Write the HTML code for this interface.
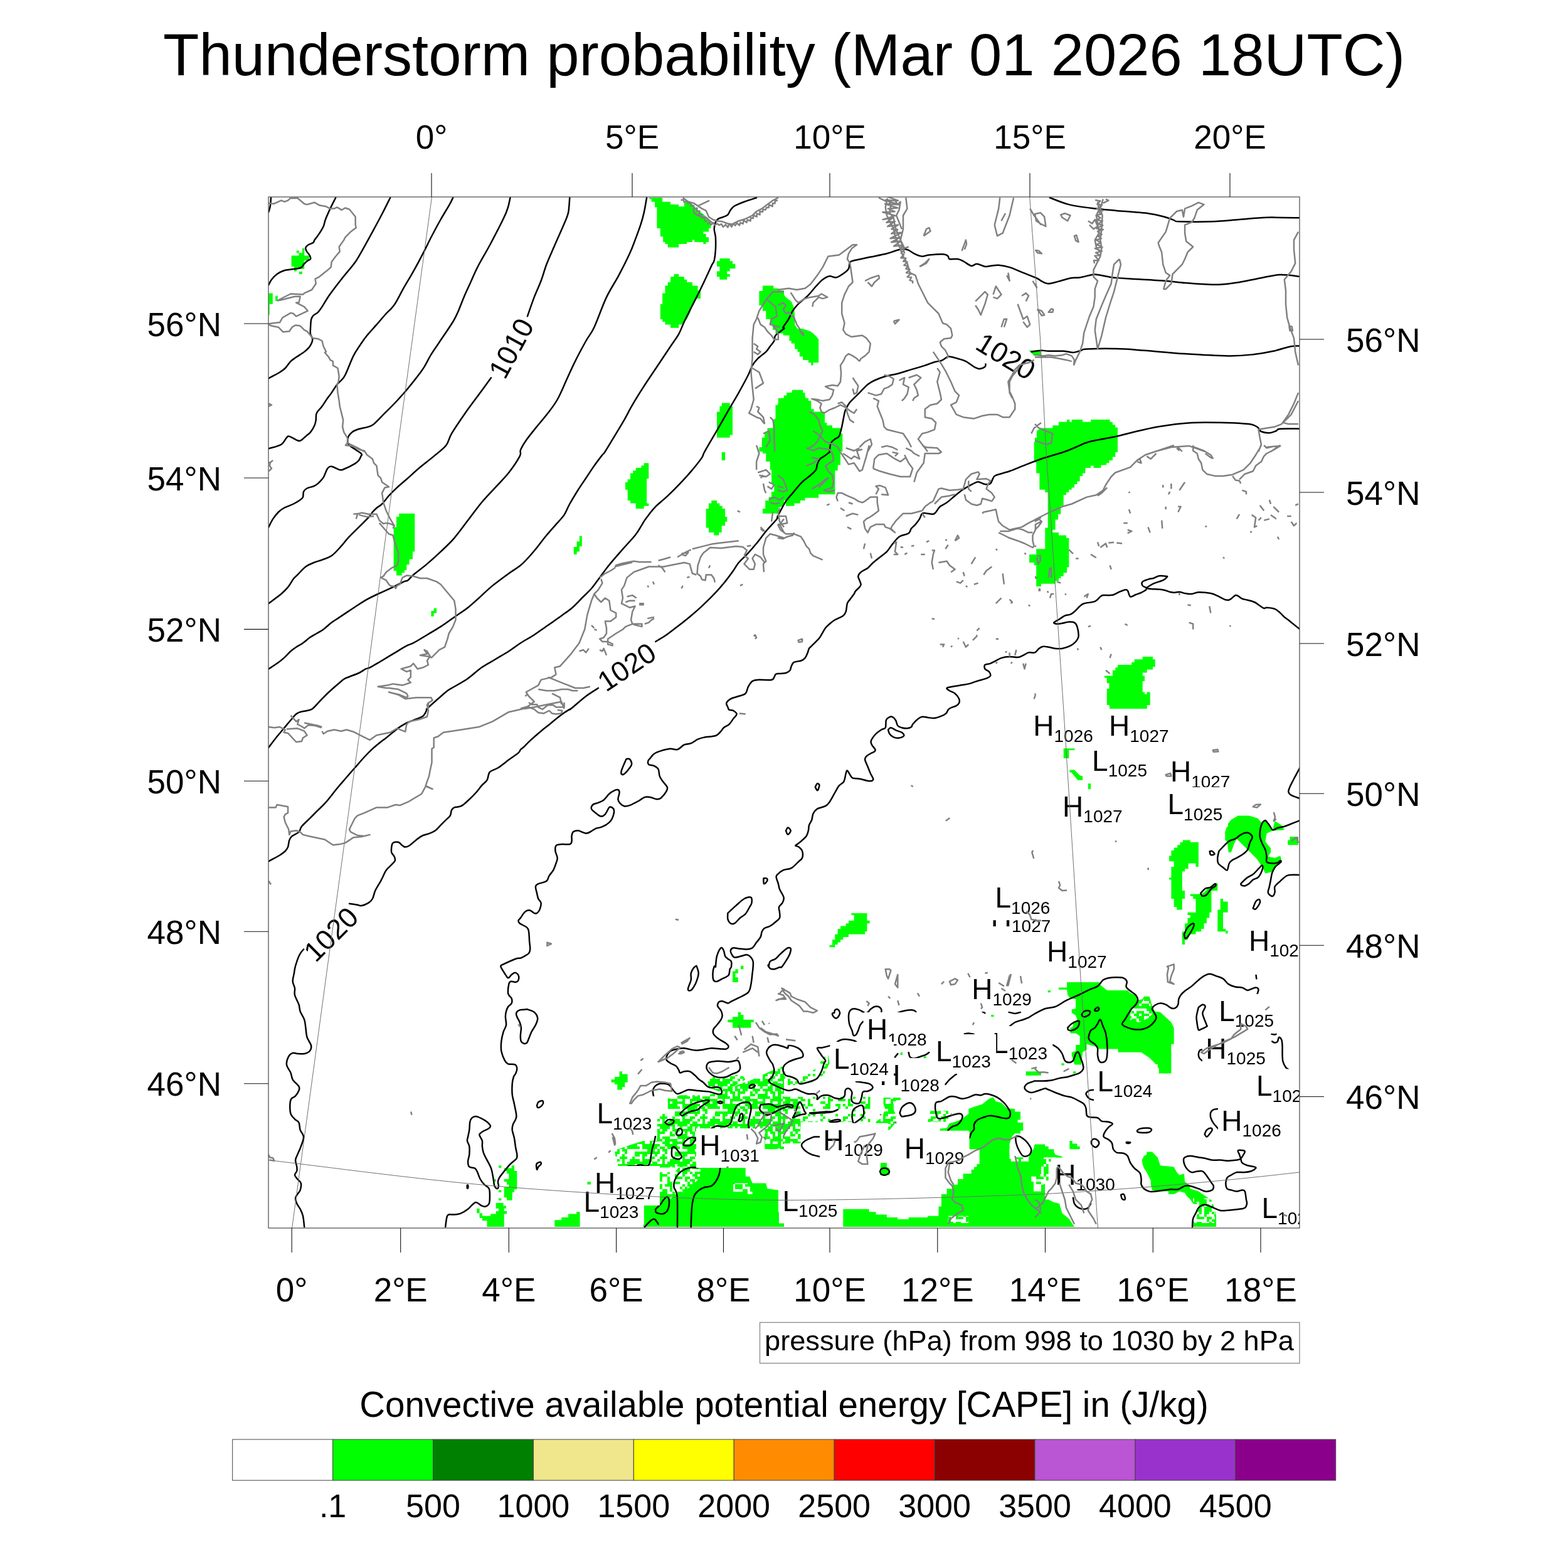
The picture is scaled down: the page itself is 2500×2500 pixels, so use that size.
<!DOCTYPE html>
<html><head><meta charset="utf-8">
<style>
html,body{margin:0;padding:0;background:#fff;}
body{width:2500px;height:2500px;overflow:hidden;}
svg{display:block;}
text{font-family:"Liberation Sans",Arial,sans-serif;fill:#000;}
</style></head><body>
<svg width="2500" height="2500" viewBox="0 0 2500 2500" xmlns="http://www.w3.org/2000/svg">
<rect width="2500" height="2500" fill="#fff"/>
<text x="1250" y="119.5" font-size="94" text-anchor="middle">Thunderstorm probability (Mar 01 2026 18UTC)</text>
<defs><pattern id="spk" width="64" height="64" patternUnits="userSpaceOnUse"><path fill="#00ff00" d="M0,0h8v4h-8zM12,0h40v4h-40zM56,0h8v4h-8zM8,4h8v4h-8zM20,4h4v4h-4zM28,4h16v4h-16zM48,4h4v4h-4zM60,4h4v4h-4zM0,8h16v4h-16zM20,8h8v4h-8zM32,8h8v4h-8zM48,8h12v4h-12zM4,12h4v4h-4zM12,12h8v4h-8zM24,12h12v4h-12zM44,12h4v4h-4zM52,12h4v4h-4zM0,16h8v4h-8zM16,16h4v4h-4zM24,16h4v4h-4zM44,16h8v4h-8zM56,16h8v4h-8zM0,20h12v4h-12zM16,20h12v4h-12zM32,20h12v4h-12zM56,20h8v4h-8zM0,24h4v4h-4zM12,24h20v4h-20zM36,24h20v4h-20zM0,28h4v4h-4zM12,28h4v4h-4zM32,28h12v4h-12zM48,28h16v4h-16zM0,32h28v4h-28zM36,32h20v4h-20zM0,36h24v4h-24zM28,36h8v4h-8zM40,36h20v4h-20zM8,40h12v4h-12zM24,40h4v4h-4zM32,40h8v4h-8zM0,44h28v4h-28zM36,44h4v4h-4zM52,44h12v4h-12zM0,48h8v4h-8zM20,48h4v4h-4zM32,48h4v4h-4zM52,48h8v4h-8zM0,52h4v4h-4zM12,52h8v4h-8zM28,52h12v4h-12zM48,52h4v4h-4zM0,56h16v4h-16zM24,56h4v4h-4zM32,56h4v4h-4zM44,56h16v4h-16zM0,60h12v4h-12zM16,60h8v4h-8zM32,60h4v4h-4zM40,60h24v4h-24z"/></pattern><pattern id="spw" width="64" height="64" patternUnits="userSpaceOnUse"><path fill="#fff" d="M0,0h4v4h-4zM8,0h4v4h-4zM24,0h4v4h-4zM40,0h4v4h-4zM48,0h8v4h-8zM12,4h4v4h-4zM60,4h4v4h-4zM12,8h24v4h-24zM48,8h4v4h-4zM60,8h4v4h-4zM8,12h4v4h-4zM16,12h4v4h-4zM32,12h8v4h-8zM44,12h12v4h-12zM60,12h4v4h-4zM4,16h12v4h-12zM24,16h4v4h-4zM40,16h12v4h-12zM56,16h8v4h-8zM0,20h4v4h-4zM12,20h8v4h-8zM32,20h8v4h-8zM44,20h8v4h-8zM0,24h4v4h-4zM8,24h4v4h-4zM20,24h4v4h-4zM32,24h8v4h-8zM44,24h20v4h-20zM0,28h8v4h-8zM12,28h4v4h-4zM20,28h20v4h-20zM48,28h4v4h-4zM60,28h4v4h-4zM4,32h4v4h-4zM16,32h4v4h-4zM32,32h4v4h-4zM48,32h16v4h-16zM0,36h4v4h-4zM8,36h12v4h-12zM32,36h12v4h-12zM48,36h12v4h-12zM8,40h4v4h-4zM16,40h16v4h-16zM40,40h4v4h-4zM48,40h16v4h-16zM0,44h16v4h-16zM40,44h8v4h-8zM52,44h4v4h-4zM0,48h4v4h-4zM24,48h4v4h-4zM0,52h20v4h-20zM44,52h4v4h-4zM4,56h4v4h-4zM12,56h12v4h-12zM28,56h4v4h-4zM44,56h4v4h-4zM4,60h12v4h-12zM20,60h4v4h-4zM28,60h12v4h-12zM52,60h4v4h-4z"/></pattern><pattern id="sps" width="64" height="64" patternUnits="userSpaceOnUse"><path fill="#00ff00" d="M24,0h4v4h-4zM40,0h4v4h-4zM48,0h4v4h-4zM60,0h4v4h-4zM16,4h8v4h-8zM28,4h16v4h-16zM36,8h4v4h-4zM44,8h4v4h-4zM8,12h8v4h-8zM32,12h4v4h-4zM48,12h4v4h-4zM0,16h16v4h-16zM20,16h4v4h-4zM32,16h4v4h-4zM40,16h4v4h-4zM48,16h4v4h-4zM56,16h4v4h-4zM16,20h4v4h-4zM32,20h4v4h-4zM40,20h4v4h-4zM60,20h4v4h-4zM0,24h4v4h-4zM8,24h4v4h-4zM40,24h8v4h-8zM56,24h8v4h-8zM8,28h4v4h-4zM28,28h8v4h-8zM40,28h4v4h-4zM0,32h4v4h-4zM8,32h8v4h-8zM36,32h8v4h-8zM52,32h8v4h-8zM4,36h4v4h-4zM32,36h12v4h-12zM56,36h4v4h-4zM16,40h4v4h-4zM32,44h4v4h-4zM8,48h4v4h-4zM16,48h4v4h-4zM28,48h4v4h-4zM52,48h4v4h-4zM0,52h8v4h-8zM32,52h4v4h-4zM0,56h4v4h-4zM28,56h4v4h-4zM40,56h4v4h-4zM8,60h8v4h-8zM20,60h4v4h-4zM40,60h8v4h-8zM52,60h4v4h-4zM60,60h4v4h-4z"/></pattern><clipPath id="fr"><rect x="428" y="314" width="1644" height="1644"/></clipPath></defs>
<g clip-path="url(#fr)">
<path fill="url(#spk)" d="M1064.8,1751.7 1084.3,1746.3 1121.3,1746.3 1151.7,1742 1169.1,1732.2 1199.6,1721.3 1227.8,1708.3 1250,1699.6 1250,1832.2 1214.8,1832.2 1214.8,1800.7 1110.4,1800.7 1110.4,1861.5 1047.4,1861.5 1047.4,1775.7 1064.8,1775.7Z M980,1834.3 1003.9,1825.7 1025.7,1819.1 1047.4,1819.1 1047.4,1861.5 986.5,1861.5 982.2,1849.6Z M1127.8,1721.3 1134.3,1717 1145.2,1717 1156.1,1719.1 1169.1,1714.8 1182.2,1712.6 1188.7,1721.3 1169.1,1732.2 1151.7,1742 1130,1734.3Z M1245.4,1748.7 1276.5,1748.7 1276.5,1823 1245.4,1823Z M1408.5,1749.6 1435.7,1749.6 1435.7,1753.9 1429.1,1753.9 1424.8,1760.4 1424.8,1769.1 1429.1,1780 1429.1,1788.7 1418.3,1801.7 1396.5,1801.7 1396.5,1788.7 1405.2,1782.2 1411.7,1769.1 1408.5,1760.4Z M1483.5,1771.3 1511.7,1771.3 1518.3,1780 1511.7,1788.7 1479.1,1788.7Z"/>
<path fill="url(#sps)" d="M1240,1703.9 1246.5,1701.7 1250.9,1708.3 1261.7,1714.8 1274.8,1719.1 1283.5,1712.6 1294.3,1708.3 1303,1701.7 1311.7,1686.5 1320.4,1682.2 1322.6,1695.2 1313.9,1712.6 1303,1723.5 1283.5,1727.8 1274.8,1730 1240,1730Z M1276.5,1748.7 1387.4,1748.7 1387.4,1788.9 1276.5,1788.9Z"/>
<path fill="#00ff00" d="M464.6,407.6h20.7v17.4h-20.7z M468.9,425h16.3v3.7h-16.3z M472.8,399.6h3.9v3.9h-3.9z M482,395.7h3.3v12h-3.3z M476.5,403.3h5.4v4.3h-5.4z M485.2,407.6h7.6v7.6h-7.6z M477,433h4.8v3.9h-4.8z M468.9,428.7h3.9v3.9h-3.9z M428.3,467.4h6.5v17.4h-6.5z M428.3,484.8h1.5v17.4h-1.5z M439.1,471.7h3.7v8.3h-3.7z M1035.4,315.2 1056.1,315.2 1056.1,321.7 1069.1,321.7 1069.1,326.1 1082.2,326.1 1082.2,329.3 1090.9,329.3 1090.9,320.7 1099.6,320.7 1106.1,328.3 1110.4,332.6 1114.8,337 1121.3,341.3 1130,350 1133.3,356.5 1133.3,364.1 1130,364.1 1130,369.6 1121.3,369.6 1121.3,372.8 1125.7,372.8 1125.7,378.3 1130,378.3 1130,385.9 1125.7,385.9 1125.7,389.1 1121.3,389.1 1121.3,385.9 1107.2,385.9 1107.2,382.6 1103.9,382.6 1103.9,385.9 1095.2,385.9 1095.2,389.1 1082.2,389.1 1082.2,394.6 1064.8,394.6 1064.8,389.1 1060.4,389.1 1060.4,385.9 1057.2,385.9 1057.2,377.2 1052.8,377.2 1052.8,364.1 1047.4,364.1 1047.4,330.4 1044.1,330.4 1044.1,321.7 1038.7,321.7 1038.7,317.4 1035.4,317.4Z M1147.4,412 1163.7,412 1163.7,416.3 1168,416.3 1168,420.7 1172.4,420.7 1172.4,428.3 1163.7,428.3 1163.7,432.6 1159.3,432.6 1159.3,437 1163.7,437 1163.7,441.3 1159.3,441.3 1159.3,445.7 1147.4,445.7 1147.4,441.3 1143,441.3 1143,432.6 1147.4,432.6 1147.4,425 1143,425 1143,416.3 1147.4,416.3Z M1074.6,437 1082.2,437 1082.2,441.3 1090.9,441.3 1090.9,445.7 1095.2,445.7 1095.2,450 1103.9,450 1103.9,455.4 1112.6,455.4 1112.6,463 1117,463 1117,476.1 1110.4,476.1 1103.9,487 1099.6,500 1095.2,508.7 1090.9,513 1086.5,517.4 1082.2,517.4 1082.2,522.8 1069.1,522.8 1069.1,517.4 1060.4,517.4 1060.4,513 1056.1,513 1056.1,508.7 1052.8,508.7 1052.8,484.8 1056.1,484.8 1056.1,467.4 1060.4,467.4 1060.4,455.4 1064.8,455.4 1064.8,450 1069.1,450 1069.1,441.3 1074.6,441.3Z M1150.7,642.4 1163.7,642.4 1163.7,647.8 1168,647.8 1168,693.5 1163.7,693.5 1163.7,697.8 1143,697.8 1143,656.5 1147.4,656.5 1147.4,647.8 1150.7,647.8Z M1210.4,464.1 1215.9,464.1 1215.9,455.4 1233.3,455.4 1233.3,459.8 1240.9,459.8 1240.9,463 1250,463 1250,531.5 1236.5,531.5 1236.5,526.1 1232.2,526.1 1232.2,517.4 1227.8,517.4 1227.8,508.7 1221.3,508.7 1221.3,495.7 1215.9,495.7 1215.9,487 1210.4,487Z M1240.9,634.8 1250,634.8 1250,720 1210.4,720 1210.4,713 1214.8,713 1214.8,697.8 1219.1,697.8 1219.1,689.1 1223.5,689.1 1223.5,682.6 1232.2,682.6 1232.2,669.6 1236.5,667.4 1236.5,645.7 1240.9,645.7Z M1240,459.8 1246.5,465.2 1253,473.9 1261.7,480.4 1266.1,491.3 1267.2,504.3 1267.2,517.4 1271.5,523.9 1279.1,523.9 1292.2,528.3 1297.6,532.6 1302,537 1305.2,541.3 1305.2,578.3 1296.5,578.3 1296.5,582.6 1293.3,582.6 1293.3,578.3 1288.9,578.3 1288.9,573.9 1280.2,573.9 1280.2,568.5 1274.8,568.5 1274.8,560.9 1271.5,560.9 1271.5,556.5 1267.2,556.5 1267.2,547.8 1261.7,547.8 1261.7,543.5 1258.5,543.5 1258.5,534.8 1248.7,534.8 1248.7,530.4 1240,530.4Z M1240,643.5 1245.4,643.5 1245.4,634.8 1249.8,634.8 1249.8,630.4 1254.1,630.4 1254.1,626.1 1262.8,626.1 1262.8,621.7 1280.2,621.7 1280.2,626.1 1283.5,626.1 1283.5,630.4 1284.6,634.8 1288.9,634.8 1288.9,639.1 1293.3,639.1 1293.3,652.2 1297.6,652.2 1297.6,656.5 1315,656.5 1315,673.9 1318.3,673.9 1318.3,678.3 1327,678.3 1327,682.6 1340,682.6 1340,691.3 1343.3,691.3 1343.3,720 1240,720Z M1653,687 1660,682.6 1660,720 1648.7,720 1648.7,704.3 1653,704.3Z M1640,558.7 1660,558.7 1660,567.4 1648.7,567.4 1644.3,562Z M1650,720 1650,697.8 1653.3,697.8 1653.3,687 1658.7,687 1658.7,682.6 1678.3,682.6 1678.3,678.3 1688,678.3 1688,672.8 1701.1,672.8 1701.1,669.1 1705.4,669.1 1705.4,672.8 1708.7,672.8 1708.7,669.1 1726.1,669.1 1726.1,672.8 1739.1,672.8 1739.1,669.1 1769.6,669.1 1769.6,672.8 1773.9,672.8 1773.9,677.2 1778.3,677.2 1778.3,681.5 1782,681.5 1782,720Z M1650,558.7 1657.6,558.7 1657.6,567.4 1650,567.4Z M636.3,818.7 661.3,818.7 661.3,879.6 658,879.6 658,891.5 652.6,891.5 652.6,900.2 648.3,900.2 648.3,908.9 645,908.9 645,913.3 640.7,913.3 640.7,917.6 632,917.6 632,910 627.6,910 627.6,840.4 632,840.4 632,824.1 636.3,824.1Z M691.7,969.8 696.1,969.8 696.1,977.4 691.7,977.4 691.7,982.8 687.4,982.8 687.4,974.1 691.7,974.1Z M1026.7,738.3 1034.3,738.3 1034.3,763.3 1031.1,763.3 1031.1,802.4 1034.3,802.4 1034.3,806.7 1026.7,806.7 1026.7,811.1 1013.7,811.1 1013.7,802.4 1005,802.4 1005,798 1000.7,798 1000.7,780.7 997,780.7 997,768.7 1000.7,768.7 1000.7,764.3 1005,764.3 1005,754.6 1009.3,754.6 1009.3,750.2 1013.7,750.2 1013.7,745.9 1022.4,745.9 1022.4,742.2 1026.7,742.2Z M923.9,854.6 927.8,854.6 927.8,870.9 923.9,870.9 923.9,879.6 919.6,879.6 919.6,883.9 914.8,883.9 914.8,872 919.6,872 919.6,863.3 923.9,863.3Z M1134.3,798 1143,798 1143,802.4 1147.4,802.4 1147.4,806.7 1151.7,806.7 1151.7,811.1 1156.1,811.1 1156.1,824.1 1159.3,824.1 1159.3,831.7 1156.1,831.7 1156.1,838.3 1150.7,838.3 1150.7,849.1 1146.3,849.1 1146.3,853.5 1138.3,853.5 1138.3,849.1 1130,849.1 1130,841.5 1125.7,841.5 1125.7,811.1 1130,811.1 1130,802.4 1134.3,802.4Z M1150.7,720.9h5.4v13h-5.4z M1215.9,710 1250,710 1250,805.7 1240.9,810 1240.9,818.7 1215.9,818.7 1215.9,811.1 1220.2,811.1 1220.2,798 1225.7,798 1225.7,792.6 1230,792.6 1230,783.9 1234.3,783.9 1234.3,770.9 1230,770.9 1230,749.1 1227.8,749.1 1227.8,736.1 1221.3,736.1 1221.3,723 1215.9,723Z M1240,710 1340,710 1340,741.5 1335.7,741.5 1335.7,750.2 1331.3,750.2 1331.3,788.3 1305.2,788.3 1305.2,793.7 1283.5,793.7 1283.5,798 1275.9,798 1275.9,802.4 1266.5,802.4 1266.5,806.7 1253,806.7 1253,798 1240,798Z M1648.7,710 1660,710 1660,780.7 1657.4,780.7 1657.4,754.6 1653,754.6 1653,733.9 1648.7,733.9Z M1653,875.2 1660,875.2 1660,935 1653,935 1653,914.3 1657.4,914.3 1657.4,910 1653,910 1653,905.7 1657.4,905.7 1657.4,901.3 1648.7,901.3 1648.7,897 1641.1,897 1641.1,883.9 1653,883.9Z M1650,710 1782,710 1782,720.9 1778.3,720.9 1778.3,728.5 1773.9,728.5 1773.9,733.9 1768.5,733.9 1768.5,738.3 1764.1,738.3 1764.1,741.5 1755.4,741.5 1755.4,745.9 1743.5,745.9 1743.5,742.6 1739.1,742.6 1739.1,745.9 1730.4,745.9 1730.4,754.6 1726.1,754.6 1726.1,758.9 1721.7,758.9 1721.7,767.6 1717.4,767.6 1717.4,772 1713,772 1713,777.4 1708.7,777.4 1708.7,780.7 1704.3,780.7 1704.3,785 1700,785 1700,789.3 1695.7,789.3 1695.7,806.7 1691.3,806.7 1691.3,819.8 1687,819.8 1687,828.5 1682.6,828.5 1682.6,844.8 1678.3,844.8 1678.3,849.1 1688,849.1 1688,853.5 1700,853.5 1700,857.8 1704.3,857.8 1704.3,904.6 1701.1,904.6 1701.1,913.3 1695.7,913.3 1695.7,918.7 1691.3,918.7 1691.3,922 1688,922 1688,926.3 1682.6,926.3 1682.6,930.7 1659.8,930.7 1659.8,935 1652.2,935 1652.2,875.2 1666.3,875.2 1666.3,841.5 1670.7,841.5 1670.7,785 1666.3,785 1666.3,780.7 1658.7,780.7 1658.7,754.6 1652.2,754.6 1652.2,737.2 1650,737.2Z M1821.7,1047 1838,1047 1838,1051.3 1841.7,1051.3 1841.7,1063.3 1838,1063.3 1838,1067.6 1828.7,1067.6 1828.7,1072.6 1821.7,1072.6 1821.7,1077.4 1825,1077.4 1825,1086.1 1821.7,1086.1 1821.7,1103.5 1825,1103.5 1825,1106.7 1828.7,1106.7 1828.7,1103.5 1833.7,1103.5 1833.7,1124.1 1828.7,1124.1 1828.7,1130 1769.1,1130 1769.1,1124.1 1764.8,1124.1 1764.8,1098 1768.5,1098 1768.5,1089.3 1764.8,1089.3 1764.8,1080.7 1760.9,1080.7 1760.9,1077.4 1773.9,1077.4 1773.9,1068.7 1778.3,1068.7 1778.3,1064.3 1782,1064.3 1782,1060 1804.3,1060 1804.3,1055.7 1808.7,1055.7 1808.7,1051.3 1821.7,1051.3Z M1357.4,1455.9 1382.4,1455.9 1382.4,1467.8 1386.7,1467.8 1386.7,1472.2 1382.4,1472.2 1382.4,1485.2 1379.1,1485.2 1379.1,1489.6 1353,1489.6 1353,1493.9 1344.3,1493.9 1344.3,1498.3 1340,1498.3 1340,1502.6 1335.7,1502.6 1335.7,1505.9 1331.3,1505.9 1331.3,1510.2 1322.6,1510.2 1322.6,1507 1327,1507 1327,1498.3 1331.3,1498.3 1331.3,1489.6 1335.7,1489.6 1335.7,1480.9 1340,1480.9 1340,1476.5 1348.7,1476.5 1348.7,1472.2 1353,1472.2 1353,1467.8 1361.7,1467.8 1361.7,1459.1 1357.4,1459.1Z M1768.5,1120 1833.7,1120 1833.7,1124.3 1828.7,1124.3 1828.7,1129.8 1773.9,1129.8 1773.9,1125.4 1768.5,1125.4Z M1695.7,1192.8 1713.5,1192.8 1713.5,1196.1 1704.3,1196.1 1704.3,1209.1 1695.7,1209.1Z M1705.4,1227.6 1713,1227.6 1717.4,1232 1721.7,1236.3 1726.1,1237.4 1726.1,1243.9 1718.5,1243.9 1713,1237.4 1708.7,1232 1705.4,1230.9Z M1734.8,1249.3h4.3v9.3h-4.3z M1885.9,1339.6 1897.8,1339.6 1897.8,1342.8 1910.9,1342.8 1910.9,1382 1906.5,1382 1906.5,1376.5 1894.6,1376.5 1894.6,1385.2 1889.1,1385.2 1889.1,1389.6 1884.8,1389.6 1884.8,1420 1889.1,1420 1889.1,1433 1884.8,1433 1884.8,1450.4 1876.1,1450.4 1876.1,1446.1 1871.7,1446.1 1871.7,1433 1867.4,1433 1867.4,1402.6 1864.1,1402.6 1864.1,1399.3 1867.4,1399.3 1867.4,1382 1871.7,1382 1871.7,1373.3 1864.1,1373.3 1864.1,1364.6 1867.4,1364.6 1867.4,1355.9 1871.7,1355.9 1871.7,1351.5 1877.2,1351.5 1877.2,1347.2 1881.5,1347.2 1881.5,1342.8 1885.9,1342.8Z M1897.8,1425.4 1914.1,1425.4 1919.6,1423.3 1926.1,1415.7 1932.6,1411.3 1937,1408 1941.3,1408 1941.3,1420 1931.5,1420 1931.5,1454.8 1928.3,1454.8 1928.3,1463.5 1923.9,1463.5 1923.9,1472.2 1919.6,1472.2 1919.6,1480.9 1915.2,1480.9 1915.2,1485.2 1906.5,1485.2 1906.5,1489.6 1897.8,1489.6 1893.5,1498.3 1889.1,1498.3 1889.1,1505.9 1884.8,1505.9 1884.8,1485.2 1889.1,1485.2 1889.1,1472.2 1893.5,1472.2 1893.5,1463.5 1897.8,1463.5 1897.8,1459.1 1893.5,1459.1 1893.5,1454.8 1906.5,1454.8 1906.5,1433 1902.2,1433 1902.2,1428.7 1897.8,1428.7Z M1945.7,1433 1950,1433 1950,1437.4 1957.6,1437.4 1957.6,1454.8 1950,1454.8 1950,1480.9 1954.3,1480.9 1954.3,1484.1 1957.6,1484.1 1957.6,1488.5 1954.3,1488.5 1954.3,1485.2 1941.3,1485.2 1941.3,1450.4 1945.7,1450.4Z M1963,1307 1973.9,1300.4 1991.3,1300.4 2005.4,1304.8 2010.9,1311.3 2017.4,1308 2023.9,1315.7 2029.3,1322.2 2032.6,1309.1 2043.5,1315.7 2047.8,1323.3 2029.3,1324.3 2019.6,1328.7 2017.4,1341.7 2026.1,1352.6 2026.1,1359.1 2021.7,1365.7 2032.6,1367.8 2041.3,1364.6 2043.5,1372.2 2032.6,1384.1 2030.4,1389.6 2017.4,1392.8 2013,1383 2004.3,1370 1995.7,1361.3 1989.1,1354.8 1982.6,1348.3 1976.1,1341.7 1971.7,1337.4 1967.4,1346.1 1963,1359.1 1958.7,1359.1 1956.5,1341.7 1953.3,1339.6 1953.3,1326.5 1957.6,1313.5Z M2056.5,1334.1 2070,1334.1 2070,1347.2 2053.3,1347.2 2053.3,1339.6 2056.5,1339.6Z M803.7,1862.6 815.7,1862.6 815.7,1858.3 820,1858.3 820,1867 824.3,1867 824.3,1896.3 820,1896.3 820,1900.7 816.7,1900.7 816.7,1913.7 808,1913.7 808,1909.3 803.7,1909.3 803.7,1893 811.3,1893 811.3,1888.7 808,1888.7 808,1884.3 803.7,1884.3 803.7,1880 811.3,1880 811.3,1871.3 808,1871.3 808,1867 803.7,1867Z M795,1858.3h4.3v3.7h-4.3z M795,1897.4h4.3v3.7h-4.3z M795,1910.4h4.3v3.7h-4.3z M787.4,1880h3.3v4.3h-3.3z M790.7,1918 802.6,1918 802.6,1922.4 807,1922.4 807,1926.7 803.7,1926.7 803.7,1931.1 808,1931.1 808,1935.4 803.7,1935.4 803.7,1956.1 776.5,1956.1 776.5,1946.3 768.9,1946.3 768.9,1942 764.6,1942 764.6,1934.3 760.2,1934.3 760.2,1926.7 764.6,1926.7 764.6,1934.3 768.9,1934.3 768.9,1938.7 782,1938.7 782,1935.4 790.7,1935.4 790.7,1931.1 795,1931.1 795,1926.7 790.7,1926.7Z M1181.1,1539.8 1185.4,1539.8 1185.4,1545.2 1176.7,1545.2 1176.7,1551.7 1172.4,1551.7 1172.4,1558.3 1176.7,1558.3 1176.7,1565.9 1168,1565.9 1168,1548.5 1172.4,1548.5 1172.4,1545.2 1181.1,1545.2Z M1176.7,1613.7 1181.1,1613.7 1181.1,1618 1185.4,1618 1185.4,1625.7 1201.7,1625.7 1201.7,1630 1197.4,1630 1197.4,1638.7 1168,1638.7 1168,1630 1160.4,1630 1160.4,1625.7 1168,1625.7 1168,1621.3 1176.7,1621.3Z M987.6,1708.3 992,1708.3 992,1712.6 1000.7,1712.6 1000.7,1725.7 996.3,1725.7 996.3,1733.3 992,1733.3 992,1737.6 984.3,1737.6 984.3,1728.9 980,1728.9 980,1725.7 974.6,1725.7 974.6,1721.3 980,1721.3 980,1717 987.6,1717Z M1051.7,1869.1 1075.7,1869.1 1082.2,1861.5 1112.6,1861.5 1188.7,1861.5 1188.7,1875.7 1195.2,1875.7 1199.6,1886.5 1221.3,1886.5 1223.5,1895.2 1240.9,1897.4 1240.9,1932.2 1250,1936.5 1250,1956.1 1025.7,1956.1 1025.7,1921.3 1050.7,1921.3 1050.7,1873.5Z M884.3,1956.1 884.3,1945.2 895.2,1945.2 895.2,1940.9 906.1,1940.9 906.1,1935.4 919.1,1935.4 919.1,1932.2 924.6,1932.2 924.6,1956.1Z M936.5,1884.3h5.4v4.3h-5.4z M1544.3,1832.2 1544.3,1802.8 1498.7,1802.8 1498.7,1799.6 1509.6,1798.5 1513.9,1790.9 1522.6,1788.7 1533.5,1784.3 1544.3,1775.7 1544.3,1768 1553,1764.8 1566.1,1760.4 1577,1751.7 1583.5,1749.6 1587.8,1756.1 1596.5,1758.3 1600.9,1762.6 1605.2,1767 1618.3,1768 1618.3,1772.4 1627,1772.4 1627,1785.4 1622.6,1785.4 1622.6,1789.8 1631.3,1789.8 1631.3,1802.8 1627,1802.8 1627,1807.2 1618.3,1807.2 1613.9,1811.5 1609.6,1823.5 1609.6,1845.2 1631.3,1845.2 1631.3,1851.7 1640,1851.7 1640,1845.2 1648.7,1830 1648.7,1825.7 1666.1,1824.6 1666.1,1956.1 1496.5,1956.1 1496.5,1923.5 1500.9,1923.5 1500.9,1903.9 1509.6,1903.9 1509.6,1895.2 1518.3,1895.2 1518.3,1888.7 1527,1888.7 1527,1880 1535.7,1880 1535.7,1871.3 1548.7,1871.3 1548.7,1864.8 1553,1864.8 1553,1860.4 1557.4,1860.4 1557.4,1856.1 1561.7,1856.1 1561.7,1832.2Z M1344.3,1927.8 1385.7,1927.8 1385.7,1932.2 1396.5,1932.2 1396.5,1936.5 1413.9,1936.5 1413.9,1940.9 1431.3,1940.9 1431.3,1944.1 1448.7,1944.1 1448.7,1940.9 1479.1,1940.9 1479.1,1938.7 1496.5,1938.7 1496.5,1956.1 1344.3,1956.1Z M1240,1727 1245.4,1727 1245.4,1831.1 1240,1831.1Z M1404.1,1853.9 1413.9,1853.9 1413.9,1860.4 1418.3,1862.6 1418.3,1873.5 1403,1873.5Z M1580.2,1618h4.3v3.3h-4.3z M1635.7,1708.3h24.3v6.5h-24.3z M1435.7,1677.8h3.3v4.3h-3.3z M1472.6,1684.3h4.3v3.3h-4.3z M1701.1,1565.9 1752.2,1565.9 1754.3,1570.2 1765.2,1578.9 1797.8,1578.9 1802.2,1583.3 1812,1587.6 1813,1595.2 1821.7,1593 1823.9,1588.7 1832.6,1588.7 1837,1603.9 1841.3,1612.6 1850,1613.7 1867.4,1630 1871.7,1638.7 1871.7,1664.8 1867.4,1664.8 1867.4,1711.5 1847.8,1711.5 1847.8,1703.9 1841.3,1695.2 1832.6,1686.5 1819.6,1677.8 1782.6,1677.8 1782.6,1672.4 1752.2,1672.4 1747.8,1669.1 1732.6,1664.8 1732.6,1673.5 1726.1,1677.8 1723.9,1697.4 1713,1697.4 1708.7,1682.2 1708.7,1677.8 1715.2,1675.7 1715.2,1665.9 1721.7,1665.9 1721.7,1651.7 1715.2,1647.4 1706.5,1647.4 1706.5,1638.7 1710.9,1636.5 1710.9,1630 1717.4,1625.7 1715.2,1619.1 1708.7,1614.8 1708.7,1609.3 1715.2,1608.3 1715.2,1593 1706.5,1592 1702.2,1586.5 1701.1,1577.8 1688,1577.8 1688,1574.6 1701.1,1574.6Z M1670.7,1578.9h4.3v3.3h-4.3z M1692.4,1695.2h4.3v3.3h-4.3z M1710.9,1708.3h4.3v3.3h-4.3z M1650,1708.3h8.7v6.5h-8.7z M1650,1824.6 1665.2,1824.6 1665.2,1827.8 1671.7,1827.8 1671.7,1832.2 1680.4,1832.2 1680.4,1836.5 1682.6,1840.9 1693.5,1844.1 1693.5,1847.4 1676.1,1847.4 1676.1,1853.9 1671.7,1853.9 1671.7,1882.2 1667.4,1882.2 1663,1895.2 1658.7,1897.4 1658.7,1912.6 1671.7,1912.6 1680.4,1917 1689.1,1919.1 1693.5,1934.3 1704.3,1943 1713,1956.1 1650,1956.1Z M1705.4,1819.1 1709.8,1819.1 1709.8,1823.5 1717.4,1823.5 1717.4,1827.8 1721.7,1827.8 1721.7,1832.2 1705.4,1832.2Z M1828.3,1836.5 1837,1836.5 1845.7,1845.2 1850,1858.3 1871.7,1860.4 1876.1,1869.1 1880.4,1873.5 1888,1871.3 1889.1,1884.3 1895.7,1888.7 1897.8,1895.2 1910.9,1899.6 1917.4,1903.9 1923.9,1908.3 1932.6,1914.8 1934.8,1921.3 1937,1930 1939.1,1938.7 1939.1,1956.1 1902.2,1956.1 1902.2,1943 1906.5,1934.3 1910.9,1927.8 1908.7,1921.3 1902.2,1919.1 1897.8,1912.6 1891.3,1906.1 1889.1,1901.7 1880.4,1899.6 1871.7,1903.9 1863,1903.9 1863,1899.6 1845.7,1899.6 1837,1897.4 1834.8,1888.7 1834.8,1882.2 1832.6,1877.8 1828.3,1869.1 1823.9,1862.6 1821.7,1856.1 1820.7,1849.6 1823.9,1843 1828.3,1840.9Z"/>
<path fill="url(#spw)" d="M1050,1861.1 1117,1861.1 1117,1877.8 1090.9,1899.6 1069.1,1911.1 1050,1911.1Z M1169.1,1886.5 1199.6,1886.5 1199.6,1903.9 1169.1,1903.9Z M1609.6,1830 1631.3,1830 1631.3,1851.7 1609.6,1851.7Z M1644.3,1875.7 1660,1875.7 1660,1899.6 1644.3,1899.6Z M1511.7,1938.7 1544.3,1938.7 1544.3,1950 1511.7,1950Z M1806.5,1601.7 1819.6,1599.6 1823.9,1593 1832.6,1593 1834.8,1603.9 1837,1617 1830.4,1623.5 1815.2,1630 1802.2,1625.7 1802.2,1617Z M1658.7,1845.2 1693.5,1845.2 1693.5,1888.7 1658.7,1888.7Z M1902.2,1910.4 1937,1910.4 1937,1950 1902.2,1950Z"/>
<path fill="none" stroke="#000" stroke-width="2.5" stroke-linejoin="round" stroke-linecap="round" d="M998.5,1210.2 C999.4,1210.2 1002.5,1208.9 1003.9,1210.2 C1005.4,1211.5 1007.2,1215.5 1007.2,1217.8 C1007.2,1220.2 1005.9,1221.6 1003.9,1224.3 C1001.9,1227.1 997.4,1232.5 995.2,1234.1 C993,1235.8 991.6,1235 990.9,1234.1 C990.1,1233.2 990.1,1231.4 990.9,1228.7 C991.6,1226 993.9,1220.9 995.2,1217.8 C996.5,1214.7 997.9,1211.5 998.5,1210.2Z M1217.4,1400.4 C1218.2,1400.4 1221.4,1399.7 1222.4,1400.4 C1223.3,1401.2 1223.8,1403.3 1223,1404.8 C1222.3,1406.2 1219,1409.9 1218,1409.1 C1217.1,1408.4 1217.5,1401.9 1217.4,1400.4Z M1160.4,1455.9 C1162.6,1453.9 1169.1,1447.7 1173.5,1443.9 C1177.8,1440.1 1182.5,1435.2 1186.5,1433 C1190.5,1430.9 1195.4,1429.8 1197.4,1430.9 C1199.4,1432 1198.8,1437 1198.5,1439.6 C1198.1,1442.1 1196.8,1443.2 1195.2,1446.1 C1193.6,1449 1191.2,1454.1 1188.7,1457 C1186.2,1459.9 1182.9,1460.9 1180,1463.5 C1177.1,1466 1173.8,1470.7 1171.3,1472.2 C1168.8,1473.6 1166.6,1473.3 1164.8,1472.2 C1163,1471.1 1161.2,1468.4 1160.4,1465.7 C1159.7,1462.9 1160.4,1457.5 1160.4,1455.9Z M1416.1,1163.5 C1416.8,1162.9 1418.3,1160 1420.4,1160.2 C1422.6,1160.4 1426.2,1163.3 1429.1,1164.6 C1432,1165.8 1435.8,1166.4 1437.8,1167.8 C1439.8,1169.3 1441.8,1171.8 1441.1,1173.3 C1440.4,1174.7 1436.2,1176.2 1433.5,1176.5 C1430.8,1176.9 1427.3,1176.5 1424.8,1175.4 C1422.2,1174.3 1419.7,1172 1418.3,1170 C1416.8,1168 1416.4,1164.6 1416.1,1163.5Z M1299.8,1254.8 C1300.3,1253.9 1302,1249.9 1303,1249.3 C1304.1,1248.8 1305.9,1250.3 1306.3,1251.5 C1306.7,1252.8 1305.8,1255.5 1305.2,1257 C1304.7,1258.4 1303.9,1260.6 1303,1260.2 C1302.1,1259.9 1300.3,1255.7 1299.8,1254.8Z M1253,1324.3 C1253.6,1323.6 1255,1319.6 1256.3,1319.6 C1257.6,1319.6 1260.5,1322.6 1260.7,1324.3 C1260.8,1326.1 1258.3,1328.9 1257.4,1329.8 C1256.5,1330.7 1255.9,1330.7 1255.2,1329.8 C1254.5,1328.9 1253.4,1325.3 1253,1324.3Z M1943.5,1357 C1946,1354.4 1954.3,1345 1958.7,1341.7 C1963,1338.5 1966.3,1339.2 1969.6,1337.4 C1972.8,1335.6 1975.4,1332.5 1978.3,1330.9 C1981.2,1329.2 1984.4,1327.8 1987,1327.6 C1989.5,1327.4 1991.8,1328.5 1993.5,1329.8 C1995.1,1331.1 1996.7,1333.2 1996.7,1335.2 C1996.7,1337.2 1994.4,1339.6 1993.5,1341.7 C1992.6,1343.9 1992,1346.1 1991.3,1348.3 C1990.6,1350.4 1990.6,1352.6 1989.1,1354.8 C1987.7,1357 1985.1,1359.3 1982.6,1361.3 C1980.1,1363.3 1976.8,1365.1 1973.9,1366.7 C1971,1368.4 1967.6,1369.5 1965.2,1371.1 C1962.9,1372.7 1961.2,1373.8 1959.8,1376.5 C1958.3,1379.2 1958.2,1386.3 1956.5,1387.4 C1954.9,1388.5 1952.4,1384.9 1950,1383 C1947.6,1381.2 1943.8,1379.1 1942.4,1376.5 C1940.9,1374 1941.1,1371.1 1941.3,1367.8 C1941.5,1364.6 1943.1,1358.8 1943.5,1357Z M1928.7,1357.4 C1929.3,1357.3 1931.3,1356.2 1932.6,1357 C1933.9,1357.7 1936.9,1360.7 1936.5,1361.7 C1936.2,1362.8 1931.7,1363.8 1930.4,1363 C1929.1,1362.3 1929,1358.3 1928.7,1357.4Z M1978.3,1409.1 C1979.7,1407.7 1983.7,1403 1987,1400.4 C1990.2,1397.9 1994.6,1396.4 1997.8,1393.9 C2001.1,1391.4 2004.2,1387.6 2006.5,1385.2 C2008.9,1382.9 2010.9,1379.8 2012,1379.8 C2013,1379.8 2013.9,1382.1 2013,1385.2 C2012.1,1388.3 2009.1,1395.4 2006.5,1398.3 C2004,1401.2 2000.4,1400.8 1997.8,1402.6 C1995.3,1404.4 1993.5,1407.5 1991.3,1409.1 C1989.1,1410.8 1986.8,1412 1984.8,1412.4 C1982.8,1412.8 1980.4,1411.8 1979.3,1411.3 C1978.3,1410.8 1978.4,1409.5 1978.3,1409.1Z M1914.1,1424.3 C1915.4,1423.1 1919,1418.4 1921.7,1416.7 C1924.5,1415.1 1927.9,1415.8 1930.4,1414.6 C1933,1413.3 1935.7,1409.5 1937,1409.1 C1938.2,1408.8 1939.1,1410.9 1938,1412.4 C1937,1413.8 1932.8,1415.5 1930.4,1417.8 C1928.1,1420.2 1926.1,1424.7 1923.9,1426.5 C1921.7,1428.3 1919,1429.1 1917.4,1428.7 C1915.8,1428.3 1914.7,1425.1 1914.1,1424.3Z M1997.8,1448.3 C1998.6,1446.4 2000.5,1439.7 2002.2,1437.4 C2003.8,1435 2006.5,1433.8 2007.6,1434.1 C2008.7,1434.5 2009.6,1437 2008.7,1439.6 C2007.8,1442.1 2004,1447.9 2002.2,1449.3 C2000.4,1450.8 1998.6,1448.4 1997.8,1448.3Z M1888,1489.6 C1888.9,1487.8 1891.1,1481.6 1893.5,1478.7 C1895.8,1475.8 1900.5,1472.5 1902.2,1472.2 C1903.8,1471.8 1904,1474 1903.3,1476.5 C1902.5,1479.1 1899.8,1484.1 1897.8,1487.4 C1895.8,1490.7 1892.8,1494.8 1891.3,1496.1 C1889.9,1497.4 1889.7,1496.1 1889.1,1495 C1888.6,1493.9 1888.2,1490.5 1888,1489.6Z M744.8,1889.8 C745,1889.8 745.9,1889.1 746.1,1889.8 C746.3,1890.5 746.3,1893.4 746.1,1894.1 C745.9,1894.9 745,1894.9 744.8,1894.1 C744.6,1893.4 744.8,1890.5 744.8,1889.8Z M856.1,1762.6 C856.4,1761.7 856.8,1758.4 858.3,1757.2 C859.7,1755.9 863.5,1754.6 864.8,1755 C866.1,1755.4 866.4,1757.7 865.9,1759.3 C865.3,1761 863,1763.7 861.5,1764.8 C860.1,1765.9 858.1,1766.2 857.2,1765.9 C856.3,1765.5 856.3,1763.2 856.1,1762.6Z M855,1858.3 C855.2,1857.7 855,1855.9 856.1,1855 C857.2,1854.1 860.4,1852.6 861.5,1852.8 C862.6,1853 863.2,1854.8 862.6,1856.1 C862.1,1857.4 859.3,1859 858.3,1860.4 C857.2,1861.9 856.6,1865.1 856.1,1864.8 C855.5,1864.4 855.2,1859.3 855,1858.3Z M1110.4,1539.8 C1111,1541.8 1113.7,1547.6 1113.7,1551.7 C1113.7,1555.9 1111.7,1561.2 1110.4,1564.8 C1109.2,1568.4 1107.5,1571.1 1106.1,1573.5 C1104.6,1575.8 1103.2,1578 1101.7,1578.9 C1100.3,1579.8 1098.1,1579.6 1097.4,1578.9 C1096.7,1578.2 1096.7,1577.3 1097.4,1574.6 C1098.1,1571.8 1101,1566.4 1101.7,1562.6 C1102.5,1558.8 1101,1555 1101.7,1551.7 C1102.5,1548.5 1104.6,1545 1106.1,1543 C1107.5,1541.1 1109.7,1540.3 1110.4,1539.8Z M1126.7,1698.5 C1127.3,1697.8 1127.6,1695.2 1130,1694.1 C1132.4,1693 1137.6,1692.3 1140.9,1692 C1144.1,1691.6 1145.9,1691.8 1149.6,1692 C1153.2,1692.1 1158.3,1693.2 1162.6,1693 C1167,1692.9 1172.9,1690.5 1175.7,1690.9 C1178.4,1691.2 1178.2,1693 1178.9,1695.2 C1179.6,1697.4 1180.5,1701.6 1180,1703.9 C1179.5,1706.3 1177.8,1707.9 1175.7,1709.3 C1173.5,1710.8 1169.9,1711.3 1167,1712.6 C1164.1,1713.9 1161.5,1716.1 1158.3,1717 C1155,1717.9 1150.7,1718.2 1147.4,1718 C1144.1,1717.9 1141.4,1717.1 1138.7,1715.9 C1136,1714.6 1133.1,1712.4 1131.1,1710.4 C1129.1,1708.4 1127.5,1705.9 1126.7,1703.9 C1126,1701.9 1126.7,1699.4 1126.7,1698.5Z M1084.3,1775.7 C1085.4,1774.6 1088,1771.5 1090.9,1769.1 C1093.8,1766.8 1098.1,1763.5 1101.7,1761.5 C1105.4,1759.5 1108.3,1758.4 1112.6,1757.2 C1117,1755.9 1124.9,1754.1 1127.8,1753.9 C1130.7,1753.7 1130.7,1755 1130,1756.1 C1129.3,1757.2 1125.7,1759 1123.5,1760.4 C1121.3,1761.9 1118.8,1763.3 1117,1764.8 C1115.1,1766.2 1114.8,1768 1112.6,1769.1 C1110.4,1770.2 1106.8,1770.4 1103.9,1771.3 C1101,1772.2 1097.9,1773.3 1095.2,1774.6 C1092.5,1775.8 1089.4,1778.7 1087.6,1778.9 C1085.8,1779.1 1084.9,1776.2 1084.3,1775.7Z M1144.1,1757.2 C1144.9,1756.9 1147.1,1755.5 1148.5,1755.7 C1149.8,1755.8 1152.3,1757.2 1152.2,1757.8 C1152.1,1758.4 1149.2,1759.5 1147.8,1759.3 C1146.5,1759.2 1144.7,1757.5 1144.1,1757.2Z M1195.2,1731.1 C1195.9,1730.7 1198.1,1728.9 1199.6,1728.9 C1201,1728.9 1203.9,1730.2 1203.9,1731.1 C1203.9,1732 1201,1733.8 1199.6,1734.3 C1198.1,1734.9 1195.9,1734.9 1195.2,1734.3 C1194.5,1733.8 1195.2,1731.6 1195.2,1731.1Z M1060.4,1789.8 C1061.2,1789.1 1063,1786.2 1064.8,1785.4 C1066.6,1784.7 1069.7,1785.1 1071.3,1785.4 C1072.9,1785.8 1074.6,1786.5 1074.6,1787.6 C1074.6,1788.7 1072.9,1791.1 1071.3,1792 C1069.7,1792.9 1066.6,1793.4 1064.8,1793 C1063,1792.7 1061.2,1790.3 1060.4,1789.8Z M1078.9,1806.1 C1079.5,1805 1080.9,1800.5 1082.2,1799.6 C1083.4,1798.7 1085.6,1799.6 1086.5,1800.7 C1087.4,1801.7 1088.2,1804.5 1087.6,1806.1 C1087.1,1807.7 1084.7,1809.9 1083.3,1810.4 C1081.8,1811 1079.6,1810.1 1078.9,1809.3 C1078.2,1808.6 1078.9,1806.6 1078.9,1806.1Z M1071.3,1830 C1072,1829.8 1073.8,1827.8 1075.7,1828.9 C1077.5,1830 1080.4,1834.2 1082.2,1836.5 C1084,1838.9 1086.2,1841.2 1086.5,1843 C1086.9,1844.9 1085.8,1846.7 1084.3,1847.4 C1082.9,1848.1 1080,1848.1 1077.8,1847.4 C1075.7,1846.7 1072.4,1845.9 1071.3,1843 C1070.2,1840.1 1071.3,1832.2 1071.3,1830Z M1177.8,1787.6 C1178.2,1786 1179.1,1779.8 1180,1777.8 C1180.9,1775.8 1182.5,1774.9 1183.3,1775.7 C1184,1776.4 1184.7,1780.2 1184.3,1782.2 C1184,1784.2 1182.2,1786.7 1181.1,1787.6 C1180,1788.5 1178.4,1787.6 1177.8,1787.6Z M1212.6,1761.5 C1215.1,1761.3 1223.5,1759.9 1227.8,1760.4 C1232.2,1761 1235.4,1764.4 1238.7,1764.8 C1242,1765.1 1244.5,1763.3 1247.4,1762.6 C1250.3,1762 1253.4,1760.9 1256.1,1760.9 C1258.8,1760.9 1262.6,1761.8 1263.7,1762.6 C1264.8,1763.4 1263.9,1765.6 1262.6,1765.9 C1261.3,1766.2 1259.3,1763.8 1256.1,1764.3 C1252.8,1764.9 1247,1767.4 1243,1769.1 C1239.1,1770.8 1235.4,1773.1 1232.2,1774.6 C1228.9,1776 1226,1777.8 1223.5,1777.8 C1220.9,1777.8 1218.9,1776 1217,1774.6 C1215,1773.1 1212.2,1771.3 1211.5,1769.1 C1210.8,1767 1212.4,1762.8 1212.6,1761.5Z M1045.2,1927.8 C1046.7,1926.4 1051.7,1921.7 1053.9,1919.1 C1056.1,1916.6 1056.6,1914.4 1058.3,1912.6 C1059.9,1910.8 1062.2,1907.9 1063.7,1908.3 C1065.1,1908.6 1066.6,1911.9 1067,1914.8 C1067.3,1917.7 1066.6,1922.8 1065.9,1925.7 C1065.1,1928.6 1064.2,1930.5 1062.6,1932.2 C1061,1933.8 1058.8,1935.3 1056.1,1935.4 C1053.4,1935.6 1048.1,1934.5 1046.3,1933.3 C1044.5,1932 1045.4,1928.7 1045.2,1927.8Z M1330.2,1614.8 C1330.4,1614.1 1330.4,1611.3 1331.3,1610.4 C1332.2,1609.5 1334.4,1608.8 1335.7,1609.3 C1336.9,1609.9 1338.6,1612.1 1338.9,1613.7 C1339.3,1615.3 1338.7,1617.5 1337.8,1619.1 C1336.9,1620.8 1334.9,1623.1 1333.5,1623.5 C1332,1623.8 1330.2,1622.6 1329.1,1621.3 C1328,1620 1326.8,1617 1327,1615.9 C1327.1,1614.8 1329.7,1615 1330.2,1614.8Z M1263.9,1782.2 C1264.6,1780.7 1266.8,1777.1 1268.3,1773.5 C1269.7,1769.9 1271.3,1763.2 1272.6,1760.4 C1273.9,1757.7 1274.8,1756.8 1275.9,1757.2 C1277,1757.5 1278,1760.3 1279.1,1762.6 C1280.2,1765 1281.5,1769.1 1282.4,1771.3 C1283.3,1773.5 1285.8,1774.6 1284.6,1775.7 C1283.3,1776.7 1278.2,1776.7 1274.8,1777.8 C1271.3,1778.9 1265.7,1781.4 1263.9,1782.2Z M1291.1,1774.6 C1293.4,1774.4 1301.1,1773.8 1305.2,1773.5 C1309.4,1773.1 1312.5,1772.6 1316.1,1772.4 C1319.7,1772.2 1323.7,1772.9 1327,1772.4 C1330.2,1771.8 1334.9,1769.3 1335.7,1769.1 C1336.4,1768.9 1333.5,1770.6 1331.3,1771.3 C1329.1,1772 1327,1772.9 1322.6,1773.5 C1318.3,1774 1309.9,1774.2 1305.2,1774.6 C1300.5,1774.9 1296.7,1775.7 1294.3,1775.7 C1292,1775.7 1291.6,1774.7 1291.1,1774.6Z M1323.7,1787.6 C1325,1787.2 1328.8,1785.8 1331.3,1785.4 C1333.8,1785.1 1337.6,1785.1 1338.9,1785.4 C1340.2,1785.8 1340.2,1787.1 1338.9,1787.6 C1337.6,1788.2 1333.8,1788.5 1331.3,1788.7 C1328.8,1788.9 1325,1788.9 1323.7,1788.7 C1322.4,1788.5 1323.7,1787.8 1323.7,1787.6Z M1434.6,1774.6 C1435.1,1773.1 1436.2,1768.2 1437.8,1765.9 C1439.5,1763.5 1442.2,1761.7 1444.3,1760.4 C1446.5,1759.2 1448.7,1757.9 1450.9,1758.3 C1453,1758.6 1455.9,1760.4 1457.4,1762.6 C1458.8,1764.8 1459.9,1768.9 1459.6,1771.3 C1459.2,1773.7 1457.4,1775.5 1455.2,1776.7 C1453,1778 1449.4,1778.4 1446.5,1778.9 C1443.6,1779.5 1439.8,1780.7 1437.8,1780 C1435.8,1779.3 1435.1,1775.5 1434.6,1774.6Z M1620.4,1811.5 C1621.5,1811.7 1624.4,1811.3 1627,1812.6 C1629.5,1813.9 1633.1,1816.6 1635.7,1819.1 C1638.2,1821.7 1640.7,1825.3 1642.2,1827.8 C1643.6,1830.4 1644.7,1832 1644.3,1834.3 C1644,1836.7 1642.2,1840.5 1640,1842 C1637.8,1843.4 1633.8,1844.3 1631.3,1843 C1628.8,1841.8 1626.6,1837.6 1624.8,1834.3 C1623,1831.1 1621.3,1826.7 1620.4,1823.5 C1619.5,1820.2 1619.3,1816.8 1619.3,1814.8 C1619.3,1812.8 1620.3,1812.1 1620.4,1811.5Z M1403,1868 C1403.4,1867.3 1403.8,1864.6 1405.2,1863.7 C1406.7,1862.8 1409.7,1862.2 1411.7,1862.6 C1413.7,1863 1416.3,1864.6 1417.2,1865.9 C1418.1,1867.1 1418.1,1868.9 1417.2,1870.2 C1416.3,1871.5 1413.7,1873.1 1411.7,1873.5 C1409.7,1873.8 1406.7,1873.3 1405.2,1872.4 C1403.8,1871.5 1403.4,1868.8 1403,1868Z M1725,1617 C1725.5,1616.2 1726.4,1613.5 1728.3,1612.6 C1730.1,1611.7 1734.2,1611.2 1735.9,1611.5 C1737.5,1611.9 1738.2,1613.5 1738,1614.8 C1737.9,1616.1 1736.4,1618 1734.8,1619.1 C1733.2,1620.2 1729.9,1621.3 1728.3,1621.3 C1726.6,1621.3 1725.5,1619.9 1725,1619.1 C1724.5,1618.4 1725,1617.3 1725,1617Z M1745.7,1609.3 C1746.4,1608.8 1748.9,1606.3 1750,1606.1 C1751.1,1605.9 1752.2,1607.4 1752.2,1608.3 C1752.2,1609.2 1751.1,1611 1750,1611.5 C1748.9,1612.1 1746.4,1611.9 1745.7,1611.5 C1744.9,1611.2 1745.7,1609.7 1745.7,1609.3Z M1702.2,1638.7 C1703.3,1637.6 1705.8,1634 1708.7,1632.2 C1711.6,1630.4 1717.6,1627.8 1719.6,1627.8 C1721.6,1627.8 1721,1630.4 1720.7,1632.2 C1720.3,1634 1719.4,1636.9 1717.4,1638.7 C1715.4,1640.5 1711.1,1642.5 1708.7,1643 C1706.3,1643.6 1704.3,1642.7 1703.3,1642 C1702.2,1641.2 1702.4,1639.2 1702.2,1638.7Z M1735.9,1651.7 C1736.4,1650.3 1737.5,1645.2 1739.1,1643 C1740.8,1640.9 1743.8,1640.5 1745.7,1638.7 C1747.5,1636.9 1748.6,1634.3 1750,1632.2 C1751.4,1630 1752.9,1624.9 1754.3,1625.7 C1755.8,1626.4 1757.2,1632.9 1758.7,1636.5 C1760.1,1640.1 1762,1642.7 1763,1647.4 C1764.1,1652.1 1764.9,1659 1765.2,1664.8 C1765.6,1670.6 1765.6,1677.8 1765.2,1682.2 C1764.9,1686.5 1764.5,1688.9 1763,1690.9 C1761.6,1692.9 1758.3,1694.1 1756.5,1694.1 C1754.7,1694.1 1753.3,1692.9 1752.2,1690.9 C1751.1,1688.9 1750.4,1685.4 1750,1682.2 C1749.6,1678.9 1750.7,1674.2 1750,1671.3 C1749.3,1668.4 1747.5,1666.6 1745.7,1664.8 C1743.8,1663 1740.8,1661.9 1739.1,1660.4 C1737.5,1659 1736.4,1657.5 1735.9,1656.1 C1735.3,1654.6 1735.9,1652.5 1735.9,1651.7Z M1813,1802.8 C1813.8,1802.3 1814.5,1800.3 1817.4,1799.6 C1820.3,1798.8 1827.4,1798.3 1830.4,1798.5 C1833.5,1798.7 1835.5,1799.6 1835.9,1800.7 C1836.2,1801.7 1835,1804.1 1832.6,1805 C1830.3,1805.9 1824.8,1806.1 1821.7,1806.1 C1818.7,1806.1 1815.6,1805.5 1814.1,1805 C1812.7,1804.5 1813.2,1803.2 1813,1802.8Z M1796.1,1820.9 C1797.1,1820.9 1801.5,1821 1802.2,1821.3 C1802.8,1821.6 1801,1822.6 1800,1822.8 C1799,1823 1796.7,1822.7 1796.1,1822.4 C1795.4,1822.1 1796.1,1821.1 1796.1,1820.9Z M1740.2,1819.1 C1740.8,1818.6 1741.8,1816.1 1743.5,1815.9 C1745.1,1815.7 1748.6,1816.8 1750,1818 C1751.4,1819.3 1752.5,1821.7 1752.2,1823.5 C1751.8,1825.3 1749.3,1828.2 1747.8,1828.9 C1746.4,1829.6 1744.7,1828.7 1743.5,1827.8 C1742.2,1826.9 1740.8,1824.9 1740.2,1823.5 C1739.7,1822 1740.2,1819.9 1740.2,1819.1Z M1787,1905 C1787.7,1904.8 1790.2,1903.4 1791.3,1903.9 C1792.4,1904.5 1793.1,1906.8 1793.5,1908.3 C1793.8,1909.7 1794.2,1912.1 1793.5,1912.6 C1792.8,1913.2 1790.2,1912.8 1789.1,1911.5 C1788,1910.3 1787.3,1906.1 1787,1905Z M1920.7,1808.3 C1921.2,1807.2 1922.3,1803.4 1923.9,1801.7 C1925.5,1800.1 1929,1798.5 1930.4,1798.5 C1931.9,1798.5 1933,1800.1 1932.6,1801.7 C1932.2,1803.4 1929.7,1806.4 1928.3,1808.3 C1926.8,1810.1 1925.2,1812.6 1923.9,1812.6 C1922.6,1812.6 1921.2,1809 1920.7,1808.3Z M1910.9,1606.1 C1912,1605.4 1915.6,1601.9 1917.4,1601.7 C1919.2,1601.6 1921.7,1602.8 1921.7,1605 C1921.7,1607.2 1917.8,1611.7 1917.4,1614.8 C1917,1617.9 1918.5,1620.2 1919.6,1623.5 C1920.7,1626.7 1923.2,1632.2 1923.9,1634.3 C1924.6,1636.5 1925.4,1635.4 1923.9,1636.5 C1922.5,1637.6 1917.4,1640 1915.2,1640.9 C1913,1641.8 1912,1643.4 1910.9,1642 C1909.8,1640.5 1909.2,1635.6 1908.7,1632.2 C1908.2,1628.7 1907.4,1624.9 1907.6,1621.3 C1907.8,1617.7 1909.2,1613 1909.8,1610.4 C1910.3,1607.9 1910.7,1606.8 1910.9,1606.1Z M432,315.2 C431.8,317.4 431.5,324.5 430.9,328.3 C430.3,332.1 428.7,336.4 428.3,338 M535.2,315.2 C533.8,318.1 529.2,326.8 526.5,332.6 C523.8,338.4 520.7,345.3 518.9,350 C517.1,354.7 517.5,356.9 515.7,360.9 C513.8,364.9 510.4,370.3 508,373.9 C505.7,377.5 503,380.4 501.5,382.6 C500.1,384.8 501,385.7 499.3,387 C497.7,388.2 493.7,388.9 491.7,390.2 C489.7,391.5 487.9,392.9 487.4,394.6 C486.8,396.2 487.4,397.8 488.5,400 C489.6,402.2 492.8,405.4 493.9,407.6 C495,409.8 495.7,411.6 495,413 C494.3,414.5 491.4,414.9 489.6,416.3 C487.8,417.8 485.6,420.1 484.1,421.7 C482.7,423.4 482.5,425 480.9,426.1 C479.2,427.2 476.9,427.7 474.3,428.3 C471.8,428.8 469.3,428.8 465.7,429.3 C462,429.9 456.6,430.3 452.6,431.5 C448.6,432.8 445,434.6 441.7,437 C438.5,439.3 435.3,442.8 433,445.7 C430.8,448.6 429.1,452.9 428.3,454.3 M622.2,315.2 C620,319.6 613.8,332.2 609.1,341.3 C604.4,350.4 600.1,358.3 593.9,369.6 C587.8,380.8 577.2,400 572.2,408.7 C567.1,417.4 568.2,415.6 563.5,421.7 C558.8,427.9 550.4,437.3 543.9,445.7 C537.4,454 529.4,464.5 524.3,471.7 C519.3,479 516.4,484.8 513.5,489.1 C510.6,493.5 509.3,495.5 507,497.8 C504.6,500.2 501.2,501.3 499.3,503.3 C497.5,505.3 496.8,506.3 496.1,509.8 C495.4,513.2 495.2,520.1 495,523.9 C494.8,527.7 494.5,529.7 495,532.6 C495.5,535.5 498.4,538 498.3,541.3 C498.1,544.6 496.1,548.9 493.9,552.2 C491.7,555.4 488.8,558 485.2,560.9 C481.6,563.8 475.8,567 472.2,569.6 C468.6,572.1 466.4,573.2 463.5,576.1 C460.6,579 457.7,584.1 454.8,587 C451.9,589.9 450.5,590.8 446.1,593.5 C441.7,596.2 431.2,601.6 428.3,603.3 M722.2,315.2 C721.3,317 720,320.3 716.7,326.1 C713.5,331.9 707.5,341.3 702.6,350 C697.7,358.7 692.1,369.2 687.4,378.3 C682.7,387.3 679.1,395.3 674.3,404.3 C669.6,413.4 664.2,423.6 659.1,432.6 C654.1,441.7 648.6,450.4 643.9,458.7 C639.2,467 634.1,477.2 630.9,482.6 C627.6,488 626.9,488.4 624.3,491.3 C621.8,494.2 619.3,496 615.7,500 C612,504 607.7,509.4 602.6,515.2 C597.5,521 589.9,529 585.2,534.8 C580.5,540.6 578,544.6 574.3,550 C570.7,555.4 567.5,559.4 563.5,567.4 C559.5,575.4 553.7,591.3 550.4,597.8 C547.2,604.3 546.1,604 543.9,606.5 C541.7,609.1 539.9,609.8 537.4,613 C534.9,616.3 531.2,622.5 528.7,626.1 C526.2,629.7 524.7,631.2 522.2,634.8 C519.6,638.4 516.4,643.8 513.5,647.8 C510.6,651.8 506.4,655.1 504.8,658.7 C503.2,662.3 504.2,666.3 503.7,669.6 C503.2,672.8 503,675 501.5,678.3 C500.1,681.5 497.4,686.2 495,689.1 C492.6,692 489.9,693.5 487.4,695.7 C484.9,697.8 482,701.1 479.8,702.2 C477.6,703.3 477.4,703.3 474.3,702.2 C471.3,701.1 464.2,696.4 461.3,695.7 C458.4,694.9 459.1,695.7 457,697.8 C454.8,700 453,705.8 448.3,708.7 C443.5,711.6 431.6,714.1 428.3,715.2 M813.5,315.2 C812.4,319.2 812,327.2 807,339.1 C801.9,351.1 790.7,372.5 783,387 C775.4,401.4 766.7,415.6 761.3,426.1 C755.9,436.6 754.1,442 750.4,450 C746.8,458 742.8,466.3 739.6,473.9 C736.3,481.5 733.8,489.1 730.9,495.7 C728,502.2 727.2,504.7 722.2,513 C717.1,521.4 706.2,537 700.4,545.7 C694.6,554.3 691.4,558.7 687.4,565.2 C683.4,571.7 680.1,579 676.5,584.8 C672.9,590.6 670.4,593.8 665.7,600 C660.9,606.2 654.4,614.5 648.3,621.7 C642.1,629 634.5,637.3 628.7,643.5 C622.9,649.6 618.9,653.3 613.5,658.7 C608,664.1 600.4,672.5 596.1,676.1 C591.7,679.7 591.7,679 587.4,680.4 C583,681.9 574.3,683.3 570,684.8 C565.7,686.2 563.8,687 561.3,689.1 C558.8,691.3 555.7,694.6 554.8,697.8 C553.9,701.1 553.7,705.4 555.9,708.7 C558,712 564.4,714.9 567.8,717.4 C571.3,719.9 575.3,722.2 576.5,723.9 C577.8,725.6 576.2,725.7 575.4,727.4 C574.7,729.1 573.8,731.9 572.2,733.9 C570.5,735.9 569.6,737 565.7,739.3 C561.7,741.7 552.2,746.4 548.3,748 C544.3,749.7 545,749.9 541.7,749.1 C538.5,748.4 532,744.1 528.7,743.7 C525.4,743.3 524.3,744.1 522.2,747 C520,749.9 518.2,757.1 515.7,761.1 C513.1,765.1 509.5,768.5 507,770.9 C504.4,773.2 503.3,773.9 500.4,775.2 C497.5,776.5 492.3,777 489.6,778.5 C486.8,779.9 485.2,781.6 484.1,783.9 C483,786.3 483.9,790.4 483,792.6 C482.1,794.8 481.2,795.1 478.7,797 C476.2,798.8 472.2,801.3 467.8,803.5 C463.5,805.7 456.6,807.8 452.6,810 C448.6,812.2 446.8,813.6 443.9,816.5 C441,819.4 437.8,823.4 435.2,827.4 C432.6,831.4 429.4,838.3 428.3,840.4 M783,602.2 C780.1,606.2 772.5,616.7 765.7,626.1 C758.8,635.5 749.3,647.8 741.7,658.7 C734.1,669.6 725.1,682.8 720,691.3 C714.9,699.9 716,704 711.3,710 C706.6,716 698.6,721.6 691.7,727.4 C684.9,733.2 676.9,739 670,744.8 C663.1,750.6 656.6,756.7 650.4,762.2 C644.3,767.6 638.1,772.7 633,777.4 C628,782.1 624,786.1 620,790.4 C616,794.8 612.4,800.2 609.1,803.5 C605.9,806.7 603,807.8 600.4,810 C597.9,812.2 596.1,814 593.9,816.5 C591.7,819.1 591,821.2 587.4,825.2 C583.8,829.2 577.6,835 572.2,840.4 C566.7,845.9 559.5,852.8 554.8,857.8 C550.1,862.9 548.3,866.2 543.9,870.9 C539.6,875.6 533.8,882.5 528.7,886.1 C523.6,889.7 518.2,890.8 513.5,892.6 C508.8,894.4 504.8,895.1 500.4,897 C496.1,898.8 491.7,900.2 487.4,903.5 C483,906.7 477.6,913.3 474.3,916.5 C471.1,919.8 470.4,919.8 467.8,923 C465.3,926.3 462.4,932.1 459.1,936.1 C455.9,940.1 453.4,942.6 448.3,947 C443.1,951.3 431.6,959.6 428.3,962.2 M908.3,315.2 C907.9,319.2 907.5,332.2 906.1,339.1 C904.6,346 903.2,347.8 899.6,356.5 C895.9,365.2 889.1,380.4 884.3,391.3 C879.6,402.2 874.9,412.3 871.3,421.7 C867.7,431.2 865.9,439.1 862.6,447.8 C859.3,456.5 855.4,464.5 851.7,473.9 C848.1,483.3 842.7,499.3 840.9,504.3 M1031.1,315.2 C1030.4,319.2 1028.4,331.9 1026.7,339.1 C1025.1,346.4 1023.7,351.4 1021.3,358.7 C1018.9,365.9 1015.5,375 1012.6,382.6 C1009.7,390.2 1008.3,394.9 1003.9,404.3 C999.6,413.8 992.7,427.5 986.5,439.1 C980.4,450.7 973.5,460.1 967,473.9 C960.4,487.7 952.8,510.1 947.4,521.7 C942,533.3 939.4,534.4 934.3,543.5 C929.3,552.5 922,565.9 917,576.1 C911.9,586.2 908.6,594.2 903.9,604.3 C899.2,614.5 893.8,627.9 888.7,637 C883.6,646 879.3,651.1 873.5,658.7 C867.7,666.3 859.7,675.4 853.9,682.6 C848.1,689.9 842.7,696.4 838.7,702.2 C834.7,708 831.7,713.2 830,717.4 C828.3,721.6 831.8,721.4 828.7,727.4 C825.6,733.4 817.8,745.1 811.3,753.5 C804.8,761.8 796.8,769.4 789.6,777.4 C782.3,785.4 775.1,792.6 767.8,801.3 C760.6,810 753.3,820.1 746.1,829.6 C738.8,839 731.6,849.5 724.3,857.8 C717.1,866.2 709.9,872.7 702.6,879.6 C695.4,886.4 688.1,893 680.9,899.1 C673.6,905.3 664.2,912.2 659.1,916.5 C654.1,920.9 653,923.4 650.4,925.2 C647.9,927 647.9,925.6 643.9,927.4 C639.9,929.2 633.4,932.8 626.5,936.1 C619.6,939.3 609.5,943.7 602.6,947 C595.7,950.2 591,952.4 585.2,955.7 C579.4,958.9 575.1,961.8 567.8,966.5 C560.6,971.2 548.3,979.6 541.7,983.9 C535.2,988.3 533,989.3 528.7,992.6 C524.3,995.9 519.6,1000.6 515.7,1003.5 C511.7,1006.4 508.4,1007.8 504.8,1010 C501.2,1012.2 497.5,1014 493.9,1016.5 C490.3,1019.1 486.7,1022.7 483,1025.2 C479.4,1027.8 475.4,1029.6 472.2,1031.7 C468.9,1033.9 466.7,1035.4 463.5,1038.3 C460.2,1041.2 456.2,1045.9 452.6,1049.1 C449,1052.4 445.8,1054.9 441.7,1057.8 C437.7,1060.7 430.5,1065.1 428.3,1066.5 M1206.1,315.2 C1202.8,316.3 1192.3,319.6 1186.5,321.7 C1180.7,323.9 1174.9,326.1 1171.3,328.3 C1167.7,330.4 1166.6,332.4 1164.8,334.8 C1163,337.1 1162.2,340.6 1160.4,342.4 C1158.6,344.2 1156.4,344.6 1153.9,345.7 C1151.4,346.7 1147.4,347.5 1145.2,348.9 C1143,350.4 1142,351.6 1140.9,354.3 C1139.8,357.1 1138.7,361.2 1138.7,365.2 C1138.7,369.2 1140.5,372.8 1140.9,378.3 C1141.2,383.7 1141.2,391.7 1140.9,397.8 C1140.5,404 1139.8,410.9 1138.7,415.2 C1137.6,419.6 1137.6,417 1134.3,423.9 C1131.1,430.8 1124.2,446 1119.1,456.5 C1114.1,467 1108.6,477.5 1103.9,487 C1099.2,496.4 1094.5,505.4 1090.9,513 C1087.2,520.7 1085.8,526.1 1082.2,532.6 C1078.6,539.1 1074.9,543.5 1069.1,552.2 C1063.3,560.9 1054.6,573.9 1047.4,584.8 C1040.1,595.7 1032.2,607.2 1025.7,617.4 C1019.1,627.5 1013.3,637 1008.3,645.7 C1003.2,654.3 999.6,662 995.2,669.6 C990.9,677.2 987.2,682.9 982.2,691.3 C977.1,699.7 968.4,714.3 964.8,720 C961.2,725.7 963.3,721.4 960.4,725.2 C957.5,729 951.7,736.4 947.4,742.6 C943,748.8 938.7,755.7 934.3,762.2 C930,768.7 925.7,774.9 921.3,781.7 C917,788.6 911.9,797 908.3,803.5 C904.6,810 903.2,815.4 899.6,820.9 C895.9,826.3 891.2,830.7 886.5,836.1 C881.8,841.5 876.4,847.3 871.3,853.5 C866.2,859.6 860.8,867.2 856.1,873 C851.4,878.8 847.4,883.6 843,888.3 C838.7,893 835.3,897 830,901.3 C824.7,905.7 818.8,908.9 811.3,914.3 C803.8,919.8 793.2,927.4 785.2,933.9 C777.2,940.4 770,947.7 763.5,953.5 C757,959.3 752.6,963.6 746.1,968.7 C739.6,973.8 731.6,978.8 724.3,983.9 C717.1,989 709.9,994.4 702.6,999.1 C695.4,1003.8 688.1,1007.8 680.9,1012.2 C673.6,1016.5 664.6,1022.3 659.1,1025.2 C653.7,1028.1 653.7,1026.7 648.3,1029.6 C642.8,1032.5 633.8,1038.3 626.5,1042.6 C619.3,1047 610.9,1052 604.8,1055.7 C598.6,1059.3 593.2,1062.5 589.6,1064.3 C585.9,1066.2 585.9,1065.1 583,1066.5 C580.1,1068 577.6,1070.5 572.2,1073 C566.7,1075.6 555.5,1079.2 550.4,1081.7 C545.4,1084.3 546.1,1084.6 541.7,1088.3 C537.4,1091.9 529.4,1098.8 524.3,1103.5 C519.3,1108.2 515.7,1112.1 511.3,1116.5 C507,1120.9 501.9,1127.2 498.3,1130 C494.6,1132.8 492.8,1132.2 489.6,1133 C486.3,1133.9 481.6,1134.3 478.7,1135.2 C475.8,1136.1 474.7,1136.3 472.2,1138.5 C469.6,1140.7 466.7,1144.5 463.5,1148.3 C460.2,1152.1 456.2,1157 452.6,1161.3 C449,1165.7 445.8,1169.3 441.7,1174.3 C437.7,1179.4 430.5,1188.8 428.3,1191.7 M2076.1,441.3 C2070.3,440.8 2052.5,437.7 2041.3,438 C2030.1,438.4 2019.6,441.5 2008.7,443.5 C1997.8,445.5 1987,448.3 1976.1,450 C1965.2,451.7 1952.5,453.2 1943.5,453.7 C1934.4,454.2 1930.8,453.7 1921.7,453.3 C1912.7,452.8 1900,452 1889.1,451.1 C1878.3,450.2 1871,448.9 1856.5,447.8 C1842,446.7 1815.9,445.5 1802.2,444.6 C1788.4,443.7 1782.6,443.5 1773.9,442.4 C1765.2,441.3 1755.4,438.8 1750,438 C1744.6,437.3 1746,437.3 1741.3,438 C1736.6,438.8 1727.5,441.5 1721.7,442.4 C1715.9,443.3 1712.3,442.4 1706.5,443.5 C1700.7,444.6 1692.9,447.5 1687,448.9 C1681,450.4 1675.1,452.4 1670.7,452.2 C1666.2,452 1662.9,449.3 1660,447.8 C1657.1,446.4 1657.8,445.7 1653,443.5 C1648.3,441.3 1638.6,437.7 1631.3,434.8 C1624.1,431.9 1616.1,428.1 1609.6,426.1 C1603,424.1 1597.2,423.2 1592.2,422.8 C1587.1,422.5 1582.8,423.6 1579.1,423.9 C1575.5,424.3 1574.1,425.5 1570.4,425 C1566.8,424.5 1561,420.8 1557.4,420.7 C1553.8,420.5 1552.3,424.6 1548.7,423.9 C1545.1,423.2 1539.3,418.1 1535.7,416.3 C1532,414.5 1530.6,413.6 1527,413 C1523.3,412.5 1516.4,413.8 1513.9,413 C1511.4,412.3 1513.2,410 1511.7,408.7 C1510.3,407.4 1510.3,405.8 1505.2,405.4 C1500.1,405.1 1487.1,406 1481.3,406.5 C1475.5,407.1 1474.1,408.9 1470.4,408.7 C1466.8,408.5 1463.2,407.1 1459.6,405.4 C1455.9,403.8 1452,400.4 1448.7,398.9 C1445.4,397.5 1443.6,396.6 1440,396.7 C1436.4,396.9 1431.3,398.7 1427,400 C1422.6,401.3 1420.4,402.7 1413.9,404.3 C1407.4,406 1396.5,408 1387.8,409.8 C1379.1,411.6 1367.2,413.8 1361.7,415.2 C1356.3,416.7 1356.7,416.3 1355.2,418.5 C1353.8,420.7 1354.5,425.5 1353,428.3 C1351.6,431 1349.8,432.4 1346.5,434.8 C1343.3,437.1 1337.5,441.5 1333.5,442.4 C1329.5,443.3 1326.2,439.7 1322.6,440.2 C1319,440.8 1315.4,442.9 1311.7,445.7 C1308.1,448.4 1304.9,452.2 1300.9,456.5 C1296.9,460.9 1292.5,467 1287.8,471.7 C1283.1,476.4 1276.6,480.8 1272.6,484.8 C1268.6,488.8 1266.4,491.7 1263.9,495.7 C1261.4,499.6 1259.9,504.3 1257.4,508.7 C1254.9,513 1249.9,519.2 1248.7,521.7 C1247.5,524.3 1252,521.7 1250,523.9 C1248,526.1 1239.1,531.5 1236.5,534.8 C1233.9,538 1235.8,540.6 1234.3,543.5 C1232.9,546.4 1230,549.3 1227.8,552.2 C1225.7,555.1 1224.6,557.6 1221.3,560.9 C1218,564.1 1211.9,568.1 1208.3,571.7 C1204.6,575.4 1202.1,578.3 1199.6,582.6 C1197,587 1196.7,590.6 1193,597.8 C1189.4,605.1 1182.9,617 1177.8,626.1 C1172.8,635.1 1168,642.8 1162.6,652.2 C1157.2,661.6 1151.7,671.3 1145.2,682.6 C1138.7,693.9 1127.8,712.2 1123.5,720 C1119.1,727.8 1122.4,724.7 1119.1,729.6 C1115.9,734.4 1109.7,742.2 1103.9,749.1 C1098.1,756 1090.9,764 1084.3,770.9 C1077.8,777.8 1071.3,784.3 1064.8,790.4 C1058.3,796.6 1050.3,802.8 1045.2,807.8 C1040.1,812.9 1037.2,817.2 1034.3,820.9 C1031.4,824.5 1030,826.3 1027.8,829.6 C1025.7,832.8 1023.8,836.4 1021.3,840.4 C1018.8,844.4 1017,848 1012.6,853.5 C1008.3,858.9 1000.7,866.9 995.2,873 C989.8,879.2 984.3,885.4 980,890.4 C975.7,895.5 973.1,898.4 969.1,903.5 C965.1,908.6 960.4,915.1 956.1,920.9 C951.7,926.7 947.8,932.8 943,938.3 C938.3,943.7 932.9,948.4 927.8,953.5 C922.8,958.6 918,964 912.6,968.7 C907.2,973.4 901.7,977 895.2,981.7 C888.7,986.4 880.7,991.9 873.5,997 C866.2,1002 859,1007.5 851.7,1012.2 C844.5,1016.9 836.7,1020.9 830,1025.2 C823.3,1029.6 818,1033.9 811.3,1038.3 C804.6,1042.6 796.8,1047 789.6,1051.3 C782.3,1055.7 775.1,1059.3 767.8,1064.3 C760.6,1069.4 753.3,1076.7 746.1,1081.7 C738.8,1086.8 729.8,1091.5 724.3,1094.8 C718.9,1098 717.8,1098 713.5,1101.3 C709.1,1104.6 703.7,1109.6 698.3,1114.3 C692.8,1119.1 683.8,1127.2 680.9,1130 C678,1132.8 682,1128.9 680.9,1130.9 C679.8,1132.8 678,1138.8 674.3,1141.7 C670.7,1144.6 663.5,1146.4 659.1,1148.3 C654.8,1150.1 651.9,1150.8 648.3,1152.6 C644.6,1154.4 640.7,1157 637.4,1159.1 C634.1,1161.3 632.3,1162.8 628.7,1165.7 C625.1,1168.6 619.3,1173.6 615.7,1176.5 C612,1179.4 610.6,1180.1 607,1183 C603.3,1185.9 598.3,1189.9 593.9,1193.9 C589.6,1197.9 585.6,1201.9 580.9,1207 C576.2,1212 570.7,1218.6 565.7,1224.3 C560.6,1230.1 555.1,1236.3 550.4,1241.7 C545.7,1247.2 542.5,1250.8 537.4,1257 C532.3,1263.1 525.1,1272.9 520,1278.7 C514.9,1284.5 511.3,1287.4 507,1291.7 C502.6,1296.1 498.3,1300.4 493.9,1304.8 C489.6,1309.1 483.8,1314.2 480.9,1317.8 C478,1321.4 479.1,1324 476.5,1326.5 C474,1329.1 468.2,1330.9 465.7,1333 C463.1,1335.2 462.4,1336.7 461.3,1339.6 C460.2,1342.5 460.2,1347.5 459.1,1350.4 C458,1353.3 457,1354.8 454.8,1357 C452.6,1359.1 450.5,1360.8 446.1,1363.5 C441.7,1366.2 431.2,1371.6 428.3,1373.3 M1571.5,580.4 C1571.3,581.2 1572.1,583.5 1570.4,584.8 C1568.8,586.1 1564.6,588 1561.7,588 C1558.8,588 1556.7,586.8 1553,584.8 C1549.4,582.8 1544.3,578.3 1540,576.1 C1535.7,573.9 1531.3,573 1527,571.7 C1522.6,570.5 1516.8,568.8 1513.9,568.5 C1511,568.1 1511.7,568.5 1509.6,569.6 C1507.4,570.7 1504.1,573.7 1500.9,575 C1497.6,576.3 1494.3,575.9 1490,577.2 C1485.7,578.4 1480.9,580.6 1474.8,582.6 C1468.6,584.6 1460.3,587 1453,589.1 C1445.8,591.3 1438.2,593.8 1431.3,595.7 C1424.4,597.5 1417.9,598.2 1411.7,600 C1405.6,601.8 1399.1,604.3 1394.3,606.5 C1389.6,608.7 1387.5,609.8 1383.5,613 C1379.5,616.3 1375.1,621.4 1370.4,626.1 C1365.7,630.8 1358.8,637 1355.2,641.3 C1351.6,645.7 1350.1,649.3 1348.7,652.2 C1347.2,655.1 1347.6,654 1346.5,658.7 C1345.4,663.4 1343.6,674.3 1342.2,680.4 C1340.7,686.6 1339.6,692.4 1337.8,695.7 C1336,698.9 1333.5,698.2 1331.3,700 C1329.1,701.8 1326.2,703.2 1324.8,706.5 C1323.3,709.9 1323,717.6 1322.6,720 C1322.2,722.4 1324.1,719.6 1322.6,720.9 C1321.2,722.1 1316.4,725.6 1313.9,727.4 C1311.4,729.2 1309.2,729.6 1307.4,731.7 C1305.6,733.9 1304.1,737.5 1303,740.4 C1302,743.3 1302.7,746.2 1300.9,749.1 C1299.1,752 1295.4,754.9 1292.2,757.8 C1288.9,760.7 1284.2,764 1281.3,766.5 C1278.4,769.1 1277.7,769.8 1274.8,773 C1271.9,776.3 1267.5,781.7 1263.9,786.1 C1260.3,790.4 1257,793 1253,799.1 C1249.1,805.3 1242.4,818.3 1240,823 C1237.6,827.8 1241.8,823.4 1238.7,827.4 C1235.6,831.4 1226.7,840.4 1221.3,847 C1215.9,853.5 1211.2,860.4 1206.1,866.5 C1201,872.7 1195.6,878.8 1190.9,883.9 C1186.2,889 1181.4,892.6 1177.8,897 C1174.2,901.3 1172.8,904.9 1169.1,910 C1165.5,915.1 1160.4,922 1156.1,927.4 C1151.7,932.8 1148.8,936.4 1143,942.6 C1137.2,948.8 1128.2,957.8 1121.3,964.3 C1114.4,970.9 1108.6,975.9 1101.7,981.7 C1094.9,987.5 1086.5,994.1 1080,999.1 C1073.5,1004.2 1068.4,1008.2 1062.6,1012.2 C1056.8,1016.2 1048.1,1021.2 1045.2,1023 M1644.3,560.9 C1647,560.5 1655.4,558.9 1660,558.7 C1664.6,558.5 1665.8,559.6 1671.7,559.8 C1677.7,560 1689.1,559.4 1695.7,559.8 C1702.2,560.1 1706.2,562.1 1710.9,562 C1715.6,561.8 1720.3,559.6 1723.9,558.7 C1727.5,557.8 1723.2,557 1732.6,556.5 C1742,556.1 1765.2,555.7 1780.4,556.1 C1795.7,556.4 1805.8,557.4 1823.9,558.7 C1842,560 1866.7,562.7 1889.1,564.1 C1911.6,565.6 1940.6,567.2 1958.7,567.4 C1976.8,567.6 1985.9,566.5 1997.8,565.2 C2009.8,563.9 2020.3,562 2030.4,559.8 C2040.6,557.6 2051.1,553.5 2058.7,552.2 C2066.3,550.8 2073.2,551.8 2076.1,551.7 M1673.9,315.2 C1679,317 1692.4,323.2 1704.3,326.1 C1716.3,329 1733,331 1745.7,332.6 C1758.3,334.2 1766.3,334.6 1780.4,335.9 C1794.6,337.1 1817.8,338.6 1830.4,340.2 C1843.1,341.8 1849.6,343.8 1856.5,345.7 C1863.4,347.5 1867.8,349.8 1871.7,351.1 C1875.7,352.4 1870.3,352.9 1880.4,353.3 C1890.6,353.6 1916.7,353.8 1932.6,353.3 C1948.6,352.7 1961.6,351.1 1976.1,350 C1990.6,348.9 2002.9,347.2 2019.6,346.7 C2036.2,346.3 2066.7,347.3 2076.1,347.4 M2076.1,683.7 C2070.3,683.7 2048.2,683.2 2041.3,683.7 C2034.4,684.2 2037.7,685.9 2034.8,687 C2031.9,688 2027.9,690 2023.9,690.2 C2019.9,690.4 2013.8,689.3 2010.9,688 C2008,686.8 2008,684.1 2006.5,682.6 C2005.1,681.2 2004.7,680.4 2002.2,679.3 C1999.6,678.3 1999.3,677 1991.3,676.1 C1983.3,675.2 1969.6,674.3 1954.3,673.9 C1939.1,673.6 1918.1,672.8 1900,673.9 C1881.9,675 1862,677.7 1845.7,680.4 C1829.3,683.2 1813,687.7 1802.2,690.2 C1791.3,692.8 1791.3,693.3 1780.4,695.7 C1769.6,698 1747.8,701.4 1737,704.3 C1726.1,707.2 1721.7,710.4 1715.2,713 C1708.7,715.7 1707,716.9 1697.8,720 C1688.6,723.1 1671.1,728 1660,731.7 C1648.9,735.5 1639.7,739.3 1631.3,742.6 C1622.9,745.9 1616.8,748.8 1609.6,751.3 C1602.3,753.8 1592.2,756 1587.8,757.8 C1583.5,759.6 1584.9,760 1583.5,762.2 C1582,764.3 1581.3,769.2 1579.1,770.9 C1577,772.5 1573.3,772.3 1570.4,772 C1567.5,771.6 1563.9,769.2 1561.7,768.7 C1559.6,768.2 1560.3,767.6 1557.4,768.7 C1554.5,769.8 1548.3,773 1544.3,775.2 C1540.4,777.4 1537.1,779.2 1533.5,781.7 C1529.9,784.3 1526.6,787.2 1522.6,790.4 C1518.6,793.7 1513.6,798.4 1509.6,801.3 C1505.6,804.2 1501.6,805.3 1498.7,807.8 C1495.8,810.4 1494,814.5 1492.2,816.5 C1490.4,818.5 1490,819.4 1487.8,819.8 C1485.7,820.1 1482,818.9 1479.1,818.7 C1476.2,818.5 1472.6,817.2 1470.4,818.7 C1468.3,820.1 1467.9,824.5 1466.1,827.4 C1464.3,830.3 1461.7,833.6 1459.6,836.1 C1457.4,838.6 1454.9,840.3 1453,842.6 C1451.2,845 1451.6,848.2 1448.7,850.2 C1445.8,852.2 1438.9,852.9 1435.7,854.6 C1432.4,856.2 1431.7,857.3 1429.1,860 C1426.6,862.7 1423,867.6 1420.4,870.9 C1417.9,874.1 1416.8,876.7 1413.9,879.6 C1411,882.5 1406.7,885.4 1403,888.3 C1399.4,891.2 1395.4,894.1 1392.2,897 C1388.9,899.9 1386.7,903.1 1383.5,905.7 C1380.2,908.2 1375.1,910 1372.6,912.2 C1370.1,914.3 1368.6,916.5 1368.3,918.7 C1367.9,920.9 1369.7,923 1370.4,925.2 C1371.2,927.4 1372.6,929.9 1372.6,931.7 C1372.6,933.6 1371.9,934.3 1370.4,936.1 C1369,937.9 1365.4,940.8 1363.9,942.6 C1362.5,944.4 1363.2,944.8 1361.7,947 C1360.3,949.1 1357,953.1 1355.2,955.7 C1353.4,958.2 1352,958.9 1350.9,962.2 C1349.8,965.4 1349.8,972 1348.7,975.2 C1347.6,978.5 1347.2,979.6 1344.3,981.7 C1341.4,983.9 1334.9,986.1 1331.3,988.3 C1327.7,990.4 1325.1,992.6 1322.6,994.8 C1320.1,997 1318.3,998.4 1316.1,1001.3 C1313.9,1004.2 1311.4,1009.3 1309.6,1012.2 C1307.8,1015.1 1307.8,1015.8 1305.2,1018.7 C1302.7,1021.6 1296.9,1027 1294.3,1029.6 C1291.8,1032.1 1291.1,1032.1 1290,1033.9 C1288.9,1035.7 1288.9,1037.9 1287.8,1040.4 C1286.7,1043 1285.3,1047 1283.5,1049.1 C1281.7,1051.3 1279.9,1052.4 1277,1053.5 C1274.1,1054.6 1268.6,1054.2 1266.1,1055.7 C1263.6,1057.1 1262.8,1060 1261.7,1062.2 C1260.7,1064.3 1261,1066.9 1259.6,1068.7 C1258.1,1070.5 1256.3,1072.1 1253,1073 C1249.8,1073.9 1242.8,1073.8 1240,1074.1 C1237.2,1074.5 1237.5,1074.3 1236.5,1075.2 C1235.6,1076.1 1235.4,1078.1 1234.3,1079.6 C1233.3,1081 1234.3,1083.2 1230,1083.9 C1225.7,1084.6 1213.3,1083.6 1208.3,1083.9 C1203.2,1084.3 1202.1,1084.3 1199.6,1086.1 C1197,1087.9 1194.9,1091.5 1193,1094.8 C1191.2,1098 1191.2,1103.1 1188.7,1105.7 C1186.2,1108.2 1181.8,1108.6 1177.8,1110 C1173.8,1111.4 1168,1112.5 1164.8,1114.3 C1161.5,1116.2 1159,1118.7 1158.3,1120.9 C1157.5,1123 1159.7,1125.6 1160.4,1127.4 C1161.2,1129.2 1161.2,1130.8 1162.6,1131.7 C1164.1,1132.7 1167.1,1131.9 1169.1,1133 C1171.1,1134.2 1174.6,1136.3 1174.6,1138.5 C1174.6,1140.7 1171.1,1143.4 1169.1,1146.1 C1167.1,1148.8 1165.1,1152.4 1162.6,1154.8 C1160.1,1157.1 1156.1,1158.4 1153.9,1160.2 C1151.7,1162 1151.4,1163.7 1149.6,1165.7 C1147.8,1167.6 1145.6,1170.7 1143,1172.2 C1140.5,1173.6 1137.6,1173.8 1134.3,1174.3 C1131.1,1174.9 1127.1,1174.7 1123.5,1175.4 C1119.9,1176.2 1116.2,1177.1 1112.6,1178.7 C1109,1180.3 1105.4,1183.8 1101.7,1185.2 C1098.1,1186.7 1094.5,1185.8 1090.9,1187.4 C1087.2,1189 1084,1193.9 1080,1195 C1076,1196.1 1072.4,1193.2 1067,1193.9 C1061.5,1194.6 1051.7,1197.7 1047.4,1199.3 C1043,1201 1042.7,1202.1 1040.9,1203.7 C1039.1,1205.3 1037.8,1207.5 1036.5,1209.1 C1035.3,1210.8 1033.6,1211.8 1033.3,1213.5 C1032.9,1215.1 1032.7,1217.6 1034.3,1218.9 C1036,1220.2 1040.5,1219.8 1043,1221.1 C1045.6,1222.4 1048.1,1223.8 1049.6,1226.5 C1051,1229.2 1050.7,1234.3 1051.7,1237.4 C1052.8,1240.5 1054.1,1242.1 1056.1,1245 C1058.1,1247.9 1062.6,1252.1 1063.7,1254.8 C1064.8,1257.5 1064.2,1258.4 1062.6,1261.3 C1061,1264.2 1056.4,1270 1053.9,1272.2 C1051.4,1274.3 1050.3,1274.5 1047.4,1274.3 C1044.5,1274.2 1039.8,1271.6 1036.5,1271.1 C1033.3,1270.5 1030.7,1270.2 1027.8,1271.1 C1024.9,1272 1021.7,1275.1 1019.1,1276.5 C1016.6,1278 1015.1,1278.5 1012.6,1279.8 C1010.1,1281.1 1006.8,1283.2 1003.9,1284.1 C1001,1285 997.8,1285.8 995.2,1285.2 C992.7,1284.7 990.3,1282.7 988.7,1280.9 C987.1,1279.1 985.6,1277.2 985.4,1274.3 C985.3,1271.4 987.6,1266 987.6,1263.5 C987.6,1260.9 986.7,1259.7 985.4,1259.1 C984.2,1258.6 982.4,1259.1 980,1260.2 C977.6,1261.3 974.2,1263.1 971.3,1265.7 C968.4,1268.2 965.5,1273.1 962.6,1275.4 C959.7,1277.8 956.8,1278.5 953.9,1279.8 C951,1281.1 947,1281.4 945.2,1283 C943.4,1284.7 942.3,1287.4 943,1289.6 C943.8,1291.7 947,1294.1 949.6,1296.1 C952.1,1298.1 955.7,1301.2 958.3,1301.5 C960.8,1301.9 962.6,1300.6 964.8,1298.3 C967,1295.9 969.5,1289.2 971.3,1287.4 C973.1,1285.6 974.4,1286.7 975.7,1287.4 C976.9,1288.1 978.6,1289.6 978.9,1291.7 C979.3,1293.9 978.7,1297.5 977.8,1300.4 C976.9,1303.3 975.3,1306.8 973.5,1309.1 C971.7,1311.5 969.5,1312.9 967,1314.6 C964.4,1316.2 961.2,1317.8 958.3,1318.9 C955.4,1320 952.5,1319.8 949.6,1321.1 C946.7,1322.4 943.4,1325.3 940.9,1326.5 C938.3,1327.8 936.5,1328.7 934.3,1328.7 C932.2,1328.7 930,1327.2 927.8,1326.5 C925.7,1325.8 923.7,1324.3 921.3,1324.3 C918.9,1324.3 915.3,1325.1 913.7,1326.5 C912.1,1328 911.9,1330.5 911.5,1333 C911.2,1335.6 912.1,1339.6 911.5,1341.7 C911,1343.9 911,1345.4 908.3,1346.1 C905.5,1346.8 898.8,1345.7 895.2,1346.1 C891.6,1346.4 888.2,1346.4 886.5,1348.3 C884.9,1350.1 885.1,1353.7 885.4,1357 C885.8,1360.2 888.5,1364.6 888.7,1367.8 C888.9,1371.1 887.6,1373.3 886.5,1376.5 C885.4,1379.8 884,1384.1 882.2,1387.4 C880.4,1390.7 877.5,1393.2 875.7,1396.1 C873.8,1399 874.2,1402.6 871.3,1404.8 C868.4,1407 861.2,1407.7 858.3,1409.1 C855.4,1410.6 854.3,1410.9 853.9,1413.5 C853.6,1416 855.4,1421.1 856.1,1424.3 C856.8,1427.6 857.2,1430.5 858.3,1433 C859.3,1435.6 862.2,1436.7 862.6,1439.6 C863,1442.5 861.5,1447.7 860.4,1450.4 C859.3,1453.2 857.5,1455 856.1,1455.9 C854.6,1456.8 853.6,1456.6 851.7,1455.9 C849.9,1455.1 847.4,1452.1 845.2,1451.5 C843,1451 840.5,1451.7 838.7,1452.6 C836.9,1453.5 835.8,1455.1 834.3,1457 C832.9,1458.8 831.3,1461.7 830,1463.5 C828.7,1465.3 826.7,1466.4 826.5,1467.8 C826.3,1469.3 826.4,1470.4 828.7,1472.2 C830.9,1474 837.6,1476.5 840,1478.7 C842.4,1480.9 842.4,1481.6 843,1485.2 C843.7,1488.8 843.8,1495.7 844.1,1500.4 C844.5,1505.1 845.4,1510.2 845.2,1513.5 C845,1516.7 844.5,1518.2 843,1520 C841.6,1521.8 838.7,1523.1 836.5,1524.3 C834.3,1525.6 832.4,1526.9 830,1527.6 C827.6,1528.3 826.7,1527.1 822.2,1528.7 C817.6,1530.3 806.6,1535.5 802.6,1537.4 C798.6,1539.3 798.6,1538.7 798.3,1540 C797.9,1541.3 799.2,1542.9 800.4,1545.2 C801.7,1547.5 804.2,1551.6 805.9,1553.9 C807.5,1556.3 808.6,1559.3 810.2,1559.3 C811.8,1559.3 813.8,1555.4 815.7,1553.9 C817.5,1552.5 819.3,1550.5 821.1,1550.7 C822.9,1550.8 825.6,1553 826.5,1555 C827.4,1557 827.2,1560.8 826.5,1562.6 C825.8,1564.4 824.2,1565.5 822.2,1565.9 C820.2,1566.2 816.4,1564.2 814.6,1564.8 C812.8,1565.3 812,1565.9 811.3,1569.1 C810.6,1572.4 809.5,1580.5 810.2,1584.3 C810.9,1588.2 814.7,1589.4 815.7,1592 C816.6,1594.5 816.6,1597.4 815.7,1599.6 C814.7,1601.7 811.7,1602.8 810.2,1605 C808.8,1607.2 807.7,1609.9 807,1612.6 C806.2,1615.3 805.9,1617.7 805.9,1621.3 C805.9,1624.9 807.5,1630.4 807,1634.3 C806.4,1638.3 803.9,1640.9 802.6,1645.2 C801.3,1649.6 799.9,1655.4 799.3,1660.4 C798.8,1665.5 798.4,1670.6 799.3,1675.7 C800.3,1680.7 803,1687.4 804.8,1690.9 C806.6,1694.3 807.5,1695.2 810.2,1696.3 C812.9,1697.4 818.7,1696.1 821.1,1697.4 C823.4,1698.7 824.2,1701.6 824.3,1703.9 C824.5,1706.3 823.1,1709.3 822.2,1711.5 C821.3,1713.7 819.8,1714.2 818.9,1717 C818,1719.7 817.1,1723.1 816.7,1727.8 C816.4,1732.5 816.2,1739.8 816.7,1745.2 C817.3,1750.7 818.9,1755 820,1760.4 C821.1,1765.9 822.9,1773.8 823.3,1777.8 C823.6,1781.8 823.1,1781.8 822.2,1784.3 C821.3,1786.9 818.7,1790.1 817.8,1793 C816.9,1795.9 816.4,1798.1 816.7,1801.7 C817.1,1805.4 819.1,1810.1 820,1814.8 C820.9,1819.5 821.4,1825.7 822.2,1830 C822.9,1834.3 824.2,1838 824.3,1840.9 C824.5,1843.8 825.1,1844.9 823.3,1847.4 C821.4,1849.9 816.9,1852.5 813.5,1856.1 C810,1859.7 805.5,1865.5 802.6,1869.1 C799.7,1872.8 797.5,1875.3 796.1,1877.8 C794.6,1880.4 794.1,1882.2 793.9,1884.3 C793.7,1886.5 795.2,1889.1 795,1890.9 C794.8,1892.7 793.9,1895.2 792.8,1895.2 C791.7,1895.2 789.6,1893.8 788.5,1890.9 C787.4,1888 787.2,1882.5 786.3,1877.8 C785.4,1873.1 784.7,1867.3 783,1862.6 C781.4,1857.9 778.5,1853.6 776.5,1849.6 C774.5,1845.6 772.4,1842.3 771.1,1838.7 C769.8,1835.1 769.3,1831.1 768.9,1827.8 C768.6,1824.6 769.5,1821.7 768.9,1819.1 C768.4,1816.6 766.4,1814.4 765.7,1812.6 C764.9,1810.8 763.8,1809.7 764.6,1808.3 C765.3,1806.8 767.6,1805.4 770,1803.9 C772.4,1802.5 776.7,1801 778.7,1799.6 C780.7,1798.1 782.3,1797 782,1795.2 C781.6,1793.4 778.9,1790.7 776.5,1788.7 C774.2,1786.7 770.7,1784.7 767.8,1783.3 C764.9,1781.8 761.7,1780.2 759.1,1780 C756.6,1779.8 754.2,1780.7 752.6,1782.2 C751,1783.6 750.1,1785.4 749.3,1788.7 C748.6,1792 748.8,1797.8 748.3,1801.7 C747.7,1805.7 746.6,1809.7 746.1,1812.6 C745.5,1815.5 744.6,1816.6 745,1819.1 C745.4,1821.7 747.7,1824.2 748.3,1827.8 C748.8,1831.4 748.6,1836.9 748.3,1840.9 C747.9,1844.9 746.1,1848.5 746.1,1851.7 C746.1,1855 746.4,1858.6 748.3,1860.4 C750.1,1862.2 754.8,1861.2 757,1862.6 C759.1,1864.1 759.9,1866.2 761.3,1869.1 C762.8,1872 763.8,1876.7 765.7,1880 C767.5,1883.3 769.8,1886.2 772.2,1888.7 C774.5,1891.2 778.3,1892 779.8,1895.2 C781.2,1898.5 780.9,1904.3 780.9,1908.3 C780.9,1912.2 780.9,1916.6 779.8,1919.1 C778.7,1921.7 776.3,1922.9 774.3,1923.5 C772.4,1924 770.4,1923.5 767.8,1922.4 C765.3,1921.3 761.7,1917.1 759.1,1917 C756.6,1916.8 754.8,1919.5 752.6,1921.3 C750.4,1923.1 749,1925.7 746.1,1927.8 C743.2,1930 738.8,1932.9 735.2,1934.3 C731.6,1935.8 727.6,1936.2 724.3,1936.5 C721.1,1936.9 717.6,1935.8 715.7,1936.5 C713.7,1937.2 713.3,1937.6 712.4,1940.9 C711.5,1944.1 710.6,1953.6 710.2,1956.1 M953.9,1097 C950.7,1099.1 941.6,1104.5 934.3,1110 C927.1,1115.5 914.8,1126.5 910.4,1130 C906.1,1133.5 910.8,1129.3 908.3,1130.9 C905.7,1132.5 901,1135.2 895.2,1139.6 C889.4,1143.9 878.9,1152.6 873.5,1157 C868,1161.3 867.3,1161.7 862.6,1165.7 C857.9,1169.6 849.9,1176.5 845.2,1180.9 C840.5,1185.2 836.9,1189.4 834.3,1191.7 C831.8,1194.1 831.3,1193.6 830,1195 C828.7,1196.4 829.6,1197.7 826.5,1200.4 C823.4,1203.2 816.7,1207.3 811.3,1211.3 C805.9,1215.3 799,1221.1 793.9,1224.3 C788.8,1227.6 783.8,1227.6 780.9,1230.9 C778,1234.1 778.7,1240.3 776.5,1243.9 C774.3,1247.5 770.7,1249.3 767.8,1252.6 C764.9,1255.9 762.8,1259.5 759.1,1263.5 C755.5,1267.5 750.1,1272.9 746.1,1276.5 C742.1,1280.1 738.8,1283.4 735.2,1285.2 C731.6,1287 726.9,1286.3 724.3,1287.4 C721.8,1288.5 721.1,1289.6 720,1291.7 C718.9,1293.9 719.3,1297.9 717.8,1300.4 C716.4,1303 713.8,1304.4 711.3,1307 C708.8,1309.5 705.5,1312.8 702.6,1315.7 C699.7,1318.6 696.8,1322.2 693.9,1324.3 C691,1326.5 688.5,1327.4 685.2,1328.7 C682,1330 677.6,1330.5 674.3,1332 C671.1,1333.4 669.3,1334.7 665.7,1337.4 C662,1340.1 655.9,1346.1 652.6,1348.3 C649.3,1350.4 647.9,1350.4 646.1,1350.4 C644.3,1350.4 643.6,1349.5 641.7,1348.3 C639.9,1347 637.8,1343.6 635.2,1342.8 C632.7,1342.1 628.3,1342.6 626.5,1343.9 C624.7,1345.2 624.7,1347.9 624.3,1350.4 C624,1353 623.6,1356.6 624.3,1359.1 C625.1,1361.7 627.8,1363.5 628.7,1365.7 C629.6,1367.8 630.5,1370 629.8,1372.2 C629.1,1374.3 626.7,1376.2 624.3,1378.7 C622,1381.2 617.8,1384.5 615.7,1387.4 C613.5,1390.3 612.8,1393.2 611.3,1396.1 C609.9,1399 609.1,1400.8 607,1404.8 C604.8,1408.8 600.4,1415.3 598.3,1420 C596.1,1424.7 595.7,1429.8 593.9,1433 C592.1,1436.3 590.3,1437.8 587.4,1439.6 C584.5,1441.4 579.4,1443.4 576.5,1443.9 C573.6,1444.5 573.3,1443.4 570,1442.8 C566.7,1442.3 559.1,1441 557,1440.7 M2076.1,1005.7 C2075.1,1004.9 2073.3,1003.8 2070,1001.3 C2066.7,998.8 2060.2,993.3 2056.5,990.4 C2052.8,987.5 2050.4,986.1 2047.8,983.9 C2045.3,981.7 2043.8,979.6 2041.3,977.4 C2038.8,975.2 2036.2,972.3 2032.6,970.9 C2029,969.4 2022.5,968.9 2019.6,968.7 C2016.7,968.5 2017.4,970.5 2015.2,969.8 C2013,969.1 2009.1,966 2006.5,964.3 C2004,962.7 2002.9,961.3 2000,960 C1997.1,958.7 1992.4,957.6 1989.1,956.7 C1985.9,955.8 1983,955.7 1980.4,954.6 C1977.9,953.5 1975.7,951.1 1973.9,950.2 C1972.1,949.3 1971.4,948.4 1969.6,949.1 C1967.8,949.9 1964.9,953.3 1963,954.6 C1961.2,955.8 1960.5,956.6 1958.7,956.7 C1956.9,956.9 1955.1,956.7 1952.2,955.7 C1949.3,954.6 1944.9,951.8 1941.3,950.2 C1937.7,948.6 1935.5,946.8 1930.4,945.9 C1925.4,944.9 1915.9,944.2 1910.9,944.3 C1905.8,944.5 1903.6,946.7 1900,947 C1896.4,947.2 1892.4,946.4 1889.1,945.9 C1885.9,945.3 1883.3,943.9 1880.4,943.7 C1877.5,943.5 1874.3,944.8 1871.7,944.8 C1869.2,944.8 1868.1,944.4 1865.2,943.7 C1862.3,943 1859.8,941.3 1854.3,940.4 C1848.9,939.6 1837,939.2 1832.6,938.7 C1828.3,938.2 1830.1,938 1828.3,937.2 C1826.4,936.4 1822.8,935.5 1821.7,933.9 C1820.7,932.3 1819.9,929.2 1821.7,927.4 C1823.6,925.6 1829.7,923.9 1832.6,923 C1835.5,922.1 1836.6,922.8 1839.1,922 C1841.7,921.2 1844.6,918.8 1847.8,918.3 C1851.1,917.7 1856.5,918.4 1858.7,918.7 C1860.9,918.9 1861.6,918.7 1860.9,919.8 C1860.1,920.9 1857.6,923.6 1854.3,925.2 C1851.1,926.8 1844.6,928.3 1841.3,929.6 C1838,930.8 1837,931.6 1834.8,932.8 C1832.6,934.1 1829.5,935.9 1828.3,937.2 C1827,938.4 1828.6,939.2 1827.2,940.4 C1825.7,941.7 1822.3,943.5 1819.6,944.8 C1816.8,946.1 1813.8,947 1810.9,948 C1808,949.1 1804.3,952.4 1802.2,951.3 C1800,950.2 1799.3,943.3 1797.8,941.5 C1796.4,939.7 1795.7,940.1 1793.5,940.4 C1791.3,940.8 1787.7,942.4 1784.8,943.7 C1781.9,945 1778.6,947.1 1776.1,948 C1773.6,948.9 1772.5,948.9 1769.6,949.1 C1766.7,949.3 1761.2,948.8 1758.7,949.1 C1756.2,949.5 1756.5,949.7 1754.3,951.3 C1752.2,952.9 1750,957.1 1745.7,958.9 C1741.3,960.7 1732.2,960.9 1728.3,962.2 C1724.3,963.4 1724.3,964.3 1721.7,966.5 C1719.2,968.7 1715.6,973 1713,975.2 C1710.5,977.4 1709.1,978.5 1706.5,979.6 C1704,980.7 1700.7,980.5 1697.8,981.7 C1694.9,983 1692,985.4 1689.1,987.2 C1686.2,989 1681.2,991.3 1680.4,992.6 C1679.7,993.9 1682.6,994.6 1684.8,994.8 C1687,995 1690.2,994.2 1693.5,993.7 C1696.7,993.2 1701.1,991.7 1704.3,991.5 C1707.6,991.3 1710.9,991.3 1713,992.6 C1715.2,993.9 1716.3,995.5 1717.4,999.1 C1718.5,1002.8 1719.9,1010.4 1719.6,1014.3 C1719.2,1018.3 1717.4,1020.5 1715.2,1023 C1713,1025.6 1710.1,1027.8 1706.5,1029.6 C1702.9,1031.4 1697.5,1033.2 1693.5,1033.9 C1689.5,1034.6 1686.2,1034.3 1682.6,1033.9 C1679,1033.6 1675,1032.3 1671.7,1031.7 C1668.5,1031.2 1665.6,1030.3 1663,1030.7 C1660.5,1031 1658.7,1032.3 1656.5,1033.9 C1654.3,1035.5 1652.8,1039.3 1650,1040.4 C1647.2,1041.5 1643.1,1039.7 1640,1040.4 C1636.9,1041.2 1634.2,1043.5 1631.3,1044.8 C1628.4,1046.1 1626.2,1047.7 1622.6,1048 C1619,1048.4 1613.9,1046.8 1609.6,1047 C1605.2,1047.1 1600.1,1048 1596.5,1049.1 C1592.9,1050.2 1590.7,1052 1587.8,1053.5 C1584.9,1054.9 1582,1056.7 1579.1,1057.8 C1576.2,1058.9 1571.9,1058.6 1570.4,1060 C1569,1061.4 1569.3,1064.7 1570.4,1066.5 C1571.5,1068.3 1575.5,1069.1 1577,1070.9 C1578.4,1072.7 1579.9,1075.6 1579.1,1077.4 C1578.4,1079.2 1576.2,1080.3 1572.6,1081.7 C1569,1083.2 1562.1,1084.6 1557.4,1086.1 C1552.7,1087.5 1548.7,1089.3 1544.3,1090.4 C1540,1091.5 1535.7,1091.9 1531.3,1092.6 C1527,1093.3 1521.9,1094.1 1518.3,1094.8 C1514.6,1095.5 1510.3,1095.9 1509.6,1097 C1508.8,1098 1511.7,1099.9 1513.9,1101.3 C1516.1,1102.8 1520.1,1103.5 1522.6,1105.7 C1525.1,1107.8 1528,1111.8 1529.1,1114.3 C1530.2,1116.9 1529.9,1119.1 1529.1,1120.9 C1528.4,1122.7 1527,1123.9 1524.8,1125.2 C1522.6,1126.5 1518.3,1127.4 1516.1,1128.5 C1513.9,1129.6 1513,1130.3 1511.7,1131.7 C1510.5,1133.2 1510.3,1135.7 1508.5,1137.4 C1506.7,1139.1 1503.9,1140.5 1500.9,1141.7 C1497.8,1143 1493.6,1144.6 1490,1145 C1486.4,1145.4 1482.4,1144.3 1479.1,1143.9 C1475.9,1143.6 1473,1142.5 1470.4,1142.8 C1467.9,1143.2 1466.4,1144.1 1463.9,1146.1 C1461.4,1148.1 1457,1152.6 1455.2,1154.8 C1453.4,1157 1454.5,1158 1453,1159.1 C1451.6,1160.2 1449.1,1161.1 1446.5,1161.3 C1444,1161.5 1440.4,1160.9 1437.8,1160.2 C1435.3,1159.5 1432.9,1158.9 1431.3,1157 C1429.7,1155 1429.5,1150.6 1428,1148.3 C1426.6,1145.9 1424.4,1143.6 1422.6,1142.8 C1420.8,1142.1 1418.8,1143 1417.2,1143.9 C1415.5,1144.8 1413.7,1145.5 1412.8,1148.3 C1411.9,1151 1413,1157.7 1411.7,1160.2 C1410.5,1162.8 1407.8,1161.8 1405.2,1163.5 C1402.7,1165.1 1399.2,1167.1 1396.5,1170 C1393.8,1172.9 1390,1178 1388.9,1180.9 C1387.8,1183.8 1388.9,1185 1390,1187.4 C1391.1,1189.7 1394.7,1193.2 1395.4,1195 C1396.2,1196.8 1395.6,1197.2 1394.3,1198.3 C1393.1,1199.3 1390,1200.3 1387.8,1201.5 C1385.7,1202.8 1382.8,1204.2 1381.3,1205.9 C1379.9,1207.5 1378.8,1208.6 1379.1,1211.3 C1379.5,1214 1382,1218.6 1383.5,1222.2 C1384.9,1225.8 1386.4,1229.8 1387.8,1233 C1389.3,1236.3 1391.8,1239.7 1392.2,1241.7 C1392.5,1243.7 1391.4,1244.5 1390,1245 C1388.6,1245.5 1386.7,1245.5 1383.5,1245 C1380.2,1244.5 1374.4,1242.5 1370.4,1241.7 C1366.4,1241 1362.1,1241.7 1359.6,1240.7 C1357,1239.6 1356.7,1237.2 1355.2,1235.2 C1353.8,1233.2 1352,1229.1 1350.9,1228.7 C1349.8,1228.3 1349.6,1230.1 1348.7,1233 C1347.8,1235.9 1347.2,1242.8 1345.4,1246.1 C1343.6,1249.3 1340.2,1249.7 1337.8,1252.6 C1335.5,1255.5 1333.8,1259.1 1331.3,1263.5 C1328.8,1267.8 1325.1,1275.1 1322.6,1278.7 C1320.1,1282.3 1319.3,1283.4 1316.1,1285.2 C1312.8,1287 1306.3,1287.6 1303,1289.6 C1299.8,1291.6 1298,1294.3 1296.5,1297.2 C1295.1,1300.1 1295.4,1303.9 1294.3,1307 C1293.3,1310 1290.9,1312.8 1290,1315.7 C1289.1,1318.6 1289.6,1321.4 1288.9,1324.3 C1288.2,1327.2 1287.3,1330.5 1285.7,1333 C1284,1335.6 1281.3,1337.6 1279.1,1339.6 C1277,1341.6 1274.4,1343.6 1272.6,1345 C1270.8,1346.4 1268.1,1347.4 1268.3,1348.3 C1268.4,1349.2 1271.9,1349 1273.7,1350.4 C1275.5,1351.9 1278.2,1354.1 1279.1,1357 C1280,1359.9 1280.2,1364.9 1279.1,1367.8 C1278,1370.7 1275.5,1371.6 1272.6,1374.3 C1269.7,1377.1 1265.7,1382 1261.7,1384.1 C1257.8,1386.3 1252.3,1385.8 1248.7,1387.4 C1245.1,1389 1241.8,1392.1 1240,1393.9 C1238.2,1395.7 1237.5,1395.7 1237.6,1398.3 C1237.8,1400.8 1240,1405.9 1240.9,1409.1 C1241.8,1412.4 1241.6,1414.2 1243,1417.8 C1244.5,1421.4 1248.8,1427.2 1249.6,1430.9 C1250.3,1434.5 1248.7,1437 1247.4,1439.6 C1246.1,1442.1 1242.7,1443.6 1242,1446.1 C1241.2,1448.6 1242.9,1451.9 1243,1454.8 C1243.2,1457.7 1244.1,1460.9 1243,1463.5 C1242,1466 1239.1,1467.8 1236.5,1470 C1234,1472.2 1230.7,1474.9 1227.8,1476.5 C1224.9,1478.2 1221.3,1478.3 1219.1,1479.8 C1217,1481.2 1215.9,1482.9 1214.8,1485.2 C1213.7,1487.6 1214.1,1491 1212.6,1493.9 C1211.2,1496.8 1208.3,1499.7 1206.1,1502.6 C1203.9,1505.5 1202.1,1509.5 1199.6,1511.3 C1197,1513.1 1194.5,1513.3 1190.9,1513.5 C1187.2,1513.7 1181.4,1512.8 1177.8,1512.4 C1174.2,1512 1171.3,1510.8 1169.1,1511.3 C1167,1511.8 1165.1,1513.8 1164.8,1515.7 C1164.4,1517.5 1165.9,1520.4 1167,1522.2 C1168,1524 1168.8,1526.2 1171.3,1526.5 C1173.8,1526.9 1178.9,1525.1 1182.2,1524.3 C1185.4,1523.6 1188.3,1521.8 1190.9,1522.2 C1193.4,1522.5 1195.8,1524.7 1197.4,1526.5 C1199,1528.3 1200.1,1530.5 1200.7,1533 C1201.2,1535.6 1200.8,1538.6 1200.7,1541.7 C1200.5,1544.9 1200.1,1547.2 1199.6,1551.7 C1199,1556.3 1198.5,1564.1 1197.4,1569.1 C1196.3,1574.2 1196.3,1578.6 1193,1582.2 C1189.8,1585.8 1182.5,1588.3 1177.8,1590.9 C1173.1,1593.4 1167.7,1595.9 1164.8,1597.4 C1161.9,1598.8 1162.6,1599.7 1160.4,1599.6 C1158.3,1599.4 1154.1,1596.7 1151.7,1596.3 C1149.4,1595.9 1147.6,1596.1 1146.3,1597.4 C1145,1598.7 1143.6,1601.6 1144.1,1603.9 C1144.7,1606.3 1148.3,1609 1149.6,1611.5 C1150.8,1614.1 1151.7,1616.8 1151.7,1619.1 C1151.7,1621.5 1151,1623.1 1149.6,1625.7 C1148.1,1628.2 1145,1631.8 1143,1634.3 C1141.1,1636.9 1138.5,1638.5 1137.6,1640.9 C1136.7,1643.2 1136.3,1645.9 1137.6,1648.5 C1138.9,1651 1142.1,1653.7 1145.2,1656.1 C1148.3,1658.4 1153.4,1660.6 1156.1,1662.6 C1158.8,1664.6 1161.2,1666.4 1161.5,1668 C1161.9,1669.7 1160.3,1671.7 1158.3,1672.4 C1156.3,1673.1 1153.6,1672.6 1149.6,1672.4 C1145.6,1672.2 1139.1,1671.1 1134.3,1671.3 C1129.6,1671.5 1125.7,1672.9 1121.3,1673.5 C1117,1674 1113.3,1674.9 1108.3,1674.6 C1103.2,1674.2 1095.6,1671.7 1090.9,1671.3 C1086.2,1670.9 1083.6,1671.7 1080,1672.4 C1076.4,1673.1 1071.8,1674 1069.1,1675.7 C1066.4,1677.3 1064.8,1679.8 1063.7,1682.2 C1062.6,1684.5 1061.7,1687.6 1062.6,1689.8 C1063.5,1692 1066.6,1693.6 1069.1,1695.2 C1071.7,1696.8 1075.7,1697.8 1077.8,1699.6 C1080,1701.4 1081.1,1704.3 1082.2,1706.1 C1083.3,1707.9 1082.9,1710.1 1084.3,1710.4 C1085.8,1710.8 1088.3,1708.6 1090.9,1708.3 C1093.4,1707.9 1096.7,1707.2 1099.6,1708.3 C1102.5,1709.3 1105.7,1712.6 1108.3,1714.8 C1110.8,1717 1112.6,1719.5 1114.8,1721.3 C1117,1723.1 1119.1,1723.8 1121.3,1725.7 C1123.5,1727.5 1125.7,1730.7 1127.8,1732.2 C1130,1733.6 1132.2,1734.2 1134.3,1734.3 C1136.5,1734.5 1138.7,1733.3 1140.9,1733.3 C1143,1733.3 1145.8,1733.3 1147.4,1734.3 C1149,1735.4 1150.3,1738.2 1150.7,1739.8 C1151,1741.4 1150.8,1743.4 1149.6,1744.1 C1148.3,1744.9 1145.9,1744.7 1143,1744.1 C1140.1,1743.6 1135.8,1741.6 1132.2,1740.9 C1128.6,1740.1 1124.9,1740.1 1121.3,1739.8 C1117.7,1739.4 1114.4,1739.1 1110.4,1738.7 C1106.4,1738.3 1101.4,1737.1 1097.4,1737.6 C1093.4,1738.2 1089.4,1740.9 1086.5,1742 C1083.6,1743 1081.8,1744.3 1080,1744.1 C1078.2,1743.9 1077.1,1742.3 1075.7,1740.9 C1074.2,1739.4 1072.8,1737.2 1071.3,1735.4 C1069.9,1733.6 1068.8,1731.3 1067,1730 C1065.1,1728.7 1063,1728.2 1060.4,1727.8 C1057.9,1727.5 1054.3,1727.3 1051.7,1727.8 C1049.2,1728.4 1046.8,1729.8 1045.2,1731.1 C1043.6,1732.4 1042.7,1733.8 1042,1735.4 C1041.2,1737.1 1040.9,1738.9 1040.9,1740.9 C1040.9,1742.9 1041.8,1746.3 1042,1747.4 M484.1,1513.5 C483,1514.9 479.8,1517.8 477.6,1522.2 C475.4,1526.6 472.5,1535.1 471.1,1540 C469.6,1544.9 469.6,1547.6 468.9,1551.7 C468.2,1555.9 466.6,1560.8 466.7,1564.8 C466.9,1568.8 469.5,1572 470,1575.7 C470.5,1579.3 468.9,1582.2 470,1586.5 C471.1,1590.9 475.1,1597.4 476.5,1601.7 C478,1606.1 477.2,1608.6 478.7,1612.6 C480.1,1616.6 483.8,1621.3 485.2,1625.7 C486.7,1630 486.7,1634 487.4,1638.7 C488.1,1643.4 488.1,1649.2 489.6,1653.9 C491,1658.6 495.4,1663.3 496.1,1667 C496.8,1670.6 495.7,1673.5 493.9,1675.7 C492.1,1677.8 488.5,1679.3 485.2,1680 C482,1680.7 477.4,1680.2 474.3,1680 C471.3,1679.8 469.1,1678.2 466.7,1678.9 C464.4,1679.6 461.8,1681.3 460.2,1684.3 C458.6,1687.4 456.4,1693 457,1697.4 C457.5,1701.7 461.8,1706.4 463.5,1710.4 C465.1,1714.4 464.6,1717.7 466.7,1721.3 C468.9,1724.9 474.9,1729.3 476.5,1732.2 C478.2,1735.1 477.4,1736.2 476.5,1738.7 C475.6,1741.2 473.1,1745.2 471.1,1747.4 C469.1,1749.6 466,1749.6 464.6,1751.7 C463.1,1753.9 462.6,1756.4 462.4,1760.4 C462.2,1764.4 462.2,1771.7 463.5,1775.7 C464.7,1779.6 467.8,1782 470,1784.3 C472.2,1786.7 475.1,1786.9 476.5,1789.8 C478,1792.7 477.4,1797.9 478.7,1801.7 C480,1805.5 483.9,1808.3 484.1,1812.6 C484.3,1817 481.4,1823.1 479.8,1827.8 C478.2,1832.5 475.8,1837.2 474.3,1840.9 C472.9,1844.5 471.3,1846.3 471.1,1849.6 C470.9,1852.8 472.9,1857.5 473.3,1860.4 C473.6,1863.3 473.8,1864.8 473.3,1867 C472.7,1869.1 469.8,1871.3 470,1873.5 C470.2,1875.7 472.7,1877.8 474.3,1880 C476,1882.2 479.1,1883.6 479.8,1886.5 C480.5,1889.4 479.6,1894.5 478.7,1897.4 C477.8,1900.3 475.6,1901.7 474.3,1903.9 C473.1,1906.1 471.3,1907.9 471.1,1910.4 C470.9,1913 472,1916.2 473.3,1919.1 C474.5,1922 477.1,1924.6 478.7,1927.8 C480.3,1931.1 482,1934 483,1938.7 C484.1,1943.4 484.9,1953.2 485.2,1956.1 M1140.9,1541.7 C1141.2,1538.8 1141.6,1529.4 1143,1524.3 C1144.5,1519.3 1147.8,1512.8 1149.6,1511.3 C1151.4,1509.9 1152.8,1513.5 1153.9,1515.7 C1155,1517.8 1155,1522.2 1156.1,1524.3 C1157.2,1526.5 1158.8,1527.2 1160.4,1528.7 C1162.1,1530.1 1165,1530.9 1165.9,1533 C1166.8,1535.2 1166.2,1539.7 1165.9,1541.7 C1165.5,1543.8 1164.4,1543 1163.7,1545.2 C1163,1547.4 1163.5,1552.5 1161.5,1555 C1159.5,1557.5 1154.8,1558.8 1151.7,1560.4 C1148.7,1562.1 1145.4,1564.4 1143,1564.8 C1140.7,1565.1 1138.7,1564.8 1137.6,1562.6 C1136.5,1560.4 1136.3,1555.4 1136.5,1551.7 C1136.7,1548.1 1138,1542.5 1138.7,1540.9 C1139.4,1539.2 1140.5,1541.6 1140.9,1541.7Z M1225.7,1541.7 C1226,1540.3 1226,1535.2 1227.8,1533 C1229.6,1530.9 1234,1530.5 1236.5,1528.7 C1239.1,1526.9 1240.8,1524.3 1243,1522.2 C1245.3,1520 1247.8,1517.5 1250,1515.7 C1252.2,1513.8 1254.5,1511.8 1256.3,1511.3 C1258.1,1510.8 1260.1,1510.9 1260.7,1512.4 C1261.2,1513.8 1260.5,1517.3 1259.6,1520 C1258.7,1522.7 1257.4,1525.1 1255.2,1528.7 C1253,1532.3 1248.6,1539.5 1246.5,1541.7 C1244.5,1543.9 1245.1,1541.4 1243,1542 C1241,1542.5 1236.9,1544.9 1234.3,1545.2 C1231.8,1545.6 1229.5,1545.2 1227.8,1544.1 C1226.2,1543 1224.9,1539.1 1224.6,1538.7 C1224.2,1538.3 1225.5,1541.2 1225.7,1541.7Z M2076.1,1217.8 C2075.1,1219.6 2072.2,1224.7 2070,1228.7 C2067.8,1232.7 2065.3,1237.4 2063,1241.7 C2060.8,1246.1 2058,1251.3 2056.5,1254.8 C2055.1,1258.2 2054,1260.2 2054.3,1262.4 C2054.7,1264.6 2055.1,1265.8 2058.7,1267.8 C2062.3,1269.8 2073.2,1273.3 2076.1,1274.3 M2076.1,1307 C2075.1,1307.3 2072.9,1308 2070,1309.1 C2067.1,1310.2 2062.4,1312 2058.7,1313.5 C2055,1314.9 2051.4,1316.7 2047.8,1317.8 C2044.2,1318.9 2040,1319.1 2037,1320 C2033.9,1320.9 2031.5,1324 2029.3,1323.3 C2027.2,1322.5 2025.5,1317.8 2023.9,1315.7 C2022.3,1313.5 2020.7,1311.5 2019.6,1310.2 C2018.5,1308.9 2018.5,1307.9 2017.4,1308 C2016.3,1308.2 2014.3,1309.3 2013,1311.3 C2011.8,1313.3 2010.5,1316.4 2009.8,1320 C2009.1,1323.6 2008.3,1329.1 2008.7,1333 C2009.1,1337 2010.5,1340.3 2012,1343.9 C2013.4,1347.5 2016.1,1351.2 2017.4,1354.8 C2018.7,1358.4 2019.2,1362.4 2019.6,1365.7 C2019.9,1368.9 2018.1,1372.5 2019.6,1374.3 C2021,1376.2 2025.4,1376.3 2028.3,1376.5 C2031.2,1376.7 2034.8,1376.2 2037,1375.4 C2039.1,1374.7 2040.4,1372.4 2041.3,1372.2 C2042.2,1372 2043.1,1373.3 2042.4,1374.3 C2041.7,1375.4 2038.6,1377.2 2037,1378.7 C2035.3,1380.1 2034.1,1380.9 2032.6,1383 C2031.2,1385.2 2029.3,1388.5 2028.3,1391.7 C2027.2,1395 2026.8,1399 2026.1,1402.6 C2025.4,1406.2 2024.6,1410.2 2023.9,1413.5 C2023.2,1416.7 2021.7,1420 2021.7,1422.2 C2021.7,1424.3 2022.6,1425.4 2023.9,1426.5 C2025.2,1427.6 2027.9,1429.4 2029.3,1428.7 C2030.8,1428 2032.1,1424.7 2032.6,1422.2 C2033.2,1419.6 2031.2,1416.4 2032.6,1413.5 C2034.1,1410.6 2038.4,1407.5 2041.3,1404.8 C2044.2,1402.1 2047.5,1398.8 2050,1397.2 C2052.5,1395.5 2052.2,1395.4 2056.5,1395 C2060.9,1394.6 2072.8,1395 2076.1,1395 M840,1609.3 C838.1,1609.5 831.5,1609.5 828.7,1610.4 C825.9,1611.3 824,1613 823.3,1614.8 C822.5,1616.6 823.4,1618.8 824.3,1621.3 C825.3,1623.8 827.6,1627.1 828.7,1630 C829.8,1632.9 830.7,1635.1 830.9,1638.7 C831.1,1642.3 829.8,1648.1 829.8,1651.7 C829.8,1655.4 830,1658.4 830.9,1660.4 C831.8,1662.4 833.7,1663.3 835.2,1663.7 C836.7,1664.1 838.7,1663.9 840,1662.6 C841.3,1661.3 841.8,1659 843,1656.1 C844.3,1653.2 845.6,1648.8 847.4,1645.2 C849.2,1641.6 852.3,1638 853.9,1634.3 C855.5,1630.7 857.5,1626.9 857.2,1623.5 C856.8,1620 854.5,1616.1 851.7,1613.7 C849,1611.3 842.8,1610.1 840.9,1609.3 C838.9,1608.6 840.1,1609.3 840,1609.3Z M1367.2,1662.6 C1366.3,1662.1 1364.5,1660.3 1361.7,1659.3 C1359,1658.4 1354.5,1657.4 1350.9,1657.2 C1347.2,1657 1344,1656.8 1340,1658.3 C1336,1659.7 1331.7,1663.9 1327,1665.9 C1322.2,1667.9 1315.7,1669.3 1311.7,1670.2 C1307.8,1671.1 1303.4,1669.3 1303,1671.3 C1302.7,1673.3 1307.4,1678.9 1309.6,1682.2 C1311.7,1685.4 1315.4,1688.7 1316.1,1690.9 C1316.8,1693 1315,1692.3 1313.9,1695.2 C1312.8,1698.1 1311.4,1704.3 1309.6,1708.3 C1307.8,1712.2 1305.6,1716.6 1303,1719.1 C1300.5,1721.7 1297.6,1722.2 1294.3,1723.5 C1291.1,1724.7 1286.7,1726 1283.5,1726.7 C1280.2,1727.5 1277,1728.7 1274.8,1727.8 C1272.6,1726.9 1272.6,1723.1 1270.4,1721.3 C1268.3,1719.5 1264.6,1718 1261.7,1717 C1258.8,1715.9 1255.2,1716.2 1253,1714.8 C1250.9,1713.3 1249.2,1710.8 1248.7,1708.3 C1248.2,1705.7 1248.3,1702.1 1249.8,1699.6 C1251.2,1697 1254.3,1694.9 1257.4,1693 C1260.5,1691.2 1264.6,1690 1268.3,1688.7 C1271.9,1687.4 1277.1,1686.9 1279.1,1685.4 C1281.1,1684 1280.8,1682 1280.2,1680 C1279.7,1678 1277.9,1675.3 1275.9,1673.5 C1273.9,1671.7 1271.3,1670.2 1268.3,1669.1 C1265.2,1668 1259.4,1666.6 1257.4,1667 C1255.4,1667.3 1257.3,1670.9 1256.1,1671.3 C1254.9,1671.7 1252.9,1670 1250,1669.1 C1247.1,1668.2 1242,1666.2 1238.7,1665.9 C1235.4,1665.5 1232.5,1665.7 1230,1667 C1227.5,1668.2 1224.7,1671.3 1223.5,1673.5 C1222.2,1675.7 1221.7,1677.1 1222.4,1680 C1223.1,1682.9 1226.2,1688 1227.8,1690.9 C1229.5,1693.8 1231.1,1694.5 1232.2,1697.4 C1233.3,1700.3 1234.5,1705 1234.3,1708.3 C1234.2,1711.5 1232.5,1714.4 1231.1,1717 C1229.6,1719.5 1225.1,1721.3 1225.7,1723.5 C1226.2,1725.7 1229.3,1727.5 1234.3,1730 C1239.4,1732.5 1250.4,1737.6 1256.1,1738.7 C1261.7,1739.8 1264.4,1736.2 1268.3,1736.5 C1272.1,1736.9 1275.9,1739.6 1279.1,1740.9 C1282.4,1742.1 1284.6,1743.6 1287.8,1744.1 C1291.1,1744.7 1296.2,1743.6 1298.7,1744.1 C1301.2,1744.7 1302.3,1745.9 1303,1747.4 C1303.8,1748.8 1302,1752.8 1303,1752.8 C1304.1,1752.8 1306.7,1748.5 1309.6,1747.4 C1312.5,1746.3 1316.8,1745.8 1320.4,1746.3 C1324.1,1746.8 1328,1749.7 1331.3,1750.7 C1334.6,1751.6 1337.5,1752.3 1340,1751.7 C1342.5,1751.2 1345.3,1749.6 1346.5,1747.4 C1347.8,1745.2 1346.9,1740.7 1347.6,1738.7 C1348.3,1736.7 1349.6,1735.8 1350.9,1735.4 C1352.1,1735.1 1353.9,1735.4 1355.2,1736.5 C1356.5,1737.6 1358.1,1739.8 1358.5,1742 C1358.8,1744.1 1357.4,1747.2 1357.4,1749.6 C1357.4,1751.9 1357.4,1754.5 1358.5,1756.1 C1359.6,1757.7 1361.9,1759 1363.9,1759.3 C1365.9,1759.7 1368.8,1759.9 1370.4,1758.3 C1372.1,1756.6 1372.8,1752.5 1373.7,1749.6 C1374.6,1746.7 1374.2,1742.5 1375.9,1740.9 C1377.5,1739.2 1381.1,1740.5 1383.5,1739.8 C1385.8,1739.1 1388.7,1737.8 1390,1736.5 C1391.3,1735.3 1391.8,1733.6 1391.1,1732.2 C1390.4,1730.7 1388.4,1728.9 1385.7,1727.8 C1382.9,1726.7 1378.2,1726.2 1374.8,1725.7 C1371.3,1725.1 1366.6,1724.7 1365,1724.6 M1110.4,1814.8 C1109,1814.6 1104.6,1813 1101.7,1813.7 C1098.8,1814.4 1095,1817.1 1093,1819.1 C1091.1,1821.1 1088.3,1824.6 1089.8,1825.7 C1091.2,1826.7 1098.3,1827.5 1101.7,1825.7 C1105.2,1823.8 1109,1816.6 1110.4,1814.8Z M1133.3,1799.6 C1134.9,1798.8 1139.2,1795.8 1143,1795.2 C1146.8,1794.7 1152.5,1797 1156.1,1796.3 C1159.7,1795.6 1162.8,1793.6 1164.8,1790.9 C1166.8,1788.2 1166.6,1784.3 1168,1780 C1169.5,1775.7 1171.5,1768.2 1173.5,1764.8 C1175.5,1761.3 1177.1,1760.6 1180,1759.3 C1182.9,1758.1 1188.2,1757 1190.9,1757.2 C1193.6,1757.4 1195.2,1758.4 1196.3,1760.4 C1197.4,1762.4 1197.6,1765.9 1197.4,1769.1 C1197.2,1772.4 1195.9,1776.4 1195.2,1780 C1194.5,1783.6 1193.2,1787.6 1193,1790.9 C1192.9,1794.1 1193.9,1798.1 1194.1,1799.6 M1045.2,1810.4 C1044.9,1812.2 1043.9,1817.7 1043,1821.3 C1042.1,1824.9 1040.7,1828.2 1039.8,1832.2 C1038.9,1836.2 1038.3,1841.2 1037.6,1845.2 C1036.9,1849.2 1036.7,1853.7 1035.4,1856.1 C1034.2,1858.4 1032.4,1859.2 1030,1859.3 C1027.6,1859.5 1024.2,1857.2 1021.3,1857.2 C1018.4,1857.2 1015.9,1859 1012.6,1859.3 C1009.3,1859.7 1003.6,1859.3 1001.7,1859.3 M1112.6,1861.5 C1110.8,1861.5 1105.4,1861 1101.7,1861.5 C1098.1,1862.1 1094.1,1863.2 1090.9,1864.8 C1087.6,1866.4 1084.7,1868.4 1082.2,1871.3 C1079.6,1874.2 1076.9,1878.6 1075.7,1882.2 C1074.4,1885.8 1074.2,1890.1 1074.6,1893 C1074.9,1895.9 1076.9,1896.3 1077.8,1899.6 C1078.7,1902.8 1079.6,1903.2 1080,1912.6 C1080.4,1922 1080,1948.8 1080,1956.1 M1148.5,1861.5 C1148.1,1863.5 1147.6,1869.7 1146.3,1873.5 C1145,1877.3 1142.9,1881.4 1140.9,1884.3 C1138.9,1887.2 1137.2,1889.4 1134.3,1890.9 C1131.4,1892.3 1126.7,1892 1123.5,1893 C1120.2,1894.1 1117.3,1895.6 1114.8,1897.4 C1112.2,1899.2 1109.9,1901.4 1108.3,1903.9 C1106.6,1906.4 1105.9,1908.6 1105,1912.6 C1104.1,1916.6 1103.4,1920.6 1102.8,1927.8 C1102.3,1935.1 1101.9,1951.4 1101.7,1956.1 M1027.8,1956.1 C1029.6,1954.3 1036,1947.2 1038.7,1945.2 C1041.4,1943.2 1042.3,1943 1044.1,1944.1 C1045.9,1945.2 1048.7,1950.5 1049.6,1951.7 M1375.9,1628.9 C1375.1,1629.8 1372.8,1632 1371.5,1634.3 C1370.3,1636.7 1369.3,1640.5 1368.3,1643 C1367.2,1645.6 1366.3,1648.3 1365,1649.6 C1363.7,1650.8 1361.7,1651.7 1360.7,1650.7 C1359.6,1649.6 1359.6,1646.1 1358.5,1643 C1357.4,1640 1355,1636.2 1354.1,1632.2 C1353.2,1628.2 1352.9,1622.6 1353,1619.1 C1353.2,1615.7 1353.8,1613.3 1355.2,1611.5 C1356.7,1609.7 1359.2,1608.4 1361.7,1608.3 C1364.3,1608.1 1367.2,1609.3 1370.4,1610.4 C1373.7,1611.6 1378.4,1615.5 1381.3,1615.3 C1384.2,1615.1 1385.7,1611.1 1387.8,1609.3 C1390,1607.6 1392.2,1605.7 1394.3,1605 C1396.5,1604.3 1399.1,1604.3 1400.9,1605 C1402.7,1605.7 1404.5,1607.7 1405.2,1609.3 C1405.9,1611 1405.2,1613.9 1405.2,1614.8 M1431.3,1614.8 C1433.1,1614.2 1438.2,1612.2 1442.2,1611.5 C1446.2,1610.8 1452.3,1610.3 1455.2,1610.4 C1458.1,1610.6 1458.5,1611.5 1459.6,1612.6 C1460.7,1613.7 1461,1615.5 1461.7,1617 C1462.5,1618.4 1463.6,1620.6 1463.9,1621.3 M1507.4,1728.9 C1508.5,1727.6 1511.7,1723.5 1513.9,1721.3 C1516.1,1719.1 1518.6,1717.3 1520.4,1715.9 C1522.2,1714.4 1524.1,1713.2 1524.8,1712.6 M1360.7,1792 C1360.3,1790 1358.5,1783.8 1358.5,1780 C1358.5,1776.2 1359,1771.8 1360.7,1769.1 C1362.3,1766.4 1365.9,1764.8 1368.3,1763.7 C1370.6,1762.6 1373.3,1761.7 1374.8,1762.6 C1376.2,1763.5 1376.8,1766.2 1377,1769.1 C1377.1,1772 1378.6,1776.2 1375.9,1780 C1373.2,1783.8 1363.2,1790 1360.7,1792Z M1545.4,1814.8 C1545.6,1814.4 1546,1814.1 1546.5,1812.6 C1547.1,1811.2 1547.6,1808.1 1548.7,1806.1 C1549.8,1804.1 1552.3,1802.8 1553,1800.7 C1553.8,1798.5 1552.3,1795.4 1553,1793 C1553.8,1790.7 1555.2,1788.3 1557.4,1786.5 C1559.6,1784.7 1562.8,1783.4 1566.1,1782.2 C1569.3,1780.9 1573.3,1779.3 1577,1778.9 C1580.6,1778.6 1584.6,1779.5 1587.8,1780 C1591.1,1780.5 1593.6,1781.6 1596.5,1782.2 C1599.4,1782.7 1603,1783.4 1605.2,1783.3 C1607.4,1783.1 1608.7,1782.7 1609.6,1781.1 C1610.5,1779.5 1611,1775.8 1610.7,1773.5 C1610.3,1771.1 1609,1769.5 1607.4,1767 C1605.8,1764.4 1603.8,1761.2 1600.9,1758.3 C1598,1755.4 1593.6,1751.7 1590,1749.6 C1586.4,1747.4 1582.4,1746.1 1579.1,1745.2 C1575.9,1744.3 1573,1743.9 1570.4,1744.1 C1567.9,1744.3 1566.4,1746.1 1563.9,1746.3 C1561.4,1746.5 1558.5,1744.7 1555.2,1745.2 C1552,1745.8 1548,1748.5 1544.3,1749.6 C1540.7,1750.7 1537.1,1751.9 1533.5,1751.7 C1529.9,1751.6 1525.9,1749 1522.6,1748.5 C1519.3,1747.9 1517,1747.6 1513.9,1748.5 C1510.8,1749.4 1506.5,1752.6 1504.1,1753.9 C1501.8,1755.2 1501.8,1755.4 1499.8,1756.1 C1497.8,1756.8 1493.6,1756.4 1492.2,1758.3 C1490.7,1760.1 1491.1,1764.4 1491.1,1767 C1491.1,1769.5 1491.6,1770.9 1492.2,1773.5 C1492.7,1776 1492.9,1780.5 1494.3,1782.2 C1495.8,1783.8 1498,1783.6 1500.9,1783.3 C1503.8,1782.9 1508.1,1781.1 1511.7,1780 C1515.4,1778.9 1519.3,1777.5 1522.6,1776.7 C1525.9,1776 1529.3,1775.1 1531.3,1775.7 C1533.3,1776.2 1534.4,1778.2 1534.6,1780 C1534.7,1781.8 1533.7,1784.3 1532.4,1786.5 C1531.1,1788.7 1529.3,1791.4 1527,1793 C1524.6,1794.7 1520.8,1794.9 1518.3,1796.3 C1515.7,1797.8 1512.8,1800.8 1511.7,1801.7 M1609.6,1636.5 C1611,1635.4 1614.6,1631.8 1618.3,1630 C1621.9,1628.2 1627.7,1626.9 1631.3,1625.7 C1634.9,1624.4 1637.1,1623.8 1640,1622.4 C1642.9,1620.9 1644.3,1619.3 1648.7,1617 C1653,1614.6 1660.4,1610.3 1666.1,1608.3 C1671.7,1606.3 1677,1607.2 1682.6,1605 C1688.3,1602.8 1693.8,1598.3 1700,1595.2 C1706.2,1592.1 1713.4,1589.4 1719.6,1586.5 C1725.7,1583.6 1731.9,1580.2 1737,1577.8 C1742,1575.5 1746.4,1574.9 1750,1572.4 C1753.6,1569.9 1755.8,1564.8 1758.7,1562.6 C1761.6,1560.4 1763.8,1560.1 1767.4,1559.3 C1771,1558.6 1776.4,1558.3 1780.4,1558.3 C1784.4,1558.3 1788.6,1558.3 1791.3,1559.3 C1794,1560.4 1796,1562.4 1796.7,1564.8 C1797.5,1567.1 1794.7,1570.9 1795.7,1573.5 C1796.6,1576 1799.6,1577.8 1802.2,1580 C1804.7,1582.2 1808.9,1584.2 1810.9,1586.5 C1812.9,1588.9 1814.1,1591.6 1814.1,1594.1 C1814.1,1596.7 1812.5,1599.4 1810.9,1601.7 C1809.2,1604.1 1806.2,1606.1 1804.3,1608.3 C1802.5,1610.4 1801.8,1611.9 1800,1614.8 C1798.2,1617.7 1795.3,1622.8 1793.5,1625.7 C1791.7,1628.6 1789.1,1630.4 1789.1,1632.2 C1789.1,1634 1790.6,1635.1 1793.5,1636.5 C1796.4,1638 1801.8,1640.1 1806.5,1640.9 C1811.2,1641.6 1817.4,1641.6 1821.7,1640.9 C1826.1,1640.1 1829.3,1638.7 1832.6,1636.5 C1835.9,1634.3 1839.5,1630.4 1841.3,1627.8 C1843.1,1625.3 1843.8,1623.8 1843.5,1621.3 C1843.1,1618.8 1840.2,1614.8 1839.1,1612.6 C1838,1610.4 1836.6,1609.9 1837,1608.3 C1837.3,1606.6 1839.1,1604.3 1841.3,1602.8 C1843.5,1601.4 1847.1,1599.7 1850,1599.6 C1852.9,1599.4 1855.8,1600.5 1858.7,1601.7 C1861.6,1603 1864.9,1606.3 1867.4,1607.2 C1869.9,1608.1 1872.1,1608.1 1873.9,1607.2 C1875.7,1606.3 1877.4,1604.1 1878.3,1601.7 C1879.2,1599.4 1878.6,1595.6 1879.3,1593 C1880.1,1590.5 1881,1588.7 1882.6,1586.5 C1884.2,1584.3 1886.2,1582.4 1889.1,1580 C1892,1577.6 1896.4,1575.3 1900,1572.4 C1903.6,1569.5 1907.6,1565.3 1910.9,1562.6 C1914.1,1559.9 1916.7,1557.7 1919.6,1556.1 C1922.5,1554.5 1925,1552.8 1928.3,1552.8 C1931.5,1552.8 1935.5,1554.8 1939.1,1556.1 C1942.8,1557.4 1946.7,1558.3 1950,1560.4 C1953.3,1562.6 1955.4,1567 1958.7,1569.1 C1962,1571.3 1965.9,1572.6 1969.6,1573.5 C1973.2,1574.4 1977.2,1573.7 1980.4,1574.6 C1983.7,1575.5 1986.2,1578.7 1989.1,1578.9 C1992,1579.1 1995.5,1576.4 1997.8,1575.7 C2000.2,1574.9 2001.8,1574.2 2003.3,1574.6 C2004.7,1574.9 2006.3,1576 2006.5,1577.8 C2006.7,1579.6 2004.7,1584.2 2004.3,1585.4 M1608.5,1613.7 C1610.1,1614.1 1615.2,1615.9 1618.3,1615.9 C1621.3,1615.9 1625.5,1614.1 1627,1613.7 M1537.8,1648.5 C1538.9,1648.3 1541.8,1647.3 1544.3,1647.4 C1546.9,1647.5 1551.6,1648.8 1553,1649.1 M1427,1685.4 L1431.3,1680 M1448.7,1677.8 C1449.1,1679.1 1449.4,1683.8 1450.9,1685.4 C1452.3,1687.1 1454.5,1687.8 1457.4,1687.6 C1460.3,1687.4 1465,1685.4 1468.3,1684.3 C1471.5,1683.3 1474.8,1682.2 1477,1681.1 C1479.1,1680 1480.6,1678.4 1481.3,1677.8 M1307.4,1812.6 C1305.9,1812.6 1301.2,1812.2 1298.7,1812.6 C1296.2,1813 1294.7,1813.7 1292.2,1814.8 C1289.6,1815.9 1285.8,1817.3 1283.5,1819.1 C1281.1,1820.9 1278,1823.1 1278,1825.7 C1278,1828.2 1280.8,1831.8 1283.5,1834.3 C1286.2,1836.9 1290.4,1839.2 1294.3,1840.9 C1298.3,1842.5 1305.2,1843.6 1307.4,1844.1 M1566.1,1612.6 L1570.4,1615.2 M1408.5,1723.5 L1409.6,1728.9 M1678.3,1665.9 C1679.7,1666.8 1684.4,1668.9 1687,1671.3 C1689.5,1673.7 1691.7,1676.7 1693.5,1680 C1695.3,1683.3 1696,1688.5 1697.8,1690.9 C1699.6,1693.2 1702.2,1694.1 1704.3,1694.1 C1706.5,1694.1 1709.1,1693.2 1710.9,1690.9 C1712.7,1688.5 1713.8,1682.2 1715.2,1680 C1716.7,1677.8 1718.3,1676.7 1719.6,1677.8 C1720.8,1678.9 1721.7,1683.6 1722.8,1686.5 C1723.9,1689.4 1725.4,1692.3 1726.1,1695.2 C1726.8,1698.1 1727.9,1701.4 1727.2,1703.9 C1726.4,1706.4 1724.1,1708.8 1721.7,1710.4 C1719.4,1712.1 1716.3,1712.6 1713,1713.7 C1709.8,1714.8 1706.2,1716.1 1702.2,1717 C1698.2,1717.9 1693.5,1718.2 1689.1,1719.1 C1684.8,1720 1680.4,1721.7 1676.1,1722.4 C1671.7,1723.1 1667.4,1723.3 1663,1723.5 C1658.7,1723.7 1652.8,1723.3 1650,1723.5 C1647.2,1723.7 1648.6,1723.8 1646.5,1724.6 C1644.5,1725.3 1640,1726.2 1637.8,1727.8 C1635.7,1729.5 1633.5,1732.4 1633.5,1734.3 C1633.5,1736.3 1636,1738.5 1637.8,1739.8 C1639.6,1741.1 1641.8,1742 1644.3,1742 C1646.9,1742 1649.4,1740.9 1653,1739.8 C1656.7,1738.7 1663.3,1736 1666.1,1735.4 C1668.8,1734.9 1666.8,1735.4 1669.6,1736.5 C1672.3,1737.6 1677.9,1740.1 1682.6,1742 C1687.3,1743.8 1693.5,1746.1 1697.8,1747.4 C1702.2,1748.7 1705.1,1748.3 1708.7,1749.6 C1712.3,1750.8 1716.3,1753.2 1719.6,1755 C1722.8,1756.8 1726.3,1758.4 1728.3,1760.4 C1730.3,1762.4 1730.8,1764.1 1731.5,1767 C1732.2,1769.9 1731.7,1775.5 1732.6,1777.8 C1733.5,1780.2 1734.1,1780.4 1737,1781.1 C1739.9,1781.8 1746.7,1781.1 1750,1782.2 C1753.3,1783.3 1753.6,1786.5 1756.5,1787.6 C1759.4,1788.7 1764.5,1788 1767.4,1788.7 C1770.3,1789.4 1773.9,1790.5 1773.9,1792 C1773.9,1793.4 1769.6,1795 1767.4,1797.4 C1765.2,1799.7 1762.1,1803.6 1760.9,1806.1 C1759.6,1808.6 1758.7,1810.8 1759.8,1812.6 C1760.9,1814.4 1765.2,1815.3 1767.4,1817 C1769.6,1818.6 1771.6,1819.9 1772.8,1822.4 C1774.1,1824.9 1773.7,1829.6 1775,1832.2 C1776.3,1834.7 1777.7,1836.5 1780.4,1837.6 C1783.2,1838.7 1788.4,1837.8 1791.3,1838.7 C1794.2,1839.6 1796,1840.5 1797.8,1843 C1799.6,1845.6 1800.4,1850.7 1802.2,1853.9 C1804,1857.2 1806.2,1859.9 1808.7,1862.6 C1811.2,1865.3 1815.6,1867.3 1817.4,1870.2 C1819.2,1873.1 1819.2,1876.9 1819.6,1880 C1819.9,1883.1 1818.8,1886.2 1819.6,1888.7 C1820.3,1891.2 1821.7,1893.4 1823.9,1895.2 C1826.1,1897 1829.7,1898.8 1832.6,1899.6 C1835.5,1900.3 1837.3,1899.9 1841.3,1899.6 C1845.3,1899.2 1852.2,1897.9 1856.5,1897.4 C1860.9,1896.8 1863.8,1896.5 1867.4,1896.3 C1871,1896.1 1874.6,1897.2 1878.3,1896.3 C1881.9,1895.4 1885.9,1891.8 1889.1,1890.9 C1892.4,1890 1894.2,1890.1 1897.8,1890.9 C1901.4,1891.6 1906.9,1893.8 1910.9,1895.2 C1914.9,1896.7 1918.1,1899.2 1921.7,1899.6 C1925.4,1899.9 1930.4,1898.8 1932.6,1897.4 C1934.8,1895.9 1935.1,1893 1934.8,1890.9 C1934.4,1888.7 1931.9,1886.5 1930.4,1884.3 C1929,1882.2 1927.9,1880.4 1926.1,1877.8 C1924.3,1875.3 1921.4,1870.9 1919.6,1869.1 C1917.8,1867.3 1917.4,1867.1 1915.2,1867 C1913,1866.8 1909.1,1867.7 1906.5,1868 C1904,1868.4 1902.2,1869.7 1900,1869.1 C1897.8,1868.6 1895.3,1866.6 1893.5,1864.8 C1891.7,1863 1890.2,1860.8 1889.1,1858.3 C1888,1855.7 1887,1851.7 1887,1849.6 C1887,1847.4 1887.3,1846.3 1889.1,1845.2 C1890.9,1844.1 1894.2,1843 1897.8,1843 C1901.4,1843 1906.5,1844.5 1910.9,1845.2 C1915.2,1845.9 1920.3,1846.7 1923.9,1847.4 C1927.5,1848.1 1929,1849.2 1932.6,1849.6 C1936.2,1849.9 1941.3,1849.4 1945.7,1849.6 C1950,1849.7 1954.3,1850.7 1958.7,1850.7 C1963,1850.7 1968.5,1850.1 1971.7,1849.6 C1975,1849 1976.4,1848.8 1978.3,1847.4 C1980.1,1845.9 1981.5,1842.7 1982.6,1840.9 C1983.7,1839.1 1984.8,1837.6 1984.8,1836.5 C1984.8,1835.4 1984.4,1834.7 1982.6,1834.3 C1980.8,1834 1975,1833.3 1973.9,1834.3 C1972.8,1835.4 1975.4,1838.7 1976.1,1840.9 C1976.8,1843 1977.5,1845.2 1978.3,1847.4 C1979,1849.6 1978.6,1852.1 1980.4,1853.9 C1982.2,1855.7 1985.9,1857.2 1989.1,1858.3 C1992.4,1859.3 1997.8,1859.7 2000,1860.4 C2002.2,1861.2 2002.9,1861.5 2002.2,1862.6 C2001.4,1863.7 1998.6,1865.9 1995.7,1867 C1992.8,1868 1988.8,1868.8 1984.8,1869.1 C1980.8,1869.5 1975.4,1868.4 1971.7,1869.1 C1968.1,1869.9 1965.6,1872 1963,1873.5 C1960.5,1874.9 1958,1875.7 1956.5,1877.8 C1955.1,1880 1954.3,1883.6 1954.3,1886.5 C1954.3,1889.4 1955.1,1893.4 1956.5,1895.2 C1958,1897 1960.5,1896.7 1963,1897.4 C1965.6,1898.1 1968.8,1899.6 1971.7,1899.6 C1974.6,1899.6 1978.3,1897.4 1980.4,1897.4 C1982.6,1897.4 1983.7,1897 1984.8,1899.6 C1985.9,1902.1 1986.4,1909.3 1987,1912.6 C1987.5,1915.9 1988.4,1917 1988,1919.1 C1987.7,1921.3 1986.8,1924.2 1984.8,1925.7 C1982.8,1927.1 1979.3,1927.3 1976.1,1927.8 C1972.8,1928.4 1968.8,1928.6 1965.2,1928.9 C1961.6,1929.3 1957.6,1929.8 1954.3,1930 C1951.1,1930.2 1948.9,1930.7 1945.7,1930 C1942.4,1929.3 1938.4,1927.1 1934.8,1925.7 C1931.2,1924.2 1926.8,1922 1923.9,1921.3 C1921,1920.6 1919.6,1920.6 1917.4,1921.3 C1915.2,1922 1912.7,1923.5 1910.9,1925.7 C1909.1,1927.8 1908,1931.4 1906.5,1934.3 C1905.1,1937.2 1903.1,1939.4 1902.2,1943 C1901.3,1946.7 1901.3,1953.9 1901.1,1956.1 M1744.6,1737.6 C1743.3,1737.8 1739.1,1737.6 1737,1738.7 C1734.8,1739.8 1731.5,1742 1731.5,1744.1 C1731.5,1746.3 1734.8,1750.1 1737,1751.7 C1739.1,1753.4 1743.3,1753.6 1744.6,1753.9 M1916.3,1690.9 C1915.6,1690.1 1912.9,1688.3 1912,1686.5 C1911.1,1684.7 1910.7,1682 1910.9,1680 C1911.1,1678 1912,1675.7 1913,1674.6 C1914.1,1673.5 1916.7,1673.7 1917.4,1673.5 M2002.6,1555 L2003.3,1560.4 M2027.2,1648.5 C2028.1,1648.7 2031.3,1649.6 2032.6,1649.6 C2033.9,1649.6 2034.4,1648.7 2034.8,1648.5 M2028.3,1660.4 C2029,1660.8 2031.2,1662.6 2032.6,1662.6 C2034.1,1662.6 2035.9,1661.9 2037,1660.4 C2038,1659 2038,1654.3 2039.1,1653.9 C2040.2,1653.6 2042.6,1655.7 2043.5,1658.3 C2044.4,1660.8 2044.4,1665.1 2044.6,1669.1 C2044.7,1673.1 2044.4,1678.2 2044.6,1682.2 C2044.7,1686.2 2044.7,1689.8 2045.7,1693 C2046.6,1696.3 2048.6,1699.7 2050,1701.7 C2051.4,1703.7 2053.6,1704.5 2054.3,1705 M1941.3,1768 C1940.2,1768.2 1936.6,1768.2 1934.8,1769.1 C1933,1770 1931.2,1771.3 1930.4,1773.5 C1929.7,1775.7 1929.7,1779.3 1930.4,1782.2 C1931.2,1785.1 1932.8,1788 1934.8,1790.9 C1936.8,1793.8 1941.1,1798.1 1942.4,1799.6 M1710.9,1908.3 C1711.2,1910.1 1711.6,1916.2 1713,1919.1 C1714.5,1922 1717,1924.2 1719.6,1925.7 C1722.1,1927.1 1725.7,1927.8 1728.3,1927.8 C1730.8,1927.8 1733,1927.1 1734.8,1925.7 C1736.6,1924.2 1738.4,1920.2 1739.1,1919.1"/>
<text x="814.7" y="571.1" font-size="45" text-anchor="middle" transform="rotate(-61.6 814.7 555.1)">1010</text>
<text x="1603.9" y="583.6" font-size="45" text-anchor="middle" transform="rotate(31.4 1603.9 567.6)">1020</text>
<text x="999.0" y="1079.0" font-size="45" text-anchor="middle" transform="rotate(-33.8 999.0 1063.0)">1020</text>
<text x="527.4" y="1505.3" font-size="45" text-anchor="middle" transform="rotate(-45.0 527.4 1489.3)">1020</text>
<rect x="1574.5" y="1433.5" width="109.2" height="63.0" fill="#fff"/>
<text x="1579.8" y="1476.5" font-size="46">H<tspan font-size="28" dy="9.5">1027</tspan></text>
<rect x="1581.0" y="1404.2" width="101.8" height="63.0" fill="#fff"/>
<text x="1586.5" y="1447.2" font-size="46">L<tspan font-size="28" dy="9.5">1026</tspan></text>
<rect x="1642.0" y="1130.3" width="109.2" height="63.0" fill="#fff"/>
<text x="1647.3" y="1173.3" font-size="46">H<tspan font-size="28" dy="9.5">1026</tspan></text>
<rect x="1762.7" y="1130.3" width="109.2" height="63.0" fill="#fff"/>
<text x="1768.0" y="1173.3" font-size="46">H<tspan font-size="28" dy="9.5">1027</tspan></text>
<rect x="1735.6" y="1185.7" width="101.8" height="63.0" fill="#fff"/>
<text x="1741.1" y="1228.7" font-size="46">L<tspan font-size="28" dy="9.5">1025</tspan></text>
<rect x="1860.6" y="1203.0" width="109.2" height="63.0" fill="#fff"/>
<text x="1865.9" y="1246.0" font-size="46">H<tspan font-size="28" dy="9.5">1027</tspan></text>
<rect x="1688.8" y="1258.5" width="109.2" height="63.0" fill="#fff"/>
<text x="1694.1" y="1301.5" font-size="46">H<tspan font-size="28" dy="9.5">1027</tspan></text>
<rect x="1856.0" y="1255.0" width="101.8" height="63.0" fill="#fff"/>
<text x="1861.5" y="1298.0" font-size="46">L<tspan font-size="28" dy="9.5">1025</tspan></text>
<rect x="1663.8" y="1490.0" width="109.2" height="63.0" fill="#fff"/>
<text x="1669.1" y="1533.0" font-size="46">H<tspan font-size="28" dy="9.5">1027</tspan></text>
<rect x="1985.6" y="1472.7" width="109.2" height="63.0" fill="#fff"/>
<text x="1990.9" y="1515.7" font-size="46">H<tspan font-size="28" dy="9.5">1027</tspan></text>
<rect x="946.0" y="1748.0" width="101.8" height="63.0" fill="#fff"/>
<text x="951.5" y="1791.0" font-size="46">L<tspan font-size="28" dy="9.5">1023</tspan></text>
<rect x="1110.0" y="1799.0" width="109.2" height="63.0" fill="#fff"/>
<text x="1115.3" y="1842.0" font-size="46">H<tspan font-size="28" dy="9.5">1031</tspan></text>
<rect x="925.0" y="1889.4" width="101.8" height="63.0" fill="#fff"/>
<text x="930.5" y="1932.4" font-size="46">L<tspan font-size="28" dy="9.5">1023</tspan></text>
<rect x="942.7" y="1859.0" width="109.2" height="63.0" fill="#fff"/>
<text x="948.0" y="1902.0" font-size="46">H<tspan font-size="28" dy="9.5">1027</tspan></text>
<rect x="1544.0" y="1550.0" width="109.2" height="63.0" fill="#fff"/>
<text x="1549.3" y="1593.0" font-size="46">H<tspan font-size="28" dy="9.5">1029</tspan></text>
<rect x="1376.7" y="1614.0" width="109.2" height="63.0" fill="#fff"/>
<text x="1382.0" y="1657.0" font-size="46">H<tspan font-size="28" dy="9.5">1028</tspan></text>
<rect x="1576.6" y="1636.0" width="101.8" height="63.0" fill="#fff"/>
<text x="1582.1" y="1679.0" font-size="46">L<tspan font-size="28" dy="9.5">1023</tspan></text>
<rect x="1397.0" y="1687.0" width="109.2" height="63.0" fill="#fff"/>
<text x="1402.3" y="1730.0" font-size="46">H<tspan font-size="28" dy="9.5">1028</tspan></text>
<rect x="1323.4" y="1661.0" width="101.8" height="63.0" fill="#fff"/>
<text x="1329.0" y="1704.0" font-size="46">L<tspan font-size="28" dy="9.5">1024</tspan></text>
<rect x="1486.4" y="1649.0" width="101.8" height="63.0" fill="#fff"/>
<text x="1492.0" y="1692.0" font-size="46">L<tspan font-size="28" dy="9.5">1023</tspan></text>
<rect x="1307.0" y="1790.7" width="109.2" height="63.0" fill="#fff"/>
<text x="1312.3" y="1833.7" font-size="46">H<tspan font-size="28" dy="9.5">1029</tspan></text>
<rect x="1436.4" y="1803.7" width="109.2" height="63.0" fill="#fff"/>
<text x="1441.7" y="1846.7" font-size="46">H<tspan font-size="28" dy="9.5">1029</tspan></text>
<rect x="1242.0" y="1887.5" width="101.8" height="63.0" fill="#fff"/>
<text x="1247.5" y="1930.5" font-size="46">L<tspan font-size="28" dy="9.5">1025</tspan></text>
<rect x="1937.7" y="1584.8" width="101.8" height="63.0" fill="#fff"/>
<text x="1943.2" y="1627.8" font-size="46">L<tspan font-size="28" dy="9.5">1025</tspan></text>
<rect x="1917.0" y="1644.6" width="109.2" height="63.0" fill="#fff"/>
<text x="1922.3" y="1687.6" font-size="46">H<tspan font-size="28" dy="9.5">1025</tspan></text>
<rect x="1744.0" y="1696.8" width="101.8" height="63.0" fill="#fff"/>
<text x="1749.5" y="1739.8" font-size="46">L<tspan font-size="28" dy="9.5">1024</tspan></text>
<rect x="1997.5" y="1704.4" width="101.8" height="63.0" fill="#fff"/>
<text x="2003.0" y="1747.4" font-size="46">L<tspan font-size="28" dy="9.5">1025</tspan></text>
<rect x="1942.0" y="1759.8" width="109.2" height="63.0" fill="#fff"/>
<text x="1947.3" y="1802.8" font-size="46">H<tspan font-size="28" dy="9.5">1026</tspan></text>
<rect x="1676.9" y="1845.7" width="109.2" height="63.0" fill="#fff"/>
<text x="1682.2" y="1888.7" font-size="46">H<tspan font-size="28" dy="9.5">1030</tspan></text>
<rect x="2006.0" y="1899.0" width="101.8" height="63.0" fill="#fff"/>
<text x="2011.5" y="1942.0" font-size="46">L<tspan font-size="28" dy="9.5">1025</tspan></text>
<g fill="none" stroke="#707070" stroke-width="1"><path d="M688.5,314 L633,720 L579.8,1120 L522.3,1540 L465.6,1958"/><path d="M1641.7,314 L1658.5,539 L1667.4,710 L1695.7,1130 L1721.7,1540 L1750.5,1958"/><path d="M428,1849.6 C565,1866 700,1885 840,1895 C975,1905 1110,1913 1250,1913.6 C1390,1913 1525,1909 1660,1904 C1800,1896 1935,1885 2072,1869"/></g>
<path fill="none" stroke="#808080" stroke-width="2.5" stroke-linejoin="round" d="M428.3,323.9 436.3,325 448.3,319.6 453.7,321.7 459.1,319.6 462.4,316.3 474.3,315.7 485.2,325 489.6,326.1 501.5,322.8 509.1,327.2 520,329.3 526.5,332.6 533,332.6 537.4,330.4 545,334.8 550.4,331.5 557,333.7 562.4,340.2 566.7,345.7 566.7,358.7 567.8,363 559.1,369.6 550.4,378.3 548.3,382.6 540.7,393.5 541.7,401.1 535.2,408.7 528.7,417.4 527.6,426.1 520,432.6 509.1,441.3 502.6,444.6 503.7,452.2 497.2,462 485.2,467.4 483,469.6 463.5,468.5 450.4,475 442.8,479.3 448.3,478.3 470,472.8 478.7,472.8 476.5,482.6 472.2,482.6 485.2,489.1 490.7,495.7 472.2,504.3 467.8,500 463.5,498.9 450.4,506.5 446.1,514.1 435.2,515.2 428.3,516.3 M428.3,517.4 433,519.6 443.9,521.7 451.5,529.3 461.3,528.3 465.7,521.7 471.1,518.5 478.7,519.6 485.2,526.1 489.6,528.3 495,534.8 498.3,539.1 507,540.2 513.5,543.5 515.7,552.2 520,560.9 517.8,562 524.3,569.6 526.5,573.9 530.9,576.1 530.9,582.6 538.5,587 539.6,593.5 540.7,600 539.6,608.7 537.4,613 538.5,626.1 540.7,639.1 541.7,647.8 545,660.9 547.2,669.6 546.1,680.4 548.3,689.1 553.7,697.8 554.8,704.3 550.4,710.9 M554.8,706.5 572.2,715.2 580.9,720 M428.3,643.5 433,645.7 428.3,647.8 M1088.7,315.2 1097.4,321.7 1106.1,323.9 1112.6,328.3 1119.1,332.6 1125.7,335.9 1130,345.7 1136.5,350 1143,352.2 1151.7,353.3 1160.4,356.5 1167,357.6 1177.8,352.2 1188.7,348.9 1199.6,343.5 1206.1,337 1214.8,332.6 1223.5,326.1 1232.2,319.6 1240.9,315.2 M1112.6,328.3 1131.1,319.6 M1106.1,328.3 1106.1,339.1 1112.6,343.5 1119.1,345.7 1125.7,346.7 1134.3,354.3 1138.7,357.6 M1250,465.2 1232.2,465.2 1221.3,478.3 1210.4,495.7 1206.1,508.7 1201.7,517.4 1199.6,539.1 1199.6,571.7 1197.4,593.5 1199.6,617.4 1201.7,637 1197.4,652.2 1194.1,658.7 1206.1,665.2 1212.6,667.4 1219.1,676.1 M1227.8,665.2 1232.2,669.6 1234.3,680.4 1234.3,702.2 1235.4,720 M1208.3,506.5 1212.6,517.4 1219.1,521.7 1223.5,528.3 1230,534.8 1234.3,541.3 1240.9,541.3 1240.9,532.6 1236.5,523.9 1232.2,519.6 M1201.7,547.8 1208.3,552.2 1206.1,556.5 1212.6,560.9 1208.3,565.2 1201.7,560.9 M1199.6,587 1210.4,593.5 1217,610.9 1203.9,619.6 M1206.1,647.8 1210.4,650 1208.3,656.5 1217,665.2 1219.1,676.1 M1217,691.3 1225.7,687 1227.8,702.2 1221.3,713 M1223.5,478.3 1236.5,489.1 1238.7,504.3 1230,508.7 1227.8,517.4 1243,521.7 M1400.9,315.2 1413.9,321.7 1411.7,330.4 1413.9,343.5 1420.4,356.5 1424.8,365.2 1427,376.1 1431.3,387 1435.7,397.8 1440,408.7 1446.5,419.6 1450.9,434.8 1459.6,439.1 1463.9,452.2 1470.4,465.2 1479.1,482.6 1487.8,491.3 1496.5,500 1503,515.2 1509.6,517.4 1516.1,523.9 1518.3,534.8 1516.1,539.1 1505.2,540.2 1498.7,545.7 1500.9,552.2 1507.4,558.7 1511.7,567.4 1509.6,571.7 M1413.9,316.3 1420.4,326.1 1418.3,339.1 1424.8,347.8 1427,360.9 1431.3,371.7 1435.7,382.6 1440,395.7 1442.2,404.3 M1444.3,315.2 1446.5,332.6 1440,343.5 1440,365.2 1435.7,382.6 1442.2,395.7 1448.7,393.5 M1427,319.6 1431.3,326.1 1435.7,321.7 1433.5,334.8 1429.1,343.5 1433.5,354.3 1437.8,365.2 M1240,462 1257.4,459.8 1270.4,462 1283.5,459.8 1292.2,453.3 1303,439.1 1311.7,426.1 1320.4,408.7 1337.8,406.5 1346.5,400 1359.6,390.2 1366.1,390.2 1358.5,395.7 1353,404.3 1350.9,413 1355.2,419.6 1359.6,450 1353,456.5 1346.5,469.6 1342.2,482.6 1342.2,500 1346.5,515.2 1344.3,526.1 1348.7,532.6 1357.4,537 1374.8,534.8 1381.3,539.1 1387.8,547.8 1385.7,560.9 1379.1,567.4 1372.6,571.7 1370.4,576.1 M1370.4,576.1 1366.1,571.7 1359.6,567.4 1353,564.1 1348.7,567.4 1344.3,576.1 1340,582.6 1341.1,595.7 1340,608.7 1335.7,615.2 1327,614.1 1316.1,616.3 1322.6,619.6 1329.1,621.7 1327,630.4 1322.6,637 1311.7,639.1 1303,637 1294.3,635.9 1303,639.1 1309.6,643.5 1307.4,650 1309.6,656.5 1313.9,658.7 1322.6,653.3 1331.3,650 1340,645.7 1348.7,650 1357.4,656.5 1361.7,658.7 1366.1,652.2 M1260.7,466.3 1268.3,478.3 1272.6,482.6 1283.5,476.1 1292.2,473.9 1305.2,471.7 1309.6,468.5 1319.3,473.9 1311.7,476.1 1305.2,473.9 1300.9,478.3 1296.5,482.6 1295.4,489.1 M1240,487 1248.7,482.6 1253,487 1248.7,493.5 1253,500 1257.4,497.8 1261.7,502.2 1266.1,506.5 1270.4,517.4 1274.8,523.9 1277,530.4 1281.3,534.8 1279.1,528.3 M1379.1,447.8 1387.8,443.5 1400.9,439.1 1402,443.5 1394.3,450 1390,456.5 1383.5,450 M1424.8,512 1433.5,509.8 1427,516.3 1424.8,512 M1466.1,425 1474.8,419.6 1481.3,413 1477,419.6 1467.2,425 M1472.6,376.1 1477,365.2 1481.3,363 1483.5,368.5 1472.6,376.1 M1585.7,358.7 1592.2,332.6 1594.3,315.2 M1585.7,358.7 1590,376.1 1598.7,371.7 1609.6,343.5 1616.1,315.2 M1596.5,352.2 1603,340.2 M1533.5,400 1540,382.6 1541.1,389.1 1537.8,397.8 M1555.2,480.4 1563.9,471.7 1570.4,465.2 1574.8,469.6 1570.4,484.8 1566.1,495.7 1563.9,502.2 1559.6,493.5 1555.2,487 M1583.5,469.6 1587.8,456.5 1592.2,463 1596.5,469.6 1590,476.1 1583.5,473.9 M1596.5,521.7 1600.9,508.7 1605.2,508.7 1600.9,521.7 M1605.2,439.1 1609.6,447.8 1607.4,434.8 M1622.6,484.8 1631.3,508.7 1637.8,504.3 1642.2,517.4 1637.8,521.7 1631.3,513 M1629.1,471.7 1635.7,467.4 1640,471.7 1635.7,480.4 M1642.2,332.6 1648.7,343.5 1655.2,352.2 1660,358.7 M1646.5,447.8 1653,458.7 1650.9,452.2 M1487.8,560.9 1500.9,580.4 1507.4,591.3 1516.1,608.7 1522.6,623.9 1529.1,630.4 1524.8,641.3 1516.1,645.7 1524.8,660.9 1535.7,665.2 1553,667.4 1566.1,663 1577,660.9 1590,660.9 1598.7,665.2 1609.6,665.2 1618.3,652.2 1618.3,643.5 1613.9,632.6 1609.6,623.9 1607.4,608.7 1613.9,597.8 1618.3,589.1 1624.8,582.6 1631.3,580.4 1640,578.3 1648.7,573.9 M1494.3,587 1498.7,593.5 1494.3,608.7 1498.7,626.1 1500.9,637 1494.3,643.5 1483.5,645.7 1474.8,652.2 1474.8,665.2 1485.7,667.4 1492.2,673.9 1490,684.8 1479.1,689.1 1470.4,691.3 1463.9,700 1470.4,708.7 1479.1,720 M1448.7,602.2 1461.7,597.8 1468.3,602.2 1461.7,608.7 1457.4,613 1461.7,621.7 1463.9,630.4 1457.4,634.8 1455.2,639.1 M1433.5,606.5 1442.2,602.2 1440,613 1448.7,617.4 1446.5,628.3 1442.2,634.8 1437.8,639.1 M1383.5,626.1 1396.5,630.4 1405.2,628.3 1409.6,619.6 1416.1,617.4 1422.6,613 1424.8,604.3 1418.3,600 1409.6,597.8 M1392.2,634.8 1400.9,639.1 1398.7,647.8 1403,658.7 1407.4,669.6 1409.6,680.4 1413.9,684.8 1422.6,687 1431.3,689.1 1440,691.3 1444.3,697.8 1448.7,704.3 1453,713 M1359.6,602.2 1363.9,608.7 1368.3,615.2 1366.1,626.1 1361.7,628.3 1359.6,619.6 M1335.7,643.5 1342.2,641.3 1348.7,647.8 1350.9,658.7 1355.2,669.6 1361.7,673.9 M1290,656.5 1298.7,660.9 1305.2,669.6 1307.4,678.3 1311.7,687 1307.4,695.7 1303,704.3 1296.5,710.9 1287.8,715.2 M1296.5,687 1303,691.3 1309.6,697.8 1316.1,704.3 1322.6,706.5 1329.1,708.7 1335.7,713 1340,720 M1370.4,713 1379.1,704.3 1387.8,700 1390,708.7 1383.5,720 M1405.2,713 1413.9,710.9 1422.6,713 1431.3,717.4 M1644.3,691.3 1648.7,682.6 1660,673.9 M1627,580.4 1622.6,589.1 1613.9,600 1609.6,608.7 1609.6,626.1 1613.9,634.8 M1784.8,413 1780.4,417.4 1776.1,421.7 1773.9,434.8 1771.7,452.2 1763,471.7 1756.5,487 1747.8,508.7 1745.7,526.1 1750,556.5 1756.5,534.8 1763,506.5 1769.6,484.8 1776.1,465.2 1782.6,439.1 1787,421.7 1784.8,413 M1758.7,317.4 1754.3,332.6 1757.6,343.5 1756.5,365.2 1754.3,382.6 1756.5,395.7 1754.3,408.7 1750,417.4 1743.5,430.4 1743.5,441.3 1750,447.8 1745.7,460.9 1745.7,473.9 1743.5,489.1 1737,504.3 1732.6,517.4 1728.3,530.4 1726.1,547.8 1721.7,560.9 1715.2,573.9 1712,582.6 M1750,321.7 1752.2,334.8 1747.8,343.5 1750,356.5 1752.2,371.7 1745.7,382.6 1747.8,393.5 1752.2,400 M1734.8,352.2 1741.3,356.5 1745.7,350 1750,360.9 1743.5,365.2 1737,358.7 M1763,317.4 1767.4,319.6 1758.7,323.9 M1865.2,347.8 1867.4,345.7 1876.1,337 1884.8,334.8 1887,345.7 1889.1,332.6 1900,328.3 1910.9,322.8 1919.6,326.1 1908.7,334.8 1904.3,347.8 1900,354.3 1889.1,358.7 1889.1,371.7 1891.3,384.8 1902.2,393.5 1893.5,402.2 1889.1,413 1884.8,421.7 1876.1,430.4 1869.6,437 1867.4,452.2 1858.7,460.9 1855.4,460.9 1858.7,447.8 1865.2,439.1 1858.7,434.8 1854.3,421.7 1852.2,402.2 1847.8,391.3 1846.7,387 1858.7,369.6 1865.2,347.8 M2070,369.6 2063,382.6 2063,397.8 2065.2,419.6 2058.7,432.6 2047.8,445.7 2050,463 2050,484.8 2052.2,506.5 2056.5,521.7 2063,539.1 2065.2,560.9 2070,582.6 M2070,626.1 2063,643.5 2054.3,660.9 2043.5,676.1 2032.6,680.4 2019.6,682.6 2006.5,684.8 2008.7,697.8 2010.9,708.7 2006.5,720 M2070,639.1 2058.7,660.9 2045.7,673.9 2054.3,676.1 2070,676.1 M1650,676.1 1656.5,682.6 1667.4,687 1678.3,691.3 1676.1,706.5 1667.4,708.7 1650,702.2 M1650,565.2 1663,567.4 1671.7,566.3 1682.6,567.4 1693.5,566.3 1700,564.1 1708.7,567.4 1713,573.9 1712,582.6 M1650,569.6 1663,569.6 1676.1,569.6 1689.1,571.7 1700,573.9 1708.7,576.1 M1841.3,720 1867.4,713 1895.7,710.9 1921.7,720 M2019.6,713 2041.3,710.9 2026.1,720 M1878.3,713 1884.8,720 M1650,341.3 1658.7,339.1 1665.2,345.7 1667.4,360.9 1658.7,356.5 1652.2,352.2Z M1691.3,342.4 1697.8,340.2 1706.5,343.5 1702.2,352.2 1693.5,346.7Z M1713,376.1 1716.3,375 1719.6,385.9 1715.2,383.7Z M1651.1,398.9 1656.5,400 1660.9,404.3 1654.3,403.3Z M1654.3,493.5 1660.9,495.7 1665.2,502.2 1660.9,503.3Z M1671.7,497.8 1676.1,492.4 1679.3,493.5 1678.3,497.8Z M2055.4,519.6 2059.8,520.7 2060.9,527.2 2056.5,527.2Z M550.4,710 561.3,711.1 572.2,716.5 580.9,718.7 585.2,725.2 593.9,731.7 596.1,738.3 600.4,742.6 602.6,757.8 607,762.2 609.1,768.7 620,776.3 613.5,777.4 609.1,786.1 611.3,801.3 615.7,814.3 622.2,827.4 628.7,838.3 626.5,842.6 M628.7,838.3 622.2,835 615.7,833.9 611.3,835 604.8,829.6 600.4,819.8 587.4,819.8 576.5,817.6 572.2,818.7 563.5,819.8 M572.2,820.9 585.2,824.1 596.1,823 M570,819.8 567.8,827.4 M604.8,833.9 611.3,841.5 620,851.3 626.5,853.5 628.7,862.2 635.2,881.7 635.2,894.8 633,901.3 624.3,905.7 615.7,912.2 611.3,918.7 607,920.9 615.7,925.2 620,931.7 622.2,933.9 628.7,935 630.9,938.3 633,933.9 637.4,931.7 641.7,920.9 648.3,917.6 659.1,918.7 670,922 680.9,922 696.1,927.4 702.6,931.7 713.5,944.8 724.3,957.8 726.5,970.9 726.5,988.3 722.2,999.1 715.7,1010 713.5,1018.7 709.1,1031.7 700.4,1036.1 691.7,1044.8 687.4,1049.1 M687.4,1049.1 680.9,1038.3 676.5,1036.1 680.9,1042.6 670,1044.8 685.2,1047 680.9,1053.5 683,1060 674.3,1064.3 665.7,1066.5 659.1,1057.8 654.8,1062.2 639.6,1066.5 648.3,1070.9 654.8,1068.7 654.8,1079.6 650.4,1083.9 654.8,1088.3 641.7,1092.6 626.5,1090.4 617.8,1092.6 602.6,1094.8 615.7,1097 620,1097 635.2,1099.1 648.3,1105.7 650.4,1110 648.3,1112.2 637.4,1107.8 628.7,1105.7 620,1103.5 635.2,1107.8 646.1,1114.3 663.5,1112.2 687.4,1112.2 689.6,1116.5 683,1120.9 683,1130 M428.3,751.3 433,747 429.8,742.6 430.9,738.3 428.3,737.2 M429.8,738.3 435.2,733.9 M837.4,1110 840,1107.8 M956.1,920.9 964.8,914.3 973.5,910 980,905.7 982.2,901.3 993,898 1010.4,894.8 1019.1,895.9 1038.7,895.9 M1049.6,893.7 1058.3,891.5 1069.1,888.3 M1080,888.3 1090.9,881.7 1101.7,876.3 M1103.9,875.2 1121.3,870.9 1134.3,867.6 1145.2,866.1 1162.6,863.9 1177.8,862.2 M1190.9,870.9 1197.4,869.8 M980,903.5 993,900.2 1008.3,896.5 M1086.5,882.8 1097.4,880.7 1093,886.1 1086.5,883.9 M1218,912.2 1217,899.1 1221.3,894.8 1217,883.9 1217,873 1221.3,857.8 1227.8,851.3 1236.5,853.5 1250,857.8 M1186.5,886.1 1190.9,877.4 1184.3,872 1173.5,870.9 1149.6,874.1 1132.2,873 1121.3,881.7 1117,888.3 1112.6,901.3 1111.5,914.3 1117,918.7 1119.1,924.1 1124.6,925.2 1125.7,916.5 1134.3,916.5 1138.7,923 1139.8,928.5 M1186.5,886.1 1193,890.4 1186.5,899.1 1195.2,907.8 1201.7,907.8 1203.9,899.1 1199.6,890.4 1203.9,883.9 1212.6,888.3 1219.1,897 M1110.4,916.5 1103.9,914.3 1099.6,899.1 1090.9,897 1069.1,901.3 1058.3,903.5 1049.6,903.5 1034.3,903.5 1010.4,912.2 999.6,920.9 995.2,933.9 990.9,940.4 993,953.5 990.9,962.2 1003.9,968.7 1012.6,966.5 1008.3,975.2 1006.1,988.3 1008.3,994.8 1014.8,997 1023.5,999.1 1023.5,994.8 1008.3,994.8 997.4,999.1 993,1003.5 982.2,1010 969.1,1018.7 969.1,1027.4 977.8,1029.6 M958.3,923 960.4,929.6 953.9,940.4 947.4,947 943,957.8 936.5,979.6 932.2,1003.5 923.5,1025.2 910.4,1042.6 893,1062.2 884.3,1064.3 886.5,1075.2 880,1079.6 862.6,1083.9 858.3,1092.6 838.7,1103.5 843,1110 851.7,1118.7 836.5,1130 M947.4,947 951.7,953.5 958.3,960 964.8,953.5 971.3,957.8 973.5,973 982.2,977.4 982.2,983.9 973.5,990.4 964.8,990.4 967,1001.3 967,1010 962.6,1016.5 956.1,1018.7 960.4,1023 969.1,1023 977.8,1027.4 M873.5,1079.6 884.3,1083.9 895.2,1088.3 906.1,1092.6 917,1097 930,1097 940.9,1094.8 M858.3,1099.1 871.3,1101.3 884.3,1101.3 895.2,1099.1 906.1,1099.1 912.6,1101.3 921.3,1101.3 M836.5,1130 851.7,1127.4 873.5,1123 895.2,1118.7 899.6,1130 M880,1105.7 893,1112.2 895.2,1123 M1206.1,710 1210.4,723 1206.1,736.1 1206.1,749.1 M1208.3,753.5 1221.3,749.1 1227.8,755.7 1221.3,760 1210.4,757.8 M1212.6,762.2 1217,757.8 M1225.7,768.7 1234.3,773 1230,779.6 1223.5,775.2 M1217,770.9 1219.1,781.7 1221.3,786.1 M1225.7,797 1234.3,792.6 1243,797 1250,792.6 M1227.8,801.3 1236.5,803.5 1243,801.3 M1243,810 1240.9,818.7 1243,831.7 1250,840.4 M1250,827.4 1243,836.1 1250,849.1 M1232.2,816.5 1230,831.7 M1212.6,840.4 1219.1,847 M943,997 947.4,1001.3 M947.4,1003.5 951.7,1004.6 M923.5,1038.3 930,1036.1 934.3,1040.4 938.7,1033.9 M956.1,1036.1 960.4,1038.3 962.6,1033.9 967,1044.8 M1027.8,994.8 1034.3,992.6 1038.7,988.3 1043,986.1 M1032.2,986.1 1043,983.9 M1019.1,962.2 1025.7,962.2 1025.7,964.3 1019.1,964.3 M999.6,951.3 1008.3,949.1 1014.8,953.5 M997.4,960 1003.9,957.8 1012.6,957.8 M1032.2,933.9 1034.3,936.1 M1040.9,927.4 1043,931.7 M1086.5,938.3 1088.7,933.9 M1095.2,920.9 1099.6,919.8 M1130,905.7 1132.2,901.3 M1180,933.9 1184.3,931.7 M1201.7,1014.3 1203.9,1012.2 1206.1,1016.5 1203.9,1018.7 M1175.7,814.3 1180,816.5 M1212.6,842.6 1217,847 M1049.6,901.3 1056.1,905.7 1060.4,912.2 M1392.2,747 1394.3,731.7 1400.9,725.2 1413.9,723 1420.4,727.4 1427,731.7 1435.7,736.1 1444.3,729.6 1448.7,738.3 1455.2,747 1450.9,760 1435.7,760 1418.3,755.7 1403,751.3 1392.2,747 M1457.4,768.7 1461.7,753.5 1472.6,738.3 1474.8,723 1496.5,723 1500.9,720.9 1494.3,714.3 1477,713.3 1470.4,710 M1444.3,714.3 1453,718.7 1457.4,723 1466.1,727.4 M1422.6,720.9 1431.3,723 1427,727.4 M1442.2,725.2 1446.5,733.9 M1340,720.9 1353,740.4 1361.7,738.3 1370.4,751.3 1374.8,749.1 1381.3,727.4 1385.7,710 M1344.3,723 1357.4,731.7 1361.7,727.4 1370.4,731.7 1366.1,718.7 1374.8,716.5 M1348.7,714.3 1361.7,718.7 1370.4,714.3 M1285.7,714.3 1296.5,718.7 1305.2,714.3 1322.6,716.5 1327,723 1329.1,733.9 1322.6,738.3 1316.1,742.6 1320.4,751.3 1327,757.8 1329.1,766.5 1327,777.4 1313.9,781.7 1320.4,783.9 1331.3,781.7 M1294.3,729.6 1305.2,731.7 1296.5,738.3 1285.7,742.6 M1294.3,779.6 1305.2,773 1316.1,764.3 1320.4,762.2 1313.9,768.7 1305.2,777.4 M1240,757.8 1248.7,764.3 1253,775.2 1255.2,781.7 1248.7,783.9 1240,781.7 M1240,775.2 1248.7,777.4 M1487.8,799.1 1496.5,779.6 1500.9,778.5 1513.9,781.7 1527,780.7 1535.7,779.6 1540,764.3 1548.7,755.7 1559.6,752.4 1561.7,755.7 1557.4,764.3 1572.6,763.3 1579.1,766.5 1574.8,773 1572.6,779.6 1581.3,786.1 1585.7,792.6 1581.3,799.1 1574.8,797 1566.1,794.8 1563.9,803.5 1557.4,805.7 1548.7,803.5 1540,797 1537.8,788.3 M1490,803.5 1500.9,792.6 1513.9,790.4 1522.6,788.3 M1544.3,766.5 1544.3,779.6 1548.7,783.9 M1470.4,814.3 1453,818.7 1440,818.7 1429.1,829.6 1422.6,838.3 1420.4,842.6 1427,849.1 1418.3,842.6 1411.7,840.4 1409.6,836.1 1396.5,836.1 1387.8,840.4 1383.5,849.1 1379.1,842.6 1377,831.7 1381.3,827.4 1385.7,825.2 1392.2,820.9 1400.9,814.3 1398.7,801.3 1398.7,792.6 1394.3,792.6 1387.8,792.6 1379.1,799.1 1374.8,801.3 1368.3,799.1 1361.7,794.8 1350.9,790.4 1342.2,786.1 1335.7,786.1 1333.5,792.6 1335.7,799.1 M1396.5,788.3 1400.9,779.6 1396.5,775.2 1403,774.1 1411.7,777.4 1416.1,789.3 1405.2,788.3 M1470.4,814.3 1474.8,807.8 1483.5,801.3 1487.8,799.1 M1470.4,818.7 1474.8,825.2 M1242.2,823 1253,823 1255.2,833.9 1244.3,836.1 1240,836.1 M1240,836.1 1244.3,844.8 1253,851.3 1266.1,851.3 1277,855.7 1281.3,862.2 1285.7,870.9 1290,875.2 1292.2,881.7 1296.5,886.1 1311.7,892.6 M1240,857.8 1248.7,858.9 1255.2,855.7 1263.9,853.5 1266.1,849.1 M1566.1,818.7 1568.3,816.5 1579.1,814.3 1587.8,812.2 1590,823 1592.2,831.7 1598.7,838.3 1609.6,844.8 1618.3,842.6 1629.1,840.4 1640,833.9 1653,827.4 1660,825.2 M1592.2,849.1 1600.9,853.5 1609.6,857.8 1622.6,862.2 1633.5,866.5 1646.5,873 1648.7,870.9 1646.5,862.2 1646.5,853.5 1650.9,844.8 1650.9,836.1 1660,831.7 M1594.3,847 1607.4,847 1622.6,842.6 1631.3,844.8 1640,849.1 1646.5,849.1 M1424.8,866.5 1429.1,864.3 1427,879.6 1431.3,883.9 1424.8,883.9 M1379.1,866.5 1377,875.2 M1387.8,881.7 1390,890.4 M1318.3,805.7 1322.6,803.5 M1340,810 1346.5,814.3 M1348.7,823 1359.6,818.7 1368.3,820.9 M1350.9,840.4 1357.4,843.7 M1353,801.3 1359.6,803.5 M1435.7,872 1440,873 M1453,870.9 1457.4,869.8 M1442.2,883.9 1446.5,881.7 M1468.3,883.9 1474.8,883.9 M1477,864.3 1481.3,862.2 M1485.7,877.4 1490,877.4 1487.8,883.9 1485.7,897 1487.8,907.8 M1496.5,897 1509.6,894.8 1513.9,901.3 1522.6,907.8 1516.1,912.2 M1522.6,862.2 1527,853.5 1529.1,857.8 1522.6,862.2 M1507.4,860 1509.6,862.2 M1507.4,875.2 1511.7,868.7 M1548.7,899.1 1555.2,888.3 M1568.3,916.5 1572.6,910 1581.3,903.5 M1535.7,912.2 1537.8,918.7 M1598.7,914.3 1600.9,931.7 M1524.8,927.4 1531.3,929.6 1535.7,925.2 M1540,933.9 1542.2,936.1 M1553,931.7 1559.6,929.6 M1587.8,875.2 1590,877.4 M1633.5,881.7 1635.7,883.9 M1587.8,962.2 1594.3,955.7 1596.5,953.5 M1609.6,955.7 1613.9,960 1611.7,962.2 M1640,964.3 1642.2,966.5 M1485.7,986.1 1490,987.2 M1557.4,1005.7 1561.7,1001.3 M1550.9,1020.9 1557.4,1014.3 1557.4,1012.2 M1498.7,1027.4 1505.2,1027.4 1503,1031.7 M1527,1017.6 1529.1,1018.7 M1535.7,1023 1540,1031.7 1544.3,1027.4 M1587.8,1018.7 1592.2,1018.7 M1603,1040.4 1605.2,1038.3 M1609.6,1040.4 1609.6,1047 M1618.3,1044.8 1620.4,1036.1 M1631.3,1057.8 1633.5,1066.5 1635.7,1057.8 M1587.8,1057.8 1590,1055.7 M1611.7,1057.8 1613.9,1055.7 M1648.7,1114.3 1650.9,1107.8 M1516.1,1031.7 1518.3,1029.6 M1272.6,1020.9 1279.1,1018.7 1279.1,1023 1273.7,1024.1Z M1653,888.3 1655.2,899.1 1657.4,897 M1650.9,918.7 1652,923 M1657.4,938.3 1656.3,942.6 M1650,828.5 1660.9,823 1673.9,816.5 1693.5,807.8 1708.7,803.5 1732.6,792.6 1747.8,789.3 1758.7,781.7 1763,773 1771.7,760 1778.3,753.5 1802.2,744.8 1813,733.9 1826.1,725.2 1845.7,718.7 1871.7,710 M1750,790.4 1756.5,786.1 1765.2,777.4 M1650,831.7 1656.5,827.4 1660.9,831.7 1656.5,838.3 1650,844.8 M1813,736.1 1819.6,738.3 1817.4,731.7 M1828.3,727.4 1834.8,731.7 1843.5,723 M1902.2,710 1902.2,718.7 1908.7,723 1910.9,731.7 1915.2,738.3 1917.4,749.1 1923.9,755.7 1937,758.9 1950,758.9 1965.2,756.7 1982.6,749.1 1993.5,738.3 2002.2,725.2 2008.7,714.3 2010.9,710 M1902.2,712.2 1919.6,718.7 1930.4,725.2 1933.7,730.7 1930.4,729.6 1921.7,723 M1965.2,758.9 1969.6,765.4 1976.1,766.5 1978.3,770.9 M1976.1,764.3 1984.8,755.7 1997.8,751.3 2002.2,742.6 2010.9,736.1 2015.2,727.4 2019.6,723 2028.3,718.7 2037,712.2 2041.3,710 M2015.2,710 2019.6,714.3 2028.3,712.2 M1876.1,714.3 1880.4,718.7 M1854.3,773 1854.3,777.4 M1867.4,770.9 1867.4,779.6 M1880.4,781.7 1889.1,768.7 M1863,788.3 1865.2,783.9 M1800,783.9 1801.1,786.1 M1980.4,781.7 1987,783.9 1987,788.3 M1858.7,807.8 1858.7,812.2 M1878.3,807.8 1882.6,807.8 1878.3,816.5 M1800,812.2 1802.2,818.7 M1791.3,833.9 1797.8,833.9 M1797.8,844.8 1804.3,847 1797.8,850.2 M1852.2,829.6 1853.3,842.6 M1830.4,840.4 1833.7,849.1 M1921.7,840.4 1923.9,838.3 M1971.7,827.4 1976.1,819.8 M1995.7,820.9 2002.2,825.2 2000,840.4 2004.3,838.3 M2008.7,805.7 2015.2,814.3 M2023.9,797 2026.1,803.5 M2030.4,807.8 2039.1,816.5 M2026.1,820.9 2034.8,827.4 M2015.2,829.6 2023.9,827.4 M2006.5,829.6 2010.9,825.2 M2052.2,823 2058.7,823 M2058.7,831.7 2063,838.3 2067.4,833.9 M2065.2,805.7 2070,803.5 M1993.5,849.1 1995.7,847 M2037,855.7 2039.1,860 M1750,864.3 1752.2,870.9 M1754.3,873 1763,866.5 1765.2,873 M1767.4,865.4 1776.1,864.8 M1780.4,865.4 1789.1,866.5 M1704.3,876.3 1710.9,882.8 M1715.2,890.4 1719.6,890.4 M1739.1,883.9 1747.8,889.3 M1769.6,901.3 1771.7,907.8 M1950,888.3 1952.2,890.4 M1654.3,886.1 1658.7,886.1 1658.7,894.8 1654.3,897 M1671.7,920.9 1673.9,905.7 1676.1,905.7 1676.1,920.9 M1650,870.9 1652.2,870.9 M1684.8,927.4 1691.3,929.6 M1657.6,938.3 1658.3,942.6 M1669.6,942.6 1671.7,944.8 M1673.9,953.5 1676.1,947 1680.4,947 M1697.8,948 1700,947 M1728.3,951.3 1734.8,947 1732.6,953.5 M1880.4,944.8 1880.4,949.1 M1893.5,964.3 1898.9,965.4 M1928.3,966.5 1930.4,977.4 M1895.7,992.6 1902.2,994.8 1902.2,1003.5 M1960.9,997 1962,999.1 M1734.8,999.1 1739.1,998 M1793.5,994.8 1797.8,997 M1717.4,1033.9 1719.6,1036.1 M1754.3,1031.7 1756.5,1036.1 M1771.7,1042.6 1769.6,1049.1 M1763,1068.7 1769.6,1074.1 M1650,1105.7 1651.1,1107.8 M428.3,1159.1 437.4,1160.2 446.1,1159.1 454.8,1163.5 452.6,1167.8 459.1,1168.9 472.2,1183 480.9,1182 483,1176.5 489.6,1172.2 485.2,1165.7 474.3,1161.3 457,1162.4 M463.5,1140.7 472.2,1150.4 476.5,1147.2 474.3,1154.8 480.9,1158 485.2,1161.3 491.7,1155.9 502.6,1157 512.4,1160.2 M485.2,1152.6 496.1,1154.8 507,1157 513.5,1159.1 M513.5,1165.7 515.7,1170 522.2,1165.7 533,1163.5 543.9,1165.7 552.6,1163.5 563.5,1166.7 576.5,1173.3 589.6,1179.8 600.4,1172.2 622.2,1167.8 633,1161.3 646.1,1166.7 648.3,1154.8 652.6,1150.4 667.8,1147.2 680.9,1142.8 683,1133 680.9,1124.3 683,1120 M840,1128.7 811.3,1135.2 785.2,1150.4 763.5,1159.1 735.2,1163.5 707,1167.8 698.3,1174.3 691.7,1176.5 691.7,1191.7 688.5,1193.9 688.5,1215.7 685.2,1230.9 684.1,1237.4 680.9,1246.1 678.7,1252.6 687.4,1257 689.6,1258 678.7,1253.7 672.2,1265.7 650.4,1278.7 637.4,1284.1 630.9,1283 617.8,1287.4 600.4,1287.4 580.9,1296.1 570,1300.4 565.7,1304.8 557,1322.2 559.1,1326.5 563.5,1328.7 570,1332 580.9,1333 589.6,1330.9 576.5,1334.1 563.5,1335.2 557,1339.6 550.4,1343.9 541.7,1346.1 530.9,1347.2 517.8,1338.5 507,1336.3 491.7,1333 483,1330.9 478.7,1326.5 472.2,1324.3 463.5,1325.4 461.3,1330.9 460.2,1322.2 454.8,1311.3 452.6,1302.6 454.8,1298.3 459.1,1296.1 459.1,1286.3 441.7,1283 439.6,1287.4 428.7,1287.4 M428.3,1404.8 432,1410.2 M830,1129.8 840.9,1126.5 851.7,1130.9 858.3,1136.3 867,1137.4 875.7,1133 880,1137.4 886.5,1138.5 895.2,1137.4 896.3,1133 888.7,1132 M843,1120 847.4,1123.3 856.1,1123.3 858.3,1127.6 864.8,1130.9 873.5,1124.3 882.2,1124.3 886.5,1127.6 899.6,1127.6 899.6,1120 M1178.9,1137.4 1188.7,1138.5 M1076.7,1465.7 1082.2,1466.7 M872.4,1502.6 878.9,1504.8 872.4,1508Z M1452.6,1252.2 1455.7,1254.3 M1507.8,1308.7 1514.3,1304.3 M1647,1355.9 1645.4,1359.1 1648.3,1368.9 M1636.7,1452.6 1642.2,1459.1 1644.3,1465.7 1653,1467.8 1660,1467.8 M1933.7,1196.1 1941.3,1195 1942.4,1198.3 1934.8,1198.7Z M1858.7,1235.2 1866.3,1233 1867.4,1237.4 1859.8,1237.4Z M1997.8,1286.3 2002.2,1283 2009.8,1282.6 2004.3,1287.4Z M2030.9,1295 2033,1302.6 2030.9,1309.1 2034.8,1305.9 M1777.8,1341.7 1780.4,1341.3 M1830.4,1383.5 1830.9,1387 M1688,1404.8 1690.2,1411.3 1688,1415.7 1693.5,1420 1701.1,1419.6 M2058.7,1340.7 2067.4,1335.2 2070,1343.9 M1650,1465.7 1656.5,1470 M1865.2,1539.6 1871.7,1537.4 M428.3,1840.9 429.8,1845.2 435.2,1846.3 437.4,1850.7 429.8,1849.6 M655.2,1772.4 656.5,1777.8 M826.5,1633.3 829.8,1637.6 M1049.6,1693 1060.4,1682.2 1071.3,1672.4 1080,1668 1084.3,1670.2 1073.5,1680 1064.8,1686.5Z M1086.5,1662.6 1099.6,1655 1095.2,1660.4 1088.7,1663.7Z M1082.2,1680 1088.7,1675.7 1090.9,1677.8 1086.5,1680Z M1021.3,1690.9 1025.7,1687.6 M1017,1712.6 1023.5,1705 M1003.9,1760.4 1008.3,1749.6 1017,1738.7 1021.3,1731.1 1030,1731.1 1038.7,1725.7 1047.4,1724.6 1060.4,1725.7 1069.1,1727.8 1071.3,1739.8 1060.4,1738.7 1051.7,1736.5 1038.7,1738.7 1032.2,1742 1025.7,1745.2 1017,1747.4 1010.4,1753.9 1006.1,1760.4 M1205,1630 1210.4,1638.7 1219.1,1645.2 1227.8,1649.6 1238.7,1648.5 1240.9,1651.7 1232.2,1648.5 1221.3,1645.2 1212.6,1638.7 M1243,1584.3 1250,1575.7 M1236.5,1595.2 1250,1590.9 M1177.8,1634.3 1182.2,1650.7 M1171.3,1651.7 1175.7,1658.3 M1199.6,1651.7 1201.7,1662.6 M1223.5,1653.9 1225.7,1662.6 M1214.8,1627.8 1219.1,1634.3 M1225.7,1631.1 1226.7,1632.2 M1130,1701.7 1136.5,1710.4 1143,1711.5 1151.7,1708.3 1162.6,1701.7 M1186.5,1673.5 1197.4,1664.8 1208.3,1669.1 1210.4,1684.3 M1184.3,1677.8 1199.6,1671.3 1208.3,1677.8 M1173.5,1689.8 1177.8,1685.4 M1197.4,1799.6 1203.9,1806.1 1208.3,1814.8 1206.1,1823.5 1212.6,1821.3 1214.8,1812.6 1210.4,1806.1 1221.3,1797.4 1227.8,1790.9 1230,1775.7 1221.3,1773.5 1217,1780 1212.6,1786.5 1208.3,1795.2 1203.9,1799.6 M1190.9,1808.3 1192,1817 M1232.2,1795.2 1250,1790.9 1243,1803.9 1236.5,1799.6 M1217,1812.6 1221.3,1817 M975.7,1807.2 980,1814.8 981.1,1823.5 980,1825.7 976.7,1812.6 M947.4,1848.5 951.7,1845.2 M970.2,1837.6 973.5,1834.3 M1003.9,1797.4 1008.3,1803.9 1009.3,1809.3 M1086.5,1664.8 1090.9,1662.6 M1083.3,1677.8 1089.8,1675.7 M1158.3,1861.5 1161.5,1860.4 M1246.5,1575.7 1259.6,1583.3 1261.7,1588.7 1270.4,1593 1283.5,1597.4 1292.2,1606.1 1303,1611.5 1296.5,1614.8 1287.8,1612.6 1281.3,1612.6 1274.8,1603.9 1261.7,1595.2 1257.4,1588.7 1250.9,1583.3Z M1240,1584.3 1248.7,1586.5 1253,1593 1240,1593 M1411.7,1545.2 1413.9,1556.1 1416.1,1560.4 1420.4,1547.4 1418.3,1545.2Z M1431.3,1553.9 1427,1569.1 1431.3,1574.6 1431.3,1562.6Z M1500.9,1569.1 1505.2,1564.8 M1513.9,1564.8 1522.6,1560.4 1527,1562.6 1522.6,1569.1 1516.1,1570.2Z M1543.3,1551.7 1546.5,1558.3 M1570.4,1551.7 1574.8,1550.7 M1592.2,1567 1600.9,1572.4 M1605.2,1571.3 1609.6,1556.1 1611.7,1553.9 1607.4,1571.3Z M1627,1556.1 1629.1,1568 M1596.5,1575.7 1603,1580 M1462.8,1583.3 1466.1,1588.7 M1416.1,1588.7 1419.3,1592 M1431.3,1595.2 1433.5,1602.8 M1381.3,1596.3 1385.7,1599.6 1383.5,1603.9 M1253,1657.2 1268.3,1659.3 M1563.9,1599.6 1566.1,1606.1 1563.9,1608.3 M1553,1630 1550.9,1634.3 M1612.8,1689.8 1620.4,1695.2 M1644.3,1703.9 1653,1701.7 M1642.2,1751.7 1644.3,1751.7 M1300.9,1744.1 1307.4,1738.7 M1511.7,1853.9 1522.6,1851.7 1529.1,1849.6 1535.7,1845.2 1544.3,1840.9 1555.2,1834.3 1566.1,1830 1574.8,1823.5 1583.5,1817 1592.2,1814.8 1600.9,1817 1609.6,1817 1618.3,1812.6 1622.6,1812.6 M1511.7,1853.9 1507.4,1862.6 1507.4,1877.8 1513.9,1886.5 1518.3,1890.9 1520.4,1899.6 1518.3,1912.6 1522.6,1917 1533.5,1921.3 1535.7,1930 1527,1934.3 1516.1,1943 1511.7,1951.7 M1513.9,1856.1 1511.7,1869.1 1516.1,1882.2 1520.4,1888.7 M1618.3,1843 1620.4,1851.7 1622.6,1862.6 1627,1873.5 1629.1,1888.7 1631.3,1899.6 1637.8,1912.6 1644.3,1921.3 1653,1927.8 1660,1934.3 M1240,1771.3 1263.9,1786.5 1259.6,1795.2 1253,1803.9 1248.7,1812.6 M1266.1,1769.1 1272.6,1775.7 M1366.1,1819.1 1370.4,1812.6 1381.3,1810.4 1392.2,1808.3 1395.4,1807.2 1392.2,1814.8 1383.5,1825.7 1381.3,1838.7 1383.5,1856.1 1374.8,1856.1 1368.3,1851.7 1372.6,1838.7 1379.1,1825.7 M1320.4,1834.3 1324.8,1830 1329.1,1825.7 1331.3,1819.1 1327,1817 M1366.1,1819.1 1361.7,1821.3 M1403,1777.8 1405.2,1776.7 M1427,1788.7 1429.1,1790.9 M1516.1,1775.7 1518.3,1777.8 M1860.9,1540.9 1871.7,1537.6 1871.7,1545.2 1867.4,1556.1 1865.2,1564.8 1871.7,1569.1 1862,1565.9 1860.9,1553.9 1863,1543Z M2017.4,1610.4 2023.9,1605 M1915.2,1677.8 1923.9,1671.3 1937,1667 1950,1662.6 1963,1656.1 1967.4,1649.6 1978.3,1640.9 1978.3,1632.2 1987,1636.5 1989.1,1640.9 1978.3,1647.4 1967.4,1653.9 1952.2,1660.4 1939.1,1667 1928.3,1673.5 1919.6,1680Z M1650,1703.9 1656.5,1710.4 1663,1709.3 1671.7,1710.4 M1695.7,1708.3 1704.3,1703.9 M1684.8,1862.6 1687,1860.4 1691.3,1864.8 1695.7,1871.3 1702.2,1875.7 1708.7,1877.8 1715.2,1886.5 1723.9,1888.7 1728.3,1893 1732.6,1899.6 1739.1,1903.9 1741.3,1912.6 1737,1921.3 1734.8,1930 1739.1,1936.5 1743.5,1943 1747.8,1951.7 M1684.8,1862.6 1684.8,1877.8 1682.6,1886.5 1676.1,1895.2 1671.7,1899.6 1667.4,1908.3 1663,1917 1656.5,1923.5 1650,1927.8 M1689.1,1886.5 1693.5,1899.6 1697.8,1912.6 1700,1925.7 1706.5,1938.7 1713,1951.7 M1650,1912.6 1656.5,1917 1658.7,1927.8 1656.5,1934.3 1650,1940.9 M1704.3,1888.7 1710.9,1899.6 1715.2,1912.6 1723.9,1921.3 1728.3,1934.3 M2045.7,1936.5 2052.2,1938.7 M1414.3,313.3 1432,319.9 1411.7,319 1432.5,326.3 1411,325.1 1431.3,331.4 1415.8,332.7 1426.7,337.3 1407.4,338.2 1427.4,343.9 1407.6,350.1 1423.4,347.3 1413.4,354.8 1426.9,352.9 1415.2,361 1432,358.5 1421.5,365.3 1431.2,365.9 1421.3,372.5 1438.7,370.4 1419.5,380.2 1434.7,378.4 1421.2,386.3 1436.4,384.2 1425.2,392.6 1439,390.9 1436,396 M1435.8,396.3 1441.3,398.7 1436.8,403.4 1441,406.1 1436.3,411.2 1444.5,411.8 1440.1,416.6 1446.7,417.8 1441.4,422.9 1447.9,424 1444.3,428.6 1450.6,429.8 1445,435 1452.7,435.8 1446.6,441.4 1453.1,442.2 1450.5,446.9 1455.3,448.4 1455,452 M1085.5,319.1 1089.3,318.5 1090.9,322.2 1095.4,320.3 1096.8,324.4 1101.5,323.2 1101.5,328.3 1106,327.8 1105.9,333 1111.5,331.8 1110.8,336.4 1115.5,336.6 1114.2,341.7 1118.8,341.9 1117.9,347.1 1123.3,347 1123.6,352.1 1128,353 M1127.6,357.6 1131.2,354.6 1133.6,358.5 1137.3,354.9 1139.7,359.1 1143.5,356.6 1146.5,359 1150.2,357.2 1152.9,361.9 1156.9,358.2 1160.4,362.5 1162.5,356.7 1166.5,361.8 1168.7,356.9 1172.3,359.6 1174.7,355.5 1179,359.3 1180.4,354.8 1184.6,357 1185.5,351.1 1190.4,354.8 1191.8,350.3 1196.6,352.4 1196.9,347.4 1200.9,348 1201.3,343.2 1206.6,345.7 1206.6,340.3 1211.6,342.4 1211.4,336.6 1215.9,338 1216.6,333.7 1220.7,334.4 1221.9,330.8 1225.7,331 1226.2,326.4 1231.7,329.2 1231.8,324 1235.6,324.2 1235.9,319.2 1240,320 M1746.1,319.1 1754.4,320.4 1749.3,325.6 1757.1,327 1748.9,333.1 1758.6,335.7 1750.9,337.3 1755.8,341.4 1747.7,342.9 1754.5,347.4 1748.2,350.6 1757.8,352.5 1750.7,357 1758.3,359.3 1748.3,364.2 1758.9,366 1749.9,369.2 1756.7,373.7 1750.4,376.1 1755.9,380.4 1747.7,382.5 1755.5,387.1 1748.3,389.6 1757.6,393.9 1746,396.1 1756.9,400.6 1747,403 1754.2,407 1745.6,407.8 1751.7,415 1744,415.3 1745,420"/>
</g>

<g stroke="#555" stroke-width="1.3" fill="none">
<rect x="428" y="314" width="1644" height="1644"/>
</g>
<!--TICKS-->
<path fill="none" stroke="#111" stroke-width="1.1" d="M688.0,276V314M1008.0,276V314M1323.0,276V314M1642.0,276V314M1961.0,276V314M465.2,1958V1997M638.7,1958V1997M811.3,1958V1997M982.6,1958V1997M1153.5,1958V1997M1323.0,1958V1997M1494.8,1958V1997M1666.5,1958V1997M1838.3,1958V1997M2010.0,1958V1997M389,516.0H428M389,762.0H428M389,1003.4H428M389,1245.2H428M389,1485.2H428M389,1727.8H428M2072,541.0H2111M2072,785.0H2111M2072,1026.0H2111M2072,1265.2H2111M2072,1507.2H2111M2072,1748.5H2111"/>
<g font-size="53" text-anchor="middle">
<text x="465.2" y="2074.5">0°</text>
<text x="638.7" y="2074.5">2°E</text>
<text x="811.3" y="2074.5">4°E</text>
<text x="982.6" y="2074.5">6°E</text>
<text x="1153.5" y="2074.5">8°E</text>
<text x="1323.0" y="2074.5">10°E</text>
<text x="1494.8" y="2074.5">12°E</text>
<text x="1666.5" y="2074.5">14°E</text>
<text x="1838.3" y="2074.5">16°E</text>
<text x="2010.0" y="2074.5">18°E</text>
</g>
<g font-size="53" text-anchor="end">
<text x="353" y="535.5">56°N</text>
<text x="353" y="781.5">54°N</text>
<text x="353" y="1022.9">52°N</text>
<text x="353" y="1264.7">50°N</text>
<text x="353" y="1504.7">48°N</text>
<text x="353" y="1747.3">46°N</text>
</g>
<g font-size="53" text-anchor="start">
<text x="2146" y="560.5">56°N</text>
<text x="2146" y="804.5">54°N</text>
<text x="2146" y="1045.5">52°N</text>
<text x="2146" y="1284.7">50°N</text>
<text x="2146" y="1526.7">48°N</text>
<text x="2146" y="1768.0">46°N</text>
</g>
<g font-size="53" text-anchor="middle">
<text x="688" y="237">0°</text>
<text x="1008" y="237">5°E</text>
<text x="1323" y="237">10°E</text>
<text x="1642" y="237">15°E</text>
<text x="1961" y="237">20°E</text>
</g>
<rect x="1211.5" y="2108.5" width="860.5" height="65" fill="none" stroke="#888" stroke-width="1.3"/>
<text x="1641" y="2153" font-size="45.2" text-anchor="middle">pressure (hPa) from 998 to 1030 by 2 hPa</text>
<text x="1250" y="2259" font-size="56.5" text-anchor="middle">Convective available potential energy [CAPE] in (J/kg)</text>
<g stroke="#444" stroke-width="1">
<rect x="370.7" y="2295" width="159.9" height="65.2" fill="#fff"/>
<rect x="530.6" y="2295" width="159.9" height="65.2" fill="#00ff00"/>
<rect x="690.5" y="2295" width="159.9" height="65.2" fill="#008000"/>
<rect x="850.4" y="2295" width="159.9" height="65.2" fill="#f0e68c"/>
<rect x="1010.3" y="2295" width="159.9" height="65.2" fill="#ffff00"/>
<rect x="1170.2" y="2295" width="159.9" height="65.2" fill="#ff8c00"/>
<rect x="1330.2" y="2295" width="159.9" height="65.2" fill="#ff0000"/>
<rect x="1490.1" y="2295" width="159.9" height="65.2" fill="#8b0000"/>
<rect x="1650.0" y="2295" width="159.9" height="65.2" fill="#ba55d3"/>
<rect x="1809.9" y="2295" width="159.9" height="65.2" fill="#9932cc"/>
<rect x="1969.8" y="2295" width="159.9" height="65.2" fill="#8b008b"/>
</g>
<g font-size="52" text-anchor="middle">
<text x="530.6" y="2419">.1</text>
<text x="690.5" y="2419">500</text>
<text x="850.4" y="2419">1000</text>
<text x="1010.3" y="2419">1500</text>
<text x="1170.2" y="2419">2000</text>
<text x="1330.2" y="2419">2500</text>
<text x="1490.1" y="2419">3000</text>
<text x="1650.0" y="2419">3500</text>
<text x="1809.9" y="2419">4000</text>
<text x="1969.8" y="2419">4500</text>
</g>
</svg>
</body></html>
